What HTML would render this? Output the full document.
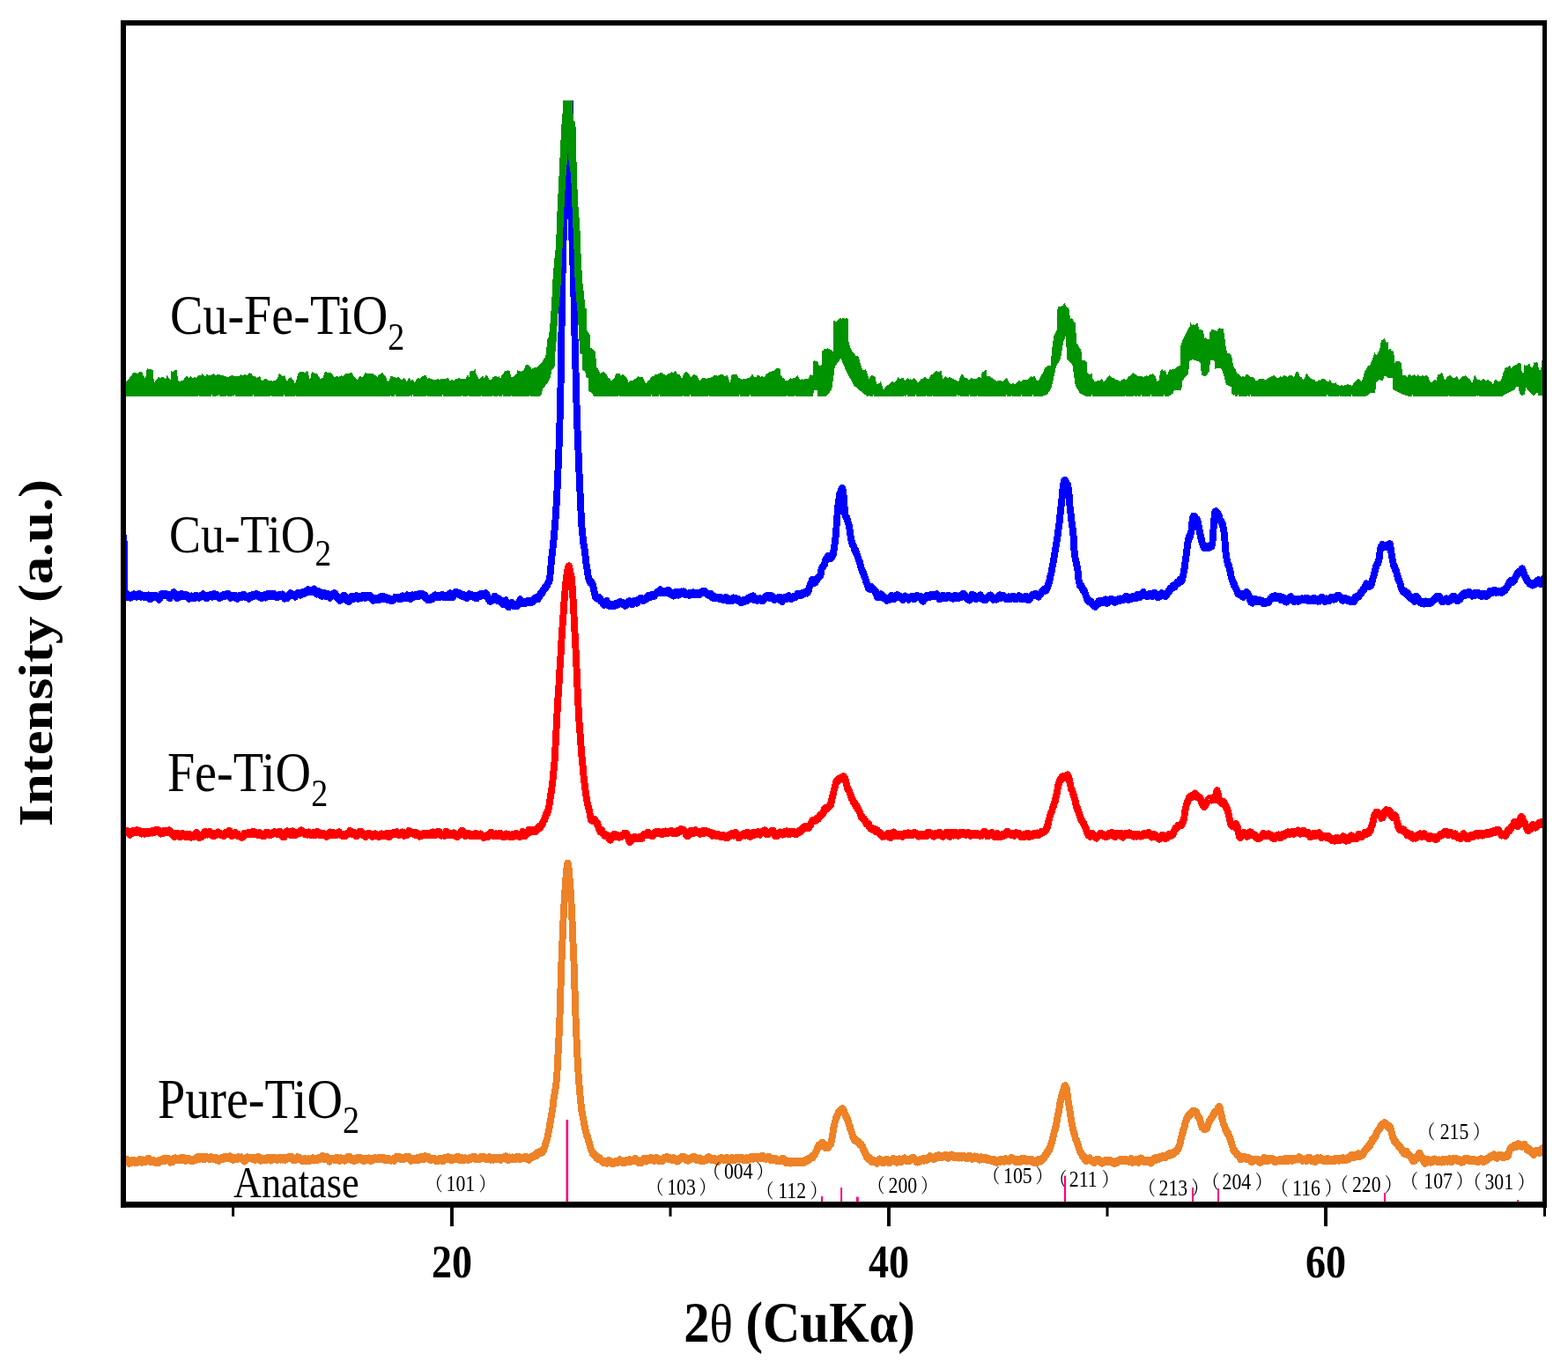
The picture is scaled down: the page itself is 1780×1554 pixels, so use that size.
<!DOCTYPE html>
<html lang="en">
<head>
<meta charset="utf-8">
<title>XRD patterns</title>
<style>html,body{margin:0;padding:0;background:#fff}svg{display:block}</style>
</head>
<body>
<svg width="1780" height="1554" viewBox="0 0 1780 1554">
<defs><clipPath id="plotclip"><rect x="140" y="114" width="1613" height="1254"/></clipPath></defs>
<rect width="1780" height="1554" fill="#fff"/>
<g clip-path="url(#plotclip)">
<g transform="scale(0.877 1)" fill="none" stroke-width="9.0" stroke-linejoin="round" stroke-linecap="butt" shape-rendering="crispEdges">
<path id="c-pure" stroke="#EE8227" d="M158.5 1317.7L159.1 1318.6L159.6 1318.9L160.2 1317.8L160.8 1317.9L161.3 1319.1L161.9 1316.8L162.5 1316.3L163.1 1317.5L163.6 1316.8L164.2 1316.6L164.8 1317.5L165.3 1318.7L165.9 1318.6L166.5 1318.8L167.0 1320.2L167.6 1320.0L168.2 1319.6L168.8 1320.0L169.3 1319.2L169.9 1319.6L170.5 1317.5L171.0 1317.7L171.6 1317.4L172.2 1317.1L172.7 1317.7L173.3 1317.3L173.9 1318.8L174.5 1319.3L175.0 1318.3L175.6 1319.2L176.2 1318.8L176.7 1318.2L177.3 1319.6L177.9 1318.5L178.4 1317.8L179.0 1318.7L179.6 1317.5L180.2 1318.6L180.7 1317.0L181.3 1316.6L181.9 1317.1L182.4 1317.6L183.0 1318.2L183.6 1319.2L184.2 1318.8L184.7 1317.8L185.3 1316.9L185.9 1317.0L186.4 1318.8L187.0 1317.9L187.6 1318.5L188.1 1317.2L188.7 1317.0L189.3 1318.3L189.9 1317.4L190.4 1316.5L191.0 1316.2L191.6 1315.5L192.1 1315.7L192.7 1315.6L193.3 1317.7L193.8 1317.6L194.4 1317.3L195.0 1318.6L195.6 1317.5L196.1 1317.1L196.7 1318.0L197.3 1318.7L197.8 1317.1L198.4 1319.0L199.0 1318.3L199.5 1318.5L200.1 1318.5L200.7 1319.0L201.3 1319.7L201.8 1319.0L202.4 1319.7L203.0 1318.4L203.5 1318.6L204.1 1318.4L204.7 1319.7L205.2 1319.4L205.8 1317.8L206.4 1317.8L207.0 1317.4L207.5 1318.3L208.1 1317.0L208.7 1317.2L209.2 1317.7L209.8 1316.9L210.4 1317.4L210.9 1316.5L211.5 1315.6L212.1 1315.7L212.7 1316.0L213.2 1316.6L213.8 1317.3L214.4 1315.9L214.9 1316.9L215.5 1315.7L216.1 1316.0L216.6 1316.4L217.2 1316.6L217.8 1316.6L218.4 1315.6L218.9 1316.8L219.5 1317.0L220.1 1319.1L220.6 1317.6L221.2 1317.8L221.8 1318.0L222.3 1317.3L222.9 1318.7L223.5 1317.9L224.1 1316.4L224.6 1316.5L225.2 1315.1L225.8 1315.9L226.3 1315.1L226.9 1314.9L227.5 1315.3L228.1 1316.4L228.6 1316.8L229.2 1316.2L229.8 1316.8L230.3 1316.2L230.9 1315.6L231.5 1315.9L232.0 1315.8L232.6 1316.7L233.2 1315.0L233.8 1314.9L234.3 1315.9L234.9 1316.6L235.5 1316.3L236.0 1315.6L236.6 1314.2L237.2 1315.8L237.7 1316.0L238.3 1315.5L238.9 1316.6L239.5 1315.9L240.0 1317.3L240.6 1316.8L241.2 1316.8L241.7 1316.6L242.3 1315.6L242.9 1316.7L243.4 1315.6L244.0 1315.3L244.6 1315.9L245.2 1316.3L245.7 1316.2L246.3 1317.1L246.9 1317.3L247.4 1316.7L248.0 1317.4L248.6 1316.6L249.1 1317.2L249.7 1316.2L250.3 1317.3L250.9 1316.5L251.4 1316.7L252.0 1316.7L252.6 1316.0L253.1 1315.1L253.7 1316.3L254.3 1314.4L254.8 1314.7L255.4 1314.8L256.0 1313.3L256.6 1313.1L257.1 1314.2L257.7 1314.4L258.3 1314.5L258.8 1315.3L259.4 1315.0L260.0 1313.8L260.5 1314.0L261.1 1313.0L261.7 1313.8L262.3 1313.4L262.8 1313.4L263.4 1315.4L264.0 1315.2L264.5 1315.4L265.1 1315.0L265.7 1315.4L266.2 1314.6L266.8 1314.7L267.4 1313.5L268.0 1314.2L268.5 1314.6L269.1 1314.4L269.7 1314.7L270.2 1314.4L270.8 1315.4L271.4 1314.0L271.9 1315.5L272.5 1314.4L273.1 1313.7L273.7 1314.5L274.2 1314.0L274.8 1314.0L275.4 1315.1L275.9 1314.0L276.5 1315.3L277.1 1315.1L277.7 1315.4L278.2 1315.3L278.8 1314.5L279.4 1315.4L279.9 1316.3L280.5 1315.1L281.1 1314.9L281.6 1315.2L282.2 1316.1L282.8 1317.2L283.4 1315.3L283.9 1317.1L284.5 1316.1L285.1 1315.1L285.6 1315.5L286.2 1314.8L286.8 1315.5L287.3 1315.0L287.9 1314.3L288.5 1314.1L289.1 1315.2L289.6 1314.8L290.2 1313.7L290.8 1313.4L291.3 1314.0L291.9 1314.6L292.5 1313.1L293.0 1313.7L293.6 1314.4L294.2 1315.0L294.8 1314.3L295.3 1314.3L295.9 1314.5L296.5 1314.4L297.0 1314.7L297.6 1314.1L298.2 1312.9L298.7 1313.1L299.3 1314.3L299.9 1315.6L300.5 1316.1L301.0 1315.2L301.6 1316.3L302.2 1316.3L302.7 1315.1L303.3 1315.6L303.9 1314.9L304.4 1314.6L305.0 1315.6L305.6 1314.7L306.2 1315.7L306.7 1315.7L307.3 1315.5L307.9 1314.3L308.4 1313.4L309.0 1314.8L309.6 1314.8L310.1 1315.0L310.7 1314.2L311.3 1314.4L311.9 1314.0L312.4 1313.9L313.0 1314.5L313.6 1315.9L314.1 1315.6L314.7 1316.8L315.3 1316.8L315.8 1317.0L316.4 1318.1L317.0 1316.3L317.6 1316.6L318.1 1315.4L318.7 1316.4L319.3 1315.0L319.8 1314.2L320.4 1313.7L321.0 1314.6L321.6 1314.6L322.1 1314.4L322.7 1314.4L323.3 1315.0L323.8 1315.0L324.4 1314.5L325.0 1315.0L325.5 1315.0L326.1 1315.2L326.7 1315.1L327.3 1314.7L327.8 1315.1L328.4 1315.1L329.0 1315.3L329.5 1314.7L330.1 1316.2L330.7 1315.0L331.2 1314.3L331.8 1314.8L332.4 1314.9L333.0 1314.0L333.5 1313.8L334.1 1314.5L334.7 1313.8L335.2 1313.9L335.8 1315.5L336.4 1315.9L336.9 1317.1L337.5 1316.4L338.1 1317.1L338.7 1315.4L339.2 1315.2L339.8 1316.2L340.4 1315.4L340.9 1315.0L341.5 1315.0L342.1 1315.4L342.6 1315.4L343.2 1316.1L343.8 1317.0L344.4 1316.1L344.9 1315.6L345.5 1316.1L346.1 1314.5L346.6 1314.9L347.2 1314.7L347.8 1315.0L348.3 1314.7L348.9 1316.1L349.5 1316.5L350.1 1316.8L350.6 1317.1L351.2 1315.5L351.8 1315.7L352.3 1314.9L352.9 1314.2L353.5 1315.5L354.0 1315.2L354.6 1315.7L355.2 1315.6L355.8 1316.0L356.3 1314.7L356.9 1314.8L357.5 1315.4L358.0 1315.7L358.6 1316.1L359.2 1315.3L359.7 1315.4L360.3 1315.9L360.9 1314.7L361.5 1316.0L362.0 1314.8L362.6 1315.1L363.2 1315.9L363.7 1315.6L364.3 1315.0L364.9 1314.8L365.5 1316.1L366.0 1315.2L366.6 1314.8L367.2 1315.3L367.7 1314.7L368.3 1316.1L368.9 1314.5L369.4 1316.1L370.0 1314.5L370.6 1314.7L371.2 1315.3L371.7 1314.6L372.3 1314.5L372.9 1313.6L373.4 1314.0L374.0 1313.1L374.6 1313.6L375.1 1315.0L375.7 1313.8L376.3 1313.7L376.9 1314.4L377.4 1314.7L378.0 1313.6L378.6 1314.3L379.1 1315.7L379.7 1316.6L380.3 1316.8L380.8 1316.1L381.4 1315.9L382.0 1316.7L382.6 1316.2L383.1 1316.3L383.7 1315.7L384.3 1314.7L384.8 1313.8L385.4 1315.1L386.0 1314.6L386.5 1314.4L387.1 1314.8L387.7 1314.5L388.3 1314.8L388.8 1315.7L389.4 1315.9L390.0 1316.6L390.5 1317.3L391.1 1317.4L391.7 1316.7L392.2 1316.8L392.8 1317.9L393.4 1316.6L394.0 1317.1L394.5 1315.5L395.1 1316.2L395.7 1316.6L396.2 1317.5L396.8 1317.9L397.4 1316.5L397.9 1317.4L398.5 1317.1L399.1 1315.9L399.7 1317.0L400.2 1316.4L400.8 1317.3L401.4 1316.0L401.9 1316.8L402.5 1316.4L403.1 1316.7L403.6 1316.2L404.2 1315.5L404.8 1314.9L405.4 1315.2L405.9 1315.1L406.5 1316.4L407.1 1315.8L407.6 1315.9L408.2 1315.5L408.8 1315.4L409.4 1316.7L409.9 1315.3L410.5 1316.3L411.1 1315.6L411.6 1316.2L412.2 1314.4L412.8 1315.8L413.3 1315.4L413.9 1315.0L414.5 1315.2L415.1 1315.1L415.6 1314.3L416.2 1314.3L416.8 1313.2L417.3 1312.6L417.9 1314.1L418.5 1314.0L419.0 1315.2L419.6 1314.2L420.2 1315.3L420.8 1315.5L421.3 1315.2L421.9 1315.2L422.5 1313.6L423.0 1313.6L423.6 1314.0L424.2 1314.9L424.7 1315.2L425.3 1316.1L425.9 1316.4L426.5 1318.3L427.0 1316.9L427.6 1316.9L428.2 1316.0L428.7 1316.1L429.3 1316.0L429.9 1315.1L430.4 1315.6L431.0 1315.2L431.6 1316.0L432.2 1316.2L432.7 1316.4L433.3 1316.3L433.9 1316.4L434.4 1315.4L435.0 1315.0L435.6 1315.8L436.1 1314.2L436.7 1314.5L437.3 1315.0L437.9 1317.0L438.4 1316.8L439.0 1317.0L439.6 1317.2L440.1 1315.3L440.7 1316.3L441.3 1314.7L441.8 1315.3L442.4 1315.8L443.0 1316.3L443.6 1315.4L444.1 1315.9L444.7 1315.1L445.3 1315.6L445.8 1317.1L446.4 1316.9L447.0 1316.2L447.5 1316.4L448.1 1316.2L448.7 1314.7L449.3 1315.6L449.8 1314.3L450.4 1313.6L451.0 1314.3L451.5 1314.4L452.1 1314.5L452.7 1314.5L453.2 1313.5L453.8 1315.1L454.4 1316.0L455.0 1315.8L455.5 1316.7L456.1 1316.0L456.7 1316.9L457.2 1315.7L457.8 1317.3L458.4 1316.4L459.0 1317.2L459.5 1315.8L460.1 1316.1L460.7 1316.4L461.2 1315.9L461.8 1315.6L462.4 1316.3L462.9 1314.4L463.5 1314.4L464.1 1315.2L464.7 1315.9L465.2 1315.3L465.8 1314.6L466.4 1314.4L466.9 1315.2L467.5 1315.3L468.1 1315.4L468.6 1316.0L469.2 1315.7L469.8 1317.2L470.4 1316.2L470.9 1315.8L471.5 1316.2L472.1 1317.3L472.6 1315.7L473.2 1315.8L473.8 1317.0L474.3 1315.8L474.9 1316.8L475.5 1315.1L476.1 1316.6L476.6 1315.1L477.2 1314.9L477.8 1316.2L478.3 1316.9L478.9 1317.1L479.5 1316.9L480.0 1317.2L480.6 1317.3L481.2 1316.4L481.8 1315.6L482.3 1316.9L482.9 1315.9L483.5 1315.7L484.0 1315.9L484.6 1314.8L485.2 1314.6L485.7 1314.7L486.3 1315.1L486.9 1315.2L487.5 1315.5L488.0 1315.4L488.6 1315.8L489.2 1315.2L489.7 1315.4L490.3 1315.1L490.9 1314.1L491.4 1314.1L492.0 1315.7L492.6 1314.7L493.2 1315.9L493.7 1315.2L494.3 1314.1L494.9 1315.0L495.4 1314.7L496.0 1314.1L496.6 1314.9L497.1 1315.5L497.7 1316.1L498.3 1317.0L498.9 1315.8L499.4 1316.2L500.0 1316.4L500.6 1317.0L501.1 1315.4L501.7 1315.4L502.3 1315.8L502.9 1316.0L503.4 1316.0L504.0 1315.8L504.6 1316.0L505.1 1316.1L505.7 1316.7L506.3 1317.2L506.8 1316.6L507.4 1316.1L508.0 1315.9L508.6 1316.2L509.1 1316.1L509.7 1316.7L510.3 1317.3L510.8 1316.6L511.4 1314.9L512.0 1314.0L512.5 1313.7L513.1 1314.2L513.7 1313.9L514.3 1314.5L514.8 1313.2L515.4 1313.4L516.0 1314.3L516.5 1314.1L517.1 1314.3L517.7 1315.3L518.2 1314.0L518.8 1314.3L519.4 1315.0L520.0 1314.9L520.5 1315.7L521.1 1315.8L521.7 1315.2L522.2 1315.6L522.8 1315.4L523.4 1314.0L523.9 1314.5L524.5 1313.7L525.1 1313.7L525.7 1313.4L526.2 1313.2L526.8 1314.9L527.4 1314.6L527.9 1314.5L528.5 1313.5L529.1 1313.8L529.6 1313.5L530.2 1314.9L530.8 1316.1L531.4 1316.7L531.9 1317.5L532.5 1316.2L533.1 1316.8L533.6 1315.3L534.2 1315.9L534.8 1315.1L535.3 1316.1L535.9 1316.3L536.5 1316.1L537.1 1316.1L537.6 1316.7L538.2 1316.0L538.8 1315.7L539.3 1314.8L539.9 1314.9L540.5 1316.0L541.0 1316.4L541.6 1315.3L542.2 1316.3L542.8 1316.1L543.3 1314.3L543.9 1313.8L544.5 1314.1L545.0 1313.1L545.6 1314.6L546.2 1314.0L546.8 1315.3L547.3 1315.7L547.9 1314.8L548.5 1315.8L549.0 1314.1L549.6 1313.1L550.2 1312.6L550.7 1313.4L551.3 1313.9L551.9 1313.4L552.5 1314.8L553.0 1313.8L553.6 1315.1L554.2 1313.6L554.7 1314.2L555.3 1314.2L555.9 1315.1L556.4 1315.3L557.0 1315.6L557.6 1316.6L558.2 1316.1L558.7 1316.1L559.3 1315.5L559.9 1316.1L560.4 1315.2L561.0 1315.5L561.6 1315.8L562.1 1315.5L562.7 1315.7L563.3 1315.9L563.9 1317.5L564.4 1317.4L565.0 1317.5L565.6 1316.3L566.1 1316.7L566.7 1317.5L567.3 1315.9L567.8 1316.7L568.4 1315.9L569.0 1315.2L569.6 1315.6L570.1 1315.3L570.7 1316.9L571.3 1317.3L571.8 1316.2L572.4 1316.8L573.0 1317.7L573.5 1316.3L574.1 1316.6L574.7 1316.7L575.3 1315.8L575.8 1314.6L576.4 1315.9L577.0 1315.5L577.5 1315.0L578.1 1314.4L578.7 1314.7L579.2 1314.2L579.8 1313.7L580.4 1313.9L581.0 1314.1L581.5 1314.8L582.1 1315.2L582.7 1316.1L583.2 1315.9L583.8 1315.8L584.4 1316.3L584.9 1314.9L585.5 1315.8L586.1 1315.4L586.7 1316.1L587.2 1315.3L587.8 1315.1L588.4 1314.9L588.9 1315.1L589.5 1315.5L590.1 1314.2L590.6 1314.8L591.2 1313.6L591.8 1313.6L592.4 1314.0L592.9 1313.3L593.5 1314.5L594.1 1315.3L594.6 1316.3L595.2 1314.9L595.8 1316.2L596.4 1315.5L596.9 1315.3L597.5 1314.3L598.1 1316.1L598.6 1315.0L599.2 1315.7L599.8 1315.7L600.3 1316.4L600.9 1315.7L601.5 1316.4L602.1 1314.7L602.6 1315.5L603.2 1315.2L603.8 1315.1L604.3 1315.5L604.9 1315.6L605.5 1315.5L606.0 1316.4L606.6 1315.3L607.2 1315.9L607.8 1315.5L608.3 1314.6L608.9 1315.1L609.5 1315.3L610.0 1314.2L610.6 1314.5L611.2 1313.9L611.7 1314.8L612.3 1313.5L612.9 1313.6L613.5 1313.9L614.0 1313.9L614.6 1313.2L615.2 1315.3L615.7 1314.2L616.3 1315.3L616.9 1314.8L617.4 1315.8L618.0 1315.4L618.6 1315.4L619.2 1315.6L619.7 1315.7L620.3 1315.5L620.9 1315.5L621.4 1314.4L622.0 1313.7L622.6 1313.7L623.1 1313.7L623.7 1314.4L624.3 1314.2L624.9 1314.1L625.4 1313.7L626.0 1314.6L626.6 1313.6L627.1 1314.5L627.7 1315.2L628.3 1315.3L628.8 1314.6L629.4 1315.0L630.0 1316.0L630.6 1314.1L631.1 1315.0L631.7 1314.3L632.3 1314.5L632.8 1314.1L633.4 1313.8L634.0 1314.9L634.5 1314.2L635.1 1316.1L635.7 1316.1L636.3 1315.3L636.8 1315.6L637.4 1315.4L638.0 1316.2L638.5 1314.1L639.1 1314.5L639.7 1314.7L640.3 1315.4L640.8 1315.3L641.4 1314.7L642.0 1314.0L642.5 1315.4L643.1 1315.1L643.7 1314.6L644.2 1315.5L644.8 1315.0L645.4 1314.5L646.0 1314.4L646.5 1315.0L647.1 1314.7L647.7 1315.2L648.2 1316.4L648.8 1315.3L649.4 1314.5L649.9 1314.6L650.5 1315.0L651.1 1314.7L651.7 1314.2L652.2 1314.5L652.8 1314.0L653.4 1313.7L653.9 1313.2L654.5 1312.8L655.1 1314.4L655.6 1314.6L656.2 1315.8L656.8 1314.9L657.4 1316.4L657.9 1315.2L658.5 1316.6L659.1 1316.3L659.6 1314.0L660.2 1314.2L660.8 1315.4L661.3 1315.4L661.9 1314.9L662.5 1314.0L663.1 1313.9L663.6 1314.4L664.2 1315.9L664.8 1315.8L665.3 1315.1L665.9 1315.8L666.5 1316.0L667.0 1314.6L667.6 1315.6L668.2 1314.2L668.8 1314.1L669.3 1313.3L669.9 1313.3L670.5 1314.1L671.0 1313.2L671.6 1314.5L672.2 1314.2L672.7 1315.6L673.3 1314.5L673.9 1314.6L674.5 1314.4L675.0 1314.6L675.6 1314.6L676.2 1314.3L676.7 1314.3L677.3 1314.4L677.9 1314.4L678.4 1314.1L679.0 1313.7L679.6 1315.0L680.2 1314.2L680.7 1314.8L681.3 1313.8L681.9 1314.6L682.4 1314.4L683.0 1315.1L683.6 1316.1L684.2 1315.5L684.7 1316.2L685.3 1314.9L685.9 1315.1L686.4 1314.7L687.0 1314.4L687.6 1313.3L688.1 1313.8L688.7 1313.8L689.3 1313.6L689.9 1312.0L690.4 1312.8L691.0 1312.3L691.6 1312.4L692.1 1311.0L692.7 1311.9L693.3 1310.9L693.8 1311.7L694.4 1309.4L695.0 1309.8L695.6 1309.4L696.1 1309.7L696.7 1309.2L697.3 1307.9L697.8 1308.0L698.4 1308.8L699.0 1308.0L699.5 1307.6L700.1 1308.8L700.7 1308.5L701.3 1307.3L701.8 1307.3L702.4 1307.5L703.0 1305.4L703.5 1305.8L704.1 1304.6L704.7 1303.0L705.2 1301.4L705.8 1299.7L706.4 1297.8L707.0 1296.2L707.5 1293.9L708.1 1293.0L708.7 1291.3L709.2 1288.7L709.8 1286.5L710.4 1283.2L710.9 1281.0L711.5 1277.9L712.1 1273.8L712.7 1272.7L713.2 1269.2L713.8 1266.1L714.4 1263.1L714.9 1260.2L715.5 1257.0L716.1 1252.7L716.6 1248.5L717.2 1245.8L717.8 1241.7L718.4 1239.9L718.9 1235.7L719.5 1233.3L720.1 1228.4L720.6 1223.8L721.2 1216.3L721.8 1208.1L722.3 1197.7L722.9 1188.9L723.5 1177.4L724.1 1167.1L724.6 1154.3L725.2 1137.3L725.8 1120.4L726.3 1105.5L726.9 1091.3L727.5 1078.9L728.1 1066.3L728.6 1055.8L729.2 1043.5L729.8 1033.5L730.3 1025.2L730.9 1016.6L731.5 1009.7L732.0 1002.1L732.6 996.1L733.2 991.1L733.8 984.6L734.3 981.3L734.9 980.1L735.5 981.8L736.0 983.8L736.6 990.3L737.2 996.3L737.7 1002.8L738.3 1009.0L738.9 1016.8L739.5 1025.3L740.0 1034.2L740.6 1044.9L741.2 1056.5L741.7 1068.9L742.3 1080.4L742.9 1092.7L743.4 1108.5L744.0 1122.8L744.6 1138.6L745.2 1155.3L745.7 1166.8L746.3 1178.1L746.9 1189.6L747.4 1199.8L748.0 1209.1L748.6 1218.4L749.1 1224.5L749.7 1230.8L750.3 1237.1L750.9 1244.2L751.4 1248.2L752.0 1252.6L752.6 1257.4L753.1 1261.3L753.7 1263.5L754.3 1267.0L754.8 1268.8L755.4 1271.9L756.0 1275.4L756.6 1277.6L757.1 1280.2L757.7 1282.2L758.3 1284.3L758.8 1287.1L759.4 1288.6L760.0 1288.7L760.5 1290.7L761.1 1292.9L761.7 1294.7L762.3 1295.7L762.8 1297.9L763.4 1298.9L764.0 1301.9L764.5 1303.8L765.1 1304.7L765.7 1305.8L766.2 1306.6L766.8 1308.7L767.4 1309.5L768.0 1308.8L768.5 1310.2L769.1 1311.6L769.7 1310.5L770.2 1311.5L770.8 1312.1L771.4 1313.4L771.9 1313.5L772.5 1314.7L773.1 1313.4L773.7 1314.0L774.2 1315.7L774.8 1314.1L775.4 1314.7L775.9 1315.2L776.5 1314.8L777.1 1315.9L777.7 1317.0L778.2 1317.5L778.8 1317.9L779.4 1318.4L779.9 1318.7L780.5 1317.9L781.1 1319.4L781.6 1319.3L782.2 1318.5L782.8 1318.7L783.4 1318.3L783.9 1319.8L784.5 1318.9L785.1 1318.9L785.6 1320.1L786.2 1319.6L786.8 1319.1L787.3 1318.2L787.9 1317.3L788.5 1317.4L789.1 1317.9L789.6 1318.5L790.2 1319.6L790.8 1318.7L791.3 1320.2L791.9 1319.0L792.5 1319.5L793.0 1321.0L793.6 1319.4L794.2 1319.6L794.8 1320.1L795.3 1319.3L795.9 1318.8L796.5 1319.1L797.0 1319.7L797.6 1319.8L798.2 1318.5L798.7 1318.5L799.3 1318.8L799.9 1318.2L800.5 1319.1L801.0 1318.7L801.6 1316.9L802.2 1316.6L802.7 1317.1L803.3 1317.9L803.9 1318.3L804.4 1318.0L805.0 1318.5L805.6 1319.3L806.2 1319.4L806.7 1318.0L807.3 1319.4L807.9 1319.6L808.4 1319.9L809.0 1318.8L809.6 1318.0L810.1 1318.3L810.7 1317.9L811.3 1317.8L811.9 1318.7L812.4 1318.4L813.0 1318.5L813.6 1318.3L814.1 1317.1L814.7 1316.6L815.3 1317.2L815.8 1318.1L816.4 1317.7L817.0 1318.1L817.6 1317.7L818.1 1317.8L818.7 1317.9L819.3 1317.0L819.8 1316.8L820.4 1316.7L821.0 1316.2L821.6 1316.5L822.1 1315.4L822.7 1315.8L823.3 1317.9L823.8 1316.9L824.4 1317.4L825.0 1317.5L825.5 1318.8L826.1 1317.8L826.7 1319.4L827.3 1318.3L827.8 1319.0L828.4 1319.3L829.0 1318.9L829.5 1318.4L830.1 1318.9L830.7 1319.2L831.2 1318.6L831.8 1317.1L832.4 1316.1L833.0 1317.3L833.5 1316.5L834.1 1315.3L834.7 1316.4L835.2 1316.8L835.8 1316.6L836.4 1318.1L836.9 1316.8L837.5 1316.3L838.1 1316.1L838.7 1315.7L839.2 1316.7L839.8 1316.2L840.4 1315.2L840.9 1315.6L841.5 1314.9L842.1 1315.9L842.6 1316.1L843.2 1314.6L843.8 1315.6L844.4 1315.3L844.9 1315.6L845.5 1316.7L846.1 1317.4L846.6 1316.0L847.2 1316.5L847.8 1315.8L848.3 1314.9L848.9 1315.5L849.5 1314.3L850.1 1315.4L850.6 1315.8L851.2 1315.1L851.8 1316.6L852.3 1316.4L852.9 1317.8L853.5 1316.8L854.0 1317.5L854.6 1317.3L855.2 1317.1L855.8 1316.5L856.3 1317.9L856.9 1317.0L857.5 1317.7L858.0 1316.7L858.6 1316.0L859.2 1315.9L859.7 1314.6L860.3 1315.0L860.9 1314.1L861.5 1314.5L862.0 1314.2L862.6 1314.5L863.2 1313.4L863.7 1313.5L864.3 1315.2L864.9 1314.6L865.5 1314.7L866.0 1315.3L866.6 1314.3L867.2 1315.7L867.7 1315.5L868.3 1315.7L868.9 1315.3L869.4 1316.5L870.0 1316.5L870.6 1316.0L871.2 1316.1L871.7 1314.5L872.3 1316.0L872.9 1316.6L873.4 1316.2L874.0 1315.6L874.6 1316.7L875.1 1316.3L875.7 1316.0L876.3 1318.0L876.9 1318.0L877.4 1317.6L878.0 1317.6L878.6 1317.2L879.1 1316.3L879.7 1315.1L880.3 1315.0L880.8 1314.9L881.4 1314.7L882.0 1313.8L882.6 1313.2L883.1 1313.6L883.7 1313.3L884.3 1314.9L884.8 1313.6L885.4 1314.0L886.0 1314.5L886.5 1314.2L887.1 1315.0L887.7 1315.5L888.3 1314.8L888.8 1316.8L889.4 1316.1L890.0 1315.4L890.5 1317.2L891.1 1315.6L891.7 1316.8L892.2 1316.4L892.8 1315.9L893.4 1316.0L894.0 1315.8L894.5 1314.9L895.1 1314.0L895.7 1313.9L896.2 1313.8L896.8 1314.4L897.4 1313.8L897.9 1313.7L898.5 1315.3L899.1 1313.7L899.7 1314.7L900.2 1314.5L900.8 1315.7L901.4 1314.6L901.9 1316.5L902.5 1315.3L903.1 1315.6L903.6 1316.6L904.2 1315.4L904.8 1316.0L905.4 1316.0L905.9 1315.0L906.5 1316.7L907.1 1316.4L907.6 1317.8L908.2 1316.0L908.8 1316.2L909.4 1317.4L909.9 1316.8L910.5 1317.1L911.1 1318.0L911.6 1316.7L912.2 1315.9L912.8 1315.9L913.3 1316.5L913.9 1316.8L914.5 1316.4L915.1 1315.5L915.6 1314.6L916.2 1314.0L916.8 1313.8L917.3 1313.7L917.9 1315.3L918.5 1314.6L919.0 1314.5L919.6 1316.0L920.2 1315.9L920.8 1315.1L921.3 1316.9L921.9 1316.6L922.5 1315.0L923.0 1316.1L923.6 1315.5L924.2 1316.1L924.7 1316.2L925.3 1316.5L925.9 1316.2L926.5 1315.9L927.0 1317.5L927.6 1317.1L928.2 1317.3L928.7 1318.1L929.3 1317.9L929.9 1318.3L930.4 1316.8L931.0 1317.0L931.6 1315.5L932.2 1315.2L932.7 1315.1L933.3 1314.8L933.9 1315.0L934.4 1314.5L935.0 1315.9L935.6 1315.1L936.1 1315.2L936.7 1316.5L937.3 1316.3L937.9 1316.2L938.4 1316.3L939.0 1315.8L939.6 1315.0L940.1 1316.3L940.7 1314.4L941.3 1316.1L941.8 1315.2L942.4 1315.0L943.0 1315.4L943.6 1315.5L944.1 1316.7L944.7 1316.7L945.3 1316.6L945.8 1315.3L946.4 1315.4L947.0 1314.5L947.5 1315.8L948.1 1314.5L948.7 1315.5L949.3 1315.1L949.8 1316.6L950.4 1316.7L951.0 1315.4L951.5 1316.4L952.1 1314.8L952.7 1315.6L953.2 1314.4L953.8 1314.6L954.4 1314.9L955.0 1314.5L955.5 1314.3L956.1 1315.2L956.7 1315.7L957.2 1316.2L957.8 1315.0L958.4 1315.1L959.0 1314.8L959.5 1315.0L960.1 1314.5L960.7 1314.8L961.2 1315.9L961.8 1315.0L962.4 1316.4L962.9 1316.0L963.5 1316.0L964.1 1316.5L964.7 1316.1L965.2 1315.8L965.8 1314.9L966.4 1315.8L966.9 1316.7L967.5 1315.3L968.1 1315.6L968.6 1316.5L969.2 1315.5L969.8 1314.8L970.4 1315.8L970.9 1314.2L971.5 1315.3L972.1 1314.7L972.6 1313.5L973.2 1314.0L973.8 1313.6L974.3 1314.5L974.9 1315.2L975.5 1313.4L976.1 1313.2L976.6 1313.1L977.2 1313.5L977.8 1313.3L978.3 1314.9L978.9 1314.6L979.5 1315.1L980.0 1314.5L980.6 1314.9L981.2 1314.6L981.8 1313.6L982.3 1314.2L982.9 1313.5L983.5 1313.9L984.0 1314.6L984.6 1313.3L985.2 1313.0L985.7 1314.2L986.3 1313.1L986.9 1312.3L987.5 1312.6L988.0 1312.6L988.6 1314.2L989.2 1313.7L989.7 1314.9L990.3 1314.2L990.9 1315.3L991.4 1315.3L992.0 1314.7L992.6 1315.1L993.2 1314.0L993.7 1313.5L994.3 1314.2L994.9 1313.1L995.4 1314.0L996.0 1314.7L996.6 1315.5L997.1 1316.2L997.7 1315.2L998.3 1316.7L998.9 1315.9L999.4 1316.2L1000.0 1315.9L1000.6 1316.8L1001.1 1315.7L1001.7 1315.1L1002.3 1316.7L1002.9 1316.3L1003.4 1316.5L1004.0 1315.5L1004.6 1315.9L1005.1 1316.9L1005.7 1317.4L1006.3 1317.4L1006.8 1317.5L1007.4 1317.9L1008.0 1317.0L1008.6 1317.7L1009.1 1317.2L1009.7 1317.7L1010.3 1316.8L1010.8 1316.8L1011.4 1316.4L1012.0 1316.5L1012.5 1316.4L1013.1 1315.1L1013.7 1317.0L1014.3 1317.1L1014.8 1317.2L1015.4 1318.3L1016.0 1319.1L1016.5 1319.0L1017.1 1317.6L1017.7 1317.9L1018.2 1319.1L1018.8 1319.8L1019.4 1318.0L1020.0 1318.0L1020.5 1319.2L1021.1 1319.2L1021.7 1319.9L1022.2 1318.9L1022.8 1319.5L1023.4 1320.1L1023.9 1319.3L1024.5 1319.3L1025.1 1318.6L1025.7 1320.0L1026.2 1319.1L1026.8 1318.6L1027.4 1318.8L1027.9 1319.0L1028.5 1319.0L1029.1 1318.2L1029.6 1319.1L1030.2 1318.9L1030.8 1319.7L1031.4 1319.4L1031.9 1319.0L1032.5 1319.4L1033.1 1319.0L1033.6 1319.4L1034.2 1318.6L1034.8 1319.7L1035.3 1318.7L1035.9 1319.3L1036.5 1318.3L1037.1 1319.3L1037.6 1319.9L1038.2 1320.0L1038.8 1319.7L1039.3 1318.9L1039.9 1319.5L1040.5 1319.5L1041.0 1319.2L1041.6 1318.6L1042.2 1317.8L1042.8 1318.1L1043.3 1316.7L1043.9 1318.1L1044.5 1316.8L1045.0 1316.6L1045.6 1316.8L1046.2 1315.8L1046.8 1316.8L1047.3 1316.4L1047.9 1315.5L1048.5 1314.6L1049.0 1315.1L1049.6 1313.6L1050.2 1313.6L1050.7 1312.8L1051.3 1313.0L1051.9 1313.8L1052.5 1312.9L1053.0 1312.3L1053.6 1311.7L1054.2 1311.3L1054.7 1310.5L1055.3 1309.3L1055.9 1308.4L1056.4 1306.5L1057.0 1305.9L1057.6 1305.0L1058.2 1302.8L1058.7 1301.8L1059.3 1302.1L1059.9 1300.1L1060.4 1299.8L1061.0 1300.7L1061.6 1298.9L1062.1 1298.7L1062.7 1299.3L1063.3 1297.7L1063.9 1298.2L1064.4 1298.2L1065.0 1297.2L1065.6 1298.2L1066.1 1300.3L1066.7 1299.6L1067.3 1300.3L1067.8 1301.8L1068.4 1300.6L1069.0 1302.7L1069.6 1302.2L1070.1 1302.2L1070.7 1301.1L1071.3 1302.3L1071.8 1302.7L1072.4 1301.8L1073.0 1300.9L1073.5 1300.6L1074.1 1299.7L1074.7 1299.3L1075.3 1299.0L1075.8 1296.3L1076.4 1295.2L1077.0 1292.4L1077.5 1289.2L1078.1 1286.1L1078.7 1283.2L1079.2 1279.7L1079.8 1278.2L1080.4 1275.0L1081.0 1272.5L1081.5 1272.0L1082.1 1270.1L1082.7 1267.7L1083.2 1268.0L1083.8 1266.1L1084.4 1264.6L1084.9 1263.5L1085.5 1262.3L1086.1 1261.9L1086.7 1261.4L1087.2 1261.0L1087.8 1261.8L1088.4 1260.6L1088.9 1259.4L1089.5 1259.4L1090.1 1259.3L1090.6 1258.5L1091.2 1259.5L1091.8 1260.2L1092.4 1262.0L1092.9 1262.3L1093.5 1264.3L1094.1 1265.7L1094.6 1266.0L1095.2 1268.0L1095.8 1268.7L1096.4 1268.9L1096.9 1269.7L1097.5 1273.0L1098.1 1272.8L1098.6 1276.0L1099.2 1276.6L1099.8 1277.6L1100.3 1280.8L1100.9 1281.7L1101.5 1282.6L1102.1 1285.0L1102.6 1286.2L1103.2 1287.2L1103.8 1289.4L1104.3 1290.9L1104.9 1291.0L1105.5 1293.0L1106.0 1294.1L1106.6 1294.0L1107.2 1294.4L1107.8 1295.0L1108.3 1295.0L1108.9 1294.8L1109.5 1295.5L1110.0 1296.4L1110.6 1296.7L1111.2 1296.2L1111.7 1296.9L1112.3 1297.9L1112.9 1299.3L1113.5 1298.4L1114.0 1298.9L1114.6 1300.4L1115.2 1299.7L1115.7 1300.8L1116.3 1301.7L1116.9 1302.4L1117.4 1305.0L1118.0 1305.4L1118.6 1306.7L1119.2 1307.5L1119.7 1307.9L1120.3 1310.4L1120.9 1310.1L1121.4 1311.6L1122.0 1313.7L1122.6 1313.9L1123.1 1314.8L1123.7 1314.8L1124.3 1315.4L1124.9 1315.1L1125.4 1315.5L1126.0 1314.9L1126.6 1315.4L1127.1 1316.9L1127.7 1318.0L1128.3 1318.6L1128.8 1318.2L1129.4 1317.5L1130.0 1317.6L1130.6 1317.7L1131.1 1317.9L1131.7 1318.7L1132.3 1317.7L1132.8 1318.2L1133.4 1319.2L1134.0 1318.5L1134.5 1318.6L1135.1 1320.2L1135.7 1318.2L1136.3 1319.4L1136.8 1318.7L1137.4 1316.5L1138.0 1317.1L1138.5 1316.0L1139.1 1316.1L1139.7 1318.0L1140.3 1318.4L1140.8 1318.6L1141.4 1318.4L1142.0 1319.7L1142.5 1318.9L1143.1 1319.7L1143.7 1319.0L1144.2 1317.5L1144.8 1318.8L1145.4 1318.8L1146.0 1318.7L1146.5 1317.9L1147.1 1316.5L1147.7 1317.9L1148.2 1316.9L1148.8 1316.6L1149.4 1317.1L1149.9 1317.7L1150.5 1319.5L1151.1 1318.1L1151.7 1319.6L1152.2 1317.3L1152.8 1318.3L1153.4 1317.0L1153.9 1317.3L1154.5 1316.5L1155.1 1317.6L1155.6 1315.8L1156.2 1316.2L1156.8 1316.3L1157.4 1316.1L1157.9 1315.9L1158.5 1316.4L1159.1 1318.2L1159.6 1317.0L1160.2 1317.3L1160.8 1319.2L1161.3 1319.0L1161.9 1318.1L1162.5 1317.1L1163.1 1317.6L1163.6 1316.4L1164.2 1315.8L1164.8 1317.2L1165.3 1317.9L1165.9 1318.3L1166.5 1318.9L1167.0 1317.0L1167.6 1318.0L1168.2 1316.8L1168.8 1316.7L1169.3 1315.7L1169.9 1315.1L1170.5 1315.0L1171.0 1314.9L1171.6 1315.6L1172.2 1316.4L1172.7 1317.4L1173.3 1316.4L1173.9 1317.0L1174.5 1317.0L1175.0 1317.3L1175.6 1317.0L1176.2 1316.8L1176.7 1316.9L1177.3 1316.5L1177.9 1317.2L1178.4 1317.2L1179.0 1316.4L1179.6 1315.2L1180.2 1315.6L1180.7 1315.0L1181.3 1314.6L1181.9 1314.6L1182.4 1315.6L1183.0 1314.7L1183.6 1315.2L1184.2 1315.6L1184.7 1315.9L1185.3 1317.3L1185.9 1317.5L1186.4 1318.8L1187.0 1318.2L1187.6 1319.0L1188.1 1318.8L1188.7 1318.1L1189.3 1317.2L1189.9 1317.6L1190.4 1317.1L1191.0 1318.1L1191.6 1316.6L1192.1 1317.4L1192.7 1316.5L1193.3 1316.6L1193.8 1316.9L1194.4 1315.7L1195.0 1315.4L1195.6 1315.7L1196.1 1317.3L1196.7 1316.7L1197.3 1316.2L1197.8 1315.7L1198.4 1315.4L1199.0 1315.8L1199.5 1316.1L1200.1 1315.6L1200.7 1316.1L1201.3 1316.1L1201.8 1314.8L1202.4 1313.9L1203.0 1314.4L1203.5 1312.8L1204.1 1314.2L1204.7 1314.6L1205.2 1314.6L1205.8 1313.5L1206.4 1314.5L1207.0 1315.0L1207.5 1314.4L1208.1 1315.5L1208.7 1314.3L1209.2 1315.0L1209.8 1314.9L1210.4 1315.1L1210.9 1314.0L1211.5 1313.4L1212.1 1314.0L1212.7 1312.3L1213.2 1312.3L1213.8 1312.1L1214.4 1312.6L1214.9 1311.8L1215.5 1312.2L1216.1 1312.7L1216.6 1313.0L1217.2 1313.9L1217.8 1313.3L1218.4 1313.8L1218.9 1312.7L1219.5 1312.9L1220.1 1312.7L1220.6 1312.3L1221.2 1312.7L1221.8 1311.9L1222.3 1312.5L1222.9 1313.0L1223.5 1311.5L1224.1 1311.9L1224.6 1312.4L1225.2 1311.7L1225.8 1312.3L1226.3 1313.6L1226.9 1313.6L1227.5 1314.6L1228.1 1313.6L1228.6 1313.4L1229.2 1311.9L1229.8 1311.4L1230.3 1312.0L1230.9 1311.4L1231.5 1312.0L1232.0 1311.0L1232.6 1311.2L1233.2 1312.9L1233.8 1312.3L1234.3 1312.6L1234.9 1313.3L1235.5 1313.8L1236.0 1312.9L1236.6 1313.4L1237.2 1312.7L1237.7 1312.3L1238.3 1312.9L1238.9 1313.1L1239.5 1312.4L1240.0 1313.3L1240.6 1312.5L1241.2 1314.1L1241.7 1313.3L1242.3 1312.7L1242.9 1312.5L1243.4 1313.1L1244.0 1313.5L1244.6 1314.0L1245.2 1314.0L1245.7 1313.8L1246.3 1312.9L1246.9 1313.1L1247.4 1312.9L1248.0 1312.6L1248.6 1312.7L1249.1 1313.3L1249.7 1314.3L1250.3 1313.5L1250.9 1314.7L1251.4 1313.6L1252.0 1313.8L1252.6 1314.4L1253.1 1314.2L1253.7 1313.8L1254.3 1313.3L1254.8 1312.3L1255.4 1313.7L1256.0 1313.0L1256.6 1313.9L1257.1 1314.4L1257.7 1313.5L1258.3 1315.4L1258.8 1313.9L1259.4 1315.1L1260.0 1314.2L1260.5 1313.5L1261.1 1314.0L1261.7 1312.9L1262.3 1314.0L1262.8 1313.4L1263.4 1313.3L1264.0 1313.1L1264.5 1314.7L1265.1 1314.7L1265.7 1315.1L1266.2 1314.4L1266.8 1315.6L1267.4 1314.1L1268.0 1316.1L1268.5 1315.9L1269.1 1314.4L1269.7 1315.9L1270.2 1313.7L1270.8 1314.9L1271.4 1314.0L1271.9 1315.3L1272.5 1316.0L1273.1 1314.8L1273.7 1315.1L1274.2 1316.0L1274.8 1314.9L1275.4 1314.2L1275.9 1314.3L1276.5 1314.6L1277.1 1314.9L1277.7 1315.7L1278.2 1316.7L1278.8 1316.2L1279.4 1315.6L1279.9 1316.2L1280.5 1316.5L1281.1 1316.5L1281.6 1316.9L1282.2 1317.0L1282.8 1317.3L1283.4 1317.0L1283.9 1316.2L1284.5 1317.8L1285.1 1317.8L1285.6 1317.6L1286.2 1317.1L1286.8 1318.2L1287.3 1316.8L1287.9 1318.4L1288.5 1318.3L1289.1 1318.7L1289.6 1317.5L1290.2 1319.4L1290.8 1317.7L1291.3 1318.0L1291.9 1318.7L1292.5 1318.8L1293.0 1317.8L1293.6 1317.8L1294.2 1318.8L1294.8 1317.3L1295.3 1317.2L1295.9 1316.2L1296.5 1316.8L1297.0 1317.0L1297.6 1317.0L1298.2 1316.1L1298.7 1316.5L1299.3 1317.2L1299.9 1318.0L1300.5 1317.6L1301.0 1316.3L1301.6 1315.9L1302.2 1316.3L1302.7 1316.7L1303.3 1316.3L1303.9 1317.5L1304.4 1316.7L1305.0 1316.7L1305.6 1317.8L1306.2 1318.1L1306.7 1316.7L1307.3 1316.4L1307.9 1315.7L1308.4 1314.8L1309.0 1315.9L1309.6 1314.6L1310.1 1315.9L1310.7 1316.1L1311.3 1316.1L1311.9 1315.4L1312.4 1315.9L1313.0 1317.4L1313.6 1317.9L1314.1 1317.4L1314.7 1317.6L1315.3 1318.9L1315.8 1317.4L1316.4 1317.6L1317.0 1316.2L1317.6 1316.4L1318.1 1318.0L1318.7 1317.1L1319.3 1318.0L1319.8 1318.4L1320.4 1318.9L1321.0 1317.9L1321.6 1318.0L1322.1 1316.5L1322.7 1316.8L1323.3 1315.2L1323.8 1315.4L1324.4 1315.3L1325.0 1315.6L1325.5 1317.1L1326.1 1316.6L1326.7 1317.1L1327.3 1317.4L1327.8 1315.9L1328.4 1317.3L1329.0 1318.1L1329.5 1317.0L1330.1 1316.7L1330.7 1317.5L1331.2 1317.6L1331.8 1318.0L1332.4 1317.7L1333.0 1317.1L1333.5 1316.6L1334.1 1316.8L1334.7 1317.0L1335.2 1316.6L1335.8 1317.2L1336.4 1318.7L1336.9 1318.2L1337.5 1317.9L1338.1 1319.3L1338.7 1318.8L1339.2 1319.3L1339.8 1319.2L1340.4 1318.7L1340.9 1319.8L1341.5 1319.1L1342.1 1319.4L1342.6 1316.9L1343.2 1317.4L1343.8 1316.7L1344.4 1316.5L1344.9 1317.0L1345.5 1316.2L1346.1 1316.9L1346.6 1316.9L1347.2 1318.1L1347.8 1317.9L1348.3 1316.9L1348.9 1316.7L1349.5 1316.2L1350.1 1315.6L1350.6 1313.9L1351.2 1314.2L1351.8 1314.1L1352.3 1312.5L1352.9 1311.3L1353.5 1310.5L1354.0 1310.8L1354.6 1309.5L1355.2 1308.0L1355.8 1307.4L1356.3 1308.2L1356.9 1307.1L1357.5 1306.2L1358.0 1304.1L1358.6 1304.7L1359.2 1302.0L1359.7 1300.9L1360.3 1299.2L1360.9 1299.0L1361.5 1296.6L1362.0 1294.6L1362.6 1292.3L1363.2 1290.8L1363.7 1288.3L1364.3 1286.3L1364.9 1283.9L1365.5 1283.5L1366.0 1280.1L1366.6 1279.8L1367.2 1277.5L1367.7 1274.2L1368.3 1270.9L1368.9 1268.3L1369.4 1265.5L1370.0 1263.9L1370.6 1260.4L1371.2 1258.5L1371.7 1254.2L1372.3 1251.2L1372.9 1249.3L1373.4 1247.4L1374.0 1244.8L1374.6 1242.4L1375.1 1240.9L1375.7 1240.1L1376.3 1238.1L1376.9 1236.5L1377.4 1234.0L1378.0 1233.4L1378.6 1232.8L1379.1 1232.7L1379.7 1234.0L1380.3 1234.6L1380.8 1237.2L1381.4 1240.8L1382.0 1244.5L1382.6 1249.2L1383.1 1252.1L1383.7 1254.7L1384.3 1257.9L1384.8 1260.2L1385.4 1265.0L1386.0 1268.5L1386.5 1270.6L1387.1 1274.2L1387.7 1276.8L1388.3 1278.8L1388.8 1282.3L1389.4 1283.1L1390.0 1285.9L1390.5 1287.2L1391.1 1288.1L1391.7 1290.8L1392.2 1293.2L1392.8 1293.7L1393.4 1294.7L1394.0 1295.4L1394.5 1297.3L1395.1 1299.7L1395.7 1299.5L1396.2 1303.0L1396.8 1304.0L1397.4 1304.8L1397.9 1307.2L1398.5 1308.1L1399.1 1309.0L1399.7 1308.7L1400.2 1309.6L1400.8 1311.2L1401.4 1312.7L1401.9 1312.4L1402.5 1313.0L1403.1 1313.8L1403.6 1313.8L1404.2 1316.3L1404.8 1316.4L1405.4 1317.0L1405.9 1317.4L1406.5 1317.5L1407.1 1316.9L1407.6 1315.7L1408.2 1315.3L1408.8 1315.2L1409.4 1315.5L1409.9 1316.1L1410.5 1314.8L1411.1 1316.4L1411.6 1317.3L1412.2 1317.2L1412.8 1317.2L1413.3 1317.6L1413.9 1317.9L1414.5 1318.4L1415.1 1317.7L1415.6 1319.5L1416.2 1319.1L1416.8 1318.3L1417.3 1319.1L1417.9 1317.5L1418.5 1317.7L1419.0 1316.6L1419.6 1317.1L1420.2 1316.5L1420.8 1316.7L1421.3 1316.9L1421.9 1316.6L1422.5 1318.0L1423.0 1317.7L1423.6 1317.9L1424.2 1318.9L1424.7 1318.7L1425.3 1319.5L1425.9 1320.0L1426.5 1320.1L1427.0 1319.4L1427.6 1319.7L1428.2 1319.4L1428.7 1319.2L1429.3 1318.0L1429.9 1318.5L1430.4 1318.5L1431.0 1318.2L1431.6 1317.5L1432.2 1318.8L1432.7 1318.6L1433.3 1318.7L1433.9 1317.5L1434.4 1318.8L1435.0 1317.5L1435.6 1319.0L1436.1 1317.8L1436.7 1318.4L1437.3 1318.8L1437.9 1317.9L1438.4 1318.2L1439.0 1318.9L1439.6 1319.3L1440.1 1319.9L1440.7 1319.4L1441.3 1320.4L1441.8 1319.2L1442.4 1319.9L1443.0 1320.2L1443.6 1318.7L1444.1 1320.0L1444.7 1319.9L1445.3 1319.2L1445.8 1319.6L1446.4 1318.8L1447.0 1317.7L1447.5 1318.1L1448.1 1317.0L1448.7 1316.9L1449.3 1317.4L1449.8 1317.0L1450.4 1317.5L1451.0 1318.0L1451.5 1316.9L1452.1 1316.6L1452.7 1316.5L1453.2 1317.1L1453.8 1318.0L1454.4 1316.9L1455.0 1318.0L1455.5 1316.9L1456.1 1316.6L1456.7 1317.0L1457.2 1317.5L1457.8 1317.6L1458.4 1316.8L1459.0 1316.8L1459.5 1318.0L1460.1 1317.6L1460.7 1317.5L1461.2 1318.3L1461.8 1316.7L1462.4 1317.6L1462.9 1317.5L1463.5 1315.5L1464.1 1316.9L1464.7 1315.8L1465.2 1316.6L1465.8 1317.5L1466.4 1319.4L1466.9 1317.6L1467.5 1318.4L1468.1 1318.1L1468.6 1317.3L1469.2 1318.5L1469.8 1316.7L1470.4 1317.7L1470.9 1316.8L1471.5 1317.4L1472.1 1318.0L1472.6 1318.6L1473.2 1319.3L1473.8 1319.4L1474.3 1317.3L1474.9 1316.4L1475.5 1316.3L1476.1 1315.0L1476.6 1315.7L1477.2 1316.5L1477.8 1315.9L1478.3 1315.6L1478.9 1316.0L1479.5 1317.2L1480.0 1318.0L1480.6 1318.4L1481.2 1318.3L1481.8 1317.5L1482.3 1318.3L1482.9 1317.7L1483.5 1318.3L1484.0 1317.4L1484.6 1318.7L1485.2 1318.1L1485.7 1318.4L1486.3 1318.4L1486.9 1318.7L1487.5 1317.6L1488.0 1319.0L1488.6 1318.6L1489.2 1318.5L1489.7 1320.1L1490.3 1319.5L1490.9 1318.6L1491.4 1317.7L1492.0 1317.9L1492.6 1317.9L1493.2 1316.8L1493.7 1315.8L1494.3 1314.9L1494.9 1314.7L1495.4 1315.8L1496.0 1314.6L1496.6 1316.4L1497.1 1316.0L1497.7 1315.3L1498.3 1314.7L1498.9 1315.1L1499.4 1316.0L1500.0 1314.2L1500.6 1314.2L1501.1 1313.4L1501.7 1314.3L1502.3 1314.4L1502.9 1313.4L1503.4 1312.8L1504.0 1314.0L1504.6 1313.2L1505.1 1314.0L1505.7 1313.0L1506.3 1312.7L1506.8 1312.6L1507.4 1313.0L1508.0 1313.1L1508.6 1313.5L1509.1 1312.6L1509.7 1311.8L1510.3 1312.6L1510.8 1311.4L1511.4 1311.0L1512.0 1311.0L1512.5 1310.5L1513.1 1309.7L1513.7 1311.3L1514.3 1309.9L1514.8 1310.0L1515.4 1310.9L1516.0 1310.7L1516.5 1309.8L1517.1 1310.4L1517.7 1308.9L1518.2 1309.3L1518.8 1310.0L1519.4 1309.5L1520.0 1308.6L1520.5 1308.5L1521.1 1307.9L1521.7 1306.6L1522.2 1307.3L1522.8 1306.2L1523.4 1305.6L1523.9 1305.7L1524.5 1304.5L1525.1 1303.4L1525.7 1302.5L1526.2 1301.4L1526.8 1300.4L1527.4 1298.5L1527.9 1295.7L1528.5 1293.8L1529.1 1290.8L1529.6 1289.9L1530.2 1288.4L1530.8 1285.5L1531.4 1284.5L1531.9 1281.6L1532.5 1281.0L1533.1 1278.9L1533.6 1277.6L1534.2 1274.7L1534.8 1273.0L1535.3 1272.4L1535.9 1269.9L1536.5 1270.1L1537.1 1267.8L1537.6 1266.8L1538.2 1266.2L1538.8 1266.7L1539.3 1265.0L1539.9 1265.4L1540.5 1264.7L1541.0 1265.6L1541.6 1263.8L1542.2 1263.5L1542.8 1263.9L1543.3 1262.7L1543.9 1261.4L1544.5 1262.8L1545.0 1261.3L1545.6 1261.3L1546.2 1261.9L1546.8 1261.5L1547.3 1262.4L1547.9 1262.2L1548.5 1262.2L1549.0 1263.7L1549.6 1265.5L1550.2 1265.7L1550.7 1267.5L1551.3 1268.2L1551.9 1269.1L1552.5 1269.1L1553.0 1269.8L1553.6 1272.3L1554.2 1274.7L1554.7 1275.9L1555.3 1277.1L1555.9 1279.8L1556.4 1279.9L1557.0 1280.5L1557.6 1279.6L1558.2 1281.2L1558.7 1280.5L1559.3 1281.7L1559.9 1280.5L1560.4 1280.1L1561.0 1280.6L1561.6 1281.1L1562.1 1280.3L1562.7 1279.7L1563.3 1277.3L1563.9 1277.0L1564.4 1274.8L1565.0 1273.8L1565.6 1272.1L1566.1 1271.9L1566.7 1271.4L1567.3 1270.0L1567.8 1269.2L1568.4 1269.2L1569.0 1267.5L1569.6 1267.2L1570.1 1267.0L1570.7 1264.8L1571.3 1264.9L1571.8 1262.7L1572.4 1262.7L1573.0 1262.0L1573.5 1262.5L1574.1 1262.1L1574.7 1261.8L1575.3 1262.1L1575.8 1260.8L1576.4 1260.1L1577.0 1257.3L1577.5 1257.5L1578.1 1256.0L1578.7 1257.4L1579.2 1257.9L1579.8 1261.6L1580.4 1263.2L1581.0 1265.9L1581.5 1267.7L1582.1 1271.4L1582.7 1272.0L1583.2 1273.9L1583.8 1275.8L1584.4 1277.4L1584.9 1278.0L1585.5 1278.9L1586.1 1282.2L1586.7 1282.2L1587.2 1282.9L1587.8 1285.0L1588.4 1286.3L1588.9 1285.4L1589.5 1286.1L1590.1 1288.2L1590.6 1289.1L1591.2 1289.7L1591.8 1291.2L1592.4 1293.7L1592.9 1293.6L1593.5 1295.5L1594.1 1297.4L1594.6 1299.8L1595.2 1300.6L1595.8 1301.8L1596.4 1304.6L1596.9 1305.7L1597.5 1305.2L1598.1 1306.9L1598.6 1307.2L1599.2 1307.4L1599.8 1308.5L1600.3 1309.0L1600.9 1310.2L1601.5 1311.0L1602.1 1310.3L1602.6 1310.4L1603.2 1311.6L1603.8 1312.7L1604.3 1312.7L1604.9 1313.1L1605.5 1313.9L1606.0 1315.8L1606.6 1315.9L1607.2 1314.8L1607.8 1314.9L1608.3 1314.4L1608.9 1313.7L1609.5 1314.9L1610.0 1313.7L1610.6 1314.3L1611.2 1314.0L1611.7 1313.7L1612.3 1314.0L1612.9 1315.7L1613.5 1315.9L1614.0 1315.8L1614.6 1315.2L1615.2 1315.4L1615.7 1315.5L1616.3 1314.7L1616.9 1315.3L1617.4 1316.0L1618.0 1315.2L1618.6 1317.4L1619.2 1317.2L1619.7 1318.6L1620.3 1318.9L1620.9 1317.0L1621.4 1318.0L1622.0 1316.8L1622.6 1317.2L1623.1 1317.6L1623.7 1316.6L1624.3 1317.0L1624.9 1317.0L1625.4 1316.2L1626.0 1316.8L1626.6 1316.5L1627.1 1316.9L1627.7 1317.4L1628.3 1316.2L1628.8 1317.2L1629.4 1317.6L1630.0 1317.8L1630.6 1319.1L1631.1 1318.3L1631.7 1319.1L1632.3 1317.5L1632.8 1317.9L1633.4 1316.9L1634.0 1317.9L1634.5 1316.9L1635.1 1315.4L1635.7 1315.2L1636.3 1314.5L1636.8 1316.2L1637.4 1316.7L1638.0 1317.3L1638.5 1317.3L1639.1 1317.0L1639.7 1317.5L1640.3 1317.7L1640.8 1317.0L1641.4 1315.9L1642.0 1316.6L1642.5 1315.5L1643.1 1315.7L1643.7 1316.8L1644.2 1316.3L1644.8 1316.5L1645.4 1316.2L1646.0 1316.2L1646.5 1315.5L1647.1 1316.7L1647.7 1316.0L1648.2 1316.4L1648.8 1317.5L1649.4 1317.6L1649.9 1318.8L1650.5 1317.8L1651.1 1317.1L1651.7 1318.3L1652.2 1318.2L1652.8 1317.4L1653.4 1317.6L1653.9 1317.1L1654.5 1317.4L1655.1 1317.0L1655.6 1317.5L1656.2 1317.7L1656.8 1316.6L1657.4 1317.0L1657.9 1317.6L1658.5 1316.9L1659.1 1317.9L1659.6 1316.1L1660.2 1316.2L1660.8 1316.6L1661.3 1316.7L1661.9 1317.8L1662.5 1316.0L1663.1 1317.2L1663.6 1317.1L1664.2 1315.2L1664.8 1317.2L1665.3 1317.1L1665.9 1316.4L1666.5 1317.8L1667.0 1316.2L1667.6 1316.3L1668.2 1315.7L1668.8 1315.8L1669.3 1315.3L1669.9 1315.9L1670.5 1316.5L1671.0 1316.5L1671.6 1316.6L1672.2 1317.3L1672.7 1317.0L1673.3 1315.4L1673.9 1316.4L1674.5 1316.3L1675.0 1316.3L1675.6 1315.1L1676.2 1316.1L1676.7 1315.5L1677.3 1315.6L1677.9 1315.8L1678.4 1315.6L1679.0 1316.0L1679.6 1315.3L1680.2 1315.6L1680.7 1314.5L1681.3 1313.6L1681.9 1313.9L1682.4 1314.7L1683.0 1315.2L1683.6 1316.2L1684.2 1316.1L1684.7 1315.6L1685.3 1316.2L1685.9 1316.8L1686.4 1317.3L1687.0 1316.9L1687.6 1316.7L1688.1 1316.0L1688.7 1316.7L1689.3 1316.3L1689.9 1316.1L1690.4 1317.4L1691.0 1317.1L1691.6 1317.4L1692.1 1316.6L1692.7 1315.3L1693.3 1314.5L1693.8 1315.1L1694.4 1314.8L1695.0 1315.2L1695.6 1315.1L1696.1 1314.8L1696.7 1315.3L1697.3 1316.5L1697.8 1317.5L1698.4 1316.8L1699.0 1316.7L1699.5 1316.5L1700.1 1317.4L1700.7 1317.5L1701.3 1317.2L1701.8 1316.7L1702.4 1318.5L1703.0 1318.1L1703.5 1316.4L1704.1 1315.2L1704.7 1315.7L1705.2 1314.8L1705.8 1315.2L1706.4 1315.3L1707.0 1315.2L1707.5 1316.5L1708.1 1315.5L1708.7 1314.8L1709.2 1315.6L1709.8 1316.2L1710.4 1315.1L1710.9 1316.0L1711.5 1316.1L1712.1 1317.0L1712.7 1316.5L1713.2 1316.5L1713.8 1317.9L1714.4 1317.7L1714.9 1317.5L1715.5 1317.3L1716.1 1317.8L1716.6 1315.9L1717.2 1316.4L1717.8 1316.6L1718.4 1315.6L1718.9 1317.3L1719.5 1316.8L1720.1 1317.0L1720.6 1317.5L1721.2 1316.8L1721.8 1317.7L1722.3 1316.8L1722.9 1318.0L1723.5 1317.1L1724.1 1317.5L1724.6 1316.3L1725.2 1316.5L1725.8 1316.6L1726.3 1316.5L1726.9 1317.3L1727.5 1316.5L1728.1 1317.3L1728.6 1315.8L1729.2 1315.9L1729.8 1315.8L1730.3 1315.7L1730.9 1316.4L1731.5 1315.4L1732.0 1316.6L1732.6 1317.1L1733.2 1317.3L1733.8 1315.6L1734.3 1316.0L1734.9 1316.3L1735.5 1315.2L1736.0 1316.2L1736.6 1315.6L1737.2 1315.4L1737.7 1314.9L1738.3 1314.8L1738.9 1316.5L1739.5 1316.0L1740.0 1315.7L1740.6 1317.0L1741.2 1315.8L1741.7 1316.5L1742.3 1315.7L1742.9 1316.6L1743.4 1316.1L1744.0 1314.5L1744.6 1315.4L1745.2 1315.7L1745.7 1314.3L1746.3 1315.6L1746.9 1313.8L1747.4 1313.8L1748.0 1312.8L1748.6 1312.0L1749.1 1312.3L1749.7 1311.1L1750.3 1312.4L1750.9 1312.7L1751.4 1313.4L1752.0 1313.8L1752.6 1313.9L1753.1 1313.4L1753.7 1313.1L1754.3 1311.9L1754.8 1311.3L1755.4 1312.5L1756.0 1311.2L1756.6 1312.6L1757.1 1311.2L1757.7 1310.4L1758.3 1309.9L1758.8 1311.7L1759.4 1312.1L1760.0 1311.0L1760.5 1312.4L1761.1 1310.9L1761.7 1311.9L1762.3 1311.2L1762.8 1311.1L1763.4 1309.6L1764.0 1310.5L1764.5 1309.9L1765.1 1309.3L1765.7 1307.7L1766.2 1306.5L1766.8 1306.1L1767.4 1305.5L1768.0 1304.9L1768.5 1303.7L1769.1 1303.6L1769.7 1303.3L1770.2 1302.8L1770.8 1302.6L1771.4 1301.2L1771.9 1300.5L1772.5 1300.0L1773.1 1300.2L1773.7 1299.8L1774.2 1297.5L1774.8 1297.1L1775.4 1296.0L1775.9 1295.7L1776.5 1293.3L1777.1 1293.8L1777.7 1293.7L1778.2 1293.3L1778.8 1291.6L1779.4 1291.0L1779.9 1290.8L1780.5 1290.0L1781.1 1287.5L1781.6 1287.9L1782.2 1285.5L1782.8 1284.7L1783.4 1284.0L1783.9 1283.2L1784.5 1282.3L1785.1 1281.5L1785.6 1280.7L1786.2 1281.2L1786.8 1280.1L1787.3 1278.0L1787.9 1277.4L1788.5 1277.7L1789.1 1276.9L1789.6 1276.1L1790.2 1275.8L1790.8 1276.3L1791.3 1275.8L1791.9 1276.2L1792.5 1274.8L1793.0 1275.0L1793.6 1275.4L1794.2 1276.7L1794.8 1277.3L1795.3 1278.5L1795.9 1279.0L1796.5 1279.2L1797.0 1278.5L1797.6 1278.2L1798.2 1280.0L1798.7 1280.2L1799.3 1279.0L1799.9 1280.0L1800.5 1282.0L1801.0 1284.3L1801.6 1287.1L1802.2 1288.6L1802.7 1290.8L1803.3 1292.5L1803.9 1292.3L1804.4 1293.5L1805.0 1295.6L1805.6 1295.4L1806.2 1295.8L1806.7 1296.4L1807.3 1297.0L1807.9 1297.9L1808.4 1298.9L1809.0 1299.2L1809.6 1300.1L1810.1 1300.9L1810.7 1300.9L1811.3 1302.5L1811.9 1301.7L1812.4 1302.1L1813.0 1302.6L1813.6 1303.6L1814.1 1305.0L1814.7 1305.0L1815.3 1306.3L1815.8 1306.8L1816.4 1307.4L1817.0 1309.0L1817.6 1308.8L1818.1 1307.7L1818.7 1309.3L1819.3 1308.3L1819.8 1309.0L1820.4 1307.2L1821.0 1309.0L1821.6 1308.8L1822.1 1309.2L1822.7 1309.6L1823.3 1311.1L1823.8 1311.5L1824.4 1311.3L1825.0 1311.5L1825.5 1312.2L1826.1 1313.1L1826.7 1313.3L1827.3 1314.1L1827.8 1315.7L1828.4 1316.6L1829.0 1317.5L1829.5 1316.5L1830.1 1317.0L1830.7 1316.7L1831.2 1317.3L1831.8 1316.2L1832.4 1315.7L1833.0 1314.6L1833.5 1315.3L1834.1 1314.7L1834.7 1312.1L1835.2 1311.6L1835.8 1311.1L1836.4 1310.6L1836.9 1309.4L1837.5 1309.1L1838.1 1311.1L1838.7 1311.5L1839.2 1311.5L1839.8 1313.3L1840.4 1313.5L1840.9 1314.1L1841.5 1315.2L1842.1 1315.3L1842.6 1318.3L1843.2 1319.5L1843.8 1318.8L1844.4 1320.6L1844.9 1320.3L1845.5 1319.5L1846.1 1319.1L1846.6 1317.3L1847.2 1317.2L1847.8 1316.8L1848.3 1317.5L1848.9 1317.5L1849.5 1316.9L1850.1 1317.8L1850.6 1318.4L1851.2 1318.5L1851.8 1319.2L1852.3 1319.0L1852.9 1318.9L1853.5 1318.8L1854.0 1317.9L1854.6 1318.0L1855.2 1317.9L1855.8 1317.4L1856.3 1316.0L1856.9 1315.9L1857.5 1317.2L1858.0 1317.3L1858.6 1316.7L1859.2 1316.8L1859.7 1317.9L1860.3 1318.6L1860.9 1317.1L1861.5 1318.2L1862.0 1317.1L1862.6 1317.0L1863.2 1317.4L1863.7 1317.2L1864.3 1318.9L1864.9 1318.0L1865.5 1318.9L1866.0 1319.1L1866.6 1319.0L1867.2 1317.9L1867.7 1316.6L1868.3 1317.7L1868.9 1317.9L1869.4 1316.3L1870.0 1318.2L1870.6 1317.9L1871.2 1317.9L1871.7 1317.5L1872.3 1317.0L1872.9 1317.7L1873.4 1318.1L1874.0 1316.1L1874.6 1316.7L1875.1 1316.6L1875.7 1317.2L1876.3 1315.7L1876.9 1316.9L1877.4 1316.9L1878.0 1317.6L1878.6 1318.9L1879.1 1317.2L1879.7 1317.2L1880.3 1317.7L1880.8 1317.1L1881.4 1317.0L1882.0 1315.2L1882.6 1315.0L1883.1 1315.4L1883.7 1316.2L1884.3 1316.7L1884.8 1315.6L1885.4 1316.6L1886.0 1315.8L1886.5 1317.5L1887.1 1316.8L1887.7 1316.1L1888.3 1317.5L1888.8 1316.9L1889.4 1317.7L1890.0 1317.6L1890.5 1318.6L1891.1 1317.7L1891.7 1319.2L1892.2 1317.4L1892.8 1318.1L1893.4 1317.5L1894.0 1319.0L1894.5 1316.7L1895.1 1316.8L1895.7 1316.6L1896.2 1315.6L1896.8 1317.1L1897.4 1316.8L1897.9 1316.5L1898.5 1316.2L1899.1 1315.7L1899.7 1315.5L1900.2 1315.8L1900.8 1316.3L1901.4 1317.0L1901.9 1316.2L1902.5 1317.8L1903.1 1317.6L1903.6 1316.5L1904.2 1316.2L1904.8 1316.2L1905.4 1318.0L1905.9 1316.6L1906.5 1316.1L1907.1 1317.3L1907.6 1316.5L1908.2 1317.8L1908.8 1317.2L1909.4 1317.6L1909.9 1317.2L1910.5 1317.6L1911.1 1317.4L1911.6 1317.7L1912.2 1318.6L1912.8 1317.5L1913.3 1317.2L1913.9 1318.7L1914.5 1317.4L1915.1 1317.3L1915.6 1316.4L1916.2 1316.7L1916.8 1316.7L1917.3 1315.7L1917.9 1317.5L1918.5 1317.3L1919.0 1318.3L1919.6 1318.3L1920.2 1318.7L1920.8 1317.4L1921.3 1317.6L1921.9 1317.4L1922.5 1316.4L1923.0 1316.9L1923.6 1317.1L1924.2 1315.8L1924.7 1316.0L1925.3 1316.5L1925.9 1315.6L1926.5 1315.3L1927.0 1314.4L1927.6 1313.7L1928.2 1314.3L1928.7 1313.2L1929.3 1313.4L1929.9 1312.5L1930.4 1312.6L1931.0 1312.5L1931.6 1311.7L1932.2 1311.4L1932.7 1312.6L1933.3 1312.6L1933.9 1310.8L1934.4 1311.4L1935.0 1312.4L1935.6 1311.9L1936.1 1312.2L1936.7 1314.1L1937.3 1313.0L1937.9 1314.2L1938.4 1313.1L1939.0 1312.8L1939.6 1312.4L1940.1 1312.0L1940.7 1311.5L1941.3 1312.3L1941.8 1312.0L1942.4 1312.9L1943.0 1311.8L1943.6 1311.7L1944.1 1313.2L1944.7 1312.9L1945.3 1312.7L1945.8 1313.9L1946.4 1312.9L1947.0 1313.6L1947.5 1313.3L1948.1 1312.4L1948.7 1312.9L1949.3 1312.4L1949.8 1311.2L1950.4 1312.9L1951.0 1311.3L1951.5 1311.4L1952.1 1311.8L1952.7 1310.4L1953.2 1307.9L1953.8 1307.2L1954.4 1304.5L1955.0 1304.7L1955.5 1303.5L1956.1 1303.1L1956.7 1302.6L1957.2 1302.0L1957.8 1302.4L1958.4 1301.9L1959.0 1302.3L1959.5 1300.7L1960.1 1300.8L1960.7 1300.3L1961.2 1300.7L1961.8 1300.7L1962.4 1299.8L1962.9 1301.2L1963.5 1299.9L1964.1 1299.0L1964.7 1300.3L1965.2 1299.0L1965.8 1298.9L1966.4 1299.7L1966.9 1300.2L1967.5 1300.0L1968.1 1300.2L1968.6 1299.9L1969.2 1300.4L1969.8 1301.3L1970.4 1300.3L1970.9 1300.9L1971.5 1300.1L1972.1 1299.7L1972.6 1299.8L1973.2 1299.1L1973.8 1300.3L1974.3 1301.4L1974.9 1301.8L1975.5 1302.3L1976.1 1303.3L1976.6 1304.8L1977.2 1303.8L1977.8 1304.0L1978.3 1304.7L1978.9 1304.2L1979.5 1306.2L1980.0 1305.5L1980.6 1305.8L1981.2 1306.9L1981.8 1307.3L1982.3 1307.7L1982.9 1307.6L1983.5 1309.1L1984.0 1309.9L1984.6 1309.6L1985.2 1310.6L1985.7 1310.5L1986.3 1309.0L1986.9 1308.3L1987.5 1307.5L1988.0 1306.6L1988.6 1307.5L1989.2 1306.5L1989.7 1306.1L1990.3 1307.1L1990.9 1306.8L1991.4 1306.4L1992.0 1307.3L1992.6 1308.1L1993.2 1307.7L1993.7 1307.8L1994.3 1306.0L1994.9 1306.1L1995.4 1304.2L1996.0 1303.9L1996.6 1304.2L1997.1 1303.7L1997.7 1303.4L1998.3 1304.8L1998.9 1305.4L1999.4 1304.4L2000.0 1304.5L2000.6 1304.3L2001.1 1304.8L2001.7 1304.1L2002.3 1303.3"/>
<path id="c-fe" stroke="#FF0000" d="M158.5 944.7L159.1 946.0L159.6 944.7L160.2 944.6L160.8 944.7L161.3 944.1L161.9 944.5L162.5 943.2L163.1 944.5L163.6 944.5L164.2 943.1L164.8 944.2L165.3 943.8L165.9 944.6L166.5 945.5L167.0 946.1L167.6 946.4L168.2 947.3L168.8 945.8L169.3 945.3L169.9 945.7L170.5 945.7L171.0 945.4L171.6 945.2L172.2 943.6L172.7 945.1L173.3 944.6L173.9 945.0L174.5 944.1L175.0 943.5L175.6 944.2L176.2 943.7L176.7 943.8L177.3 942.8L177.9 943.0L178.4 944.3L179.0 943.0L179.6 944.8L180.2 943.5L180.7 944.7L181.3 944.9L181.9 945.1L182.4 945.1L183.0 946.0L183.6 945.9L184.2 945.1L184.7 944.6L185.3 944.9L185.9 944.9L186.4 945.4L187.0 946.3L187.6 945.1L188.1 944.8L188.7 945.8L189.3 945.7L189.9 944.9L190.4 945.5L191.0 945.4L191.6 945.7L192.1 944.2L192.7 945.7L193.3 945.1L193.8 944.9L194.4 945.1L195.0 944.7L195.6 944.1L196.1 943.7L196.7 945.0L197.3 945.0L197.8 943.8L198.4 944.3L199.0 944.8L199.5 944.7L200.1 944.4L200.7 942.7L201.3 943.7L201.8 943.5L202.4 942.8L203.0 943.4L203.5 943.4L204.1 942.8L204.7 943.6L205.2 942.9L205.8 944.0L206.4 943.6L207.0 945.7L207.5 945.8L208.1 946.1L208.7 945.6L209.2 945.2L209.8 944.6L210.4 945.9L210.9 944.3L211.5 944.7L212.1 943.5L212.7 943.1L213.2 943.9L213.8 944.3L214.4 943.6L214.9 944.2L215.5 944.4L216.1 943.9L216.6 944.3L217.2 943.4L217.8 943.1L218.4 943.1L218.9 942.8L219.5 943.0L220.1 944.6L220.6 945.4L221.2 944.5L221.8 946.1L222.3 946.4L222.9 946.2L223.5 946.1L224.1 946.7L224.6 948.0L225.2 948.1L225.8 949.5L226.3 948.3L226.9 947.5L227.5 948.5L228.1 946.4L228.6 946.3L229.2 946.0L229.8 946.3L230.3 947.0L230.9 949.0L231.5 949.1L232.0 948.9L232.6 948.3L233.2 949.7L233.8 948.7L234.3 949.0L234.9 947.9L235.5 946.8L236.0 946.6L236.6 948.0L237.2 947.4L237.7 947.6L238.3 948.4L238.9 948.3L239.5 948.5L240.0 949.5L240.6 948.9L241.2 949.7L241.7 947.7L242.3 947.7L242.9 948.4L243.4 947.3L244.0 947.7L244.6 947.2L245.2 947.6L245.7 949.2L246.3 948.9L246.9 949.8L247.4 950.0L248.0 948.9L248.6 948.9L249.1 949.1L249.7 948.6L250.3 949.8L250.9 949.4L251.4 948.5L252.0 948.0L252.6 946.6L253.1 946.5L253.7 946.8L254.3 945.2L254.8 946.6L255.4 947.4L256.0 947.6L256.6 948.7L257.1 949.3L257.7 950.4L258.3 950.1L258.8 949.4L259.4 949.2L260.0 948.7L260.5 949.7L261.1 948.9L261.7 948.7L262.3 948.6L262.8 948.4L263.4 948.3L264.0 946.3L264.5 944.9L265.1 944.7L265.7 944.3L266.2 944.9L266.8 946.0L267.4 945.7L268.0 946.9L268.5 947.1L269.1 945.4L269.7 946.2L270.2 945.5L270.8 945.9L271.4 944.6L271.9 945.9L272.5 945.5L273.1 945.7L273.7 946.2L274.2 947.9L274.8 947.5L275.4 947.8L275.9 948.7L276.5 948.6L277.1 948.4L277.7 946.6L278.2 948.1L278.8 947.4L279.4 947.4L279.9 946.8L280.5 946.5L281.1 946.1L281.6 945.7L282.2 945.0L282.8 946.5L283.4 945.9L283.9 946.8L284.5 946.7L285.1 946.6L285.6 947.3L286.2 947.5L286.8 947.6L287.3 947.2L287.9 947.8L288.5 947.0L289.1 947.9L289.6 948.8L290.2 947.9L290.8 947.3L291.3 947.1L291.9 945.6L292.5 946.5L293.0 946.2L293.6 945.1L294.2 945.7L294.8 946.3L295.3 944.6L295.9 943.5L296.5 943.4L297.0 944.1L297.6 943.8L298.2 944.6L298.7 945.8L299.3 947.8L299.9 948.5L300.5 947.3L301.0 948.0L301.6 948.0L302.2 946.4L302.7 947.1L303.3 946.1L303.9 945.5L304.4 945.1L305.0 946.1L305.6 946.8L306.2 946.5L306.7 946.8L307.3 948.2L307.9 947.3L308.4 947.2L309.0 948.3L309.6 948.4L310.1 948.8L310.7 949.3L311.3 949.6L311.9 949.5L312.4 950.3L313.0 950.1L313.6 950.2L314.1 949.9L314.7 948.0L315.3 949.1L315.8 948.0L316.4 946.1L317.0 946.8L317.6 946.5L318.1 946.2L318.7 946.1L319.3 946.6L319.8 945.8L320.4 945.8L321.0 945.8L321.6 945.6L322.1 945.3L322.7 946.1L323.3 946.4L323.8 946.9L324.4 946.8L325.0 946.5L325.5 946.1L326.1 946.7L326.7 945.9L327.3 944.5L327.8 944.4L328.4 945.9L329.0 945.7L329.5 946.3L330.1 945.6L330.7 946.0L331.2 946.6L331.8 946.6L332.4 946.0L333.0 946.8L333.5 947.1L334.1 946.3L334.7 947.2L335.2 947.2L335.8 945.5L336.4 946.3L336.9 946.6L337.5 946.4L338.1 947.7L338.7 946.9L339.2 948.5L339.8 947.9L340.4 949.0L340.9 947.6L341.5 948.8L342.1 948.5L342.6 947.7L343.2 946.8L343.8 946.5L344.4 945.6L344.9 945.4L345.5 945.5L346.1 945.3L346.6 945.4L347.2 946.5L347.8 945.9L348.3 947.4L348.9 947.9L349.5 947.1L350.1 946.4L350.6 947.4L351.2 946.9L351.8 946.2L352.3 946.8L352.9 945.4L353.5 946.0L354.0 945.7L354.6 945.2L355.2 945.9L355.8 944.7L356.3 944.9L356.9 945.2L357.5 946.2L358.0 946.1L358.6 945.2L359.2 946.4L359.7 945.4L360.3 945.5L360.9 946.2L361.5 944.6L362.0 944.1L362.6 945.7L363.2 944.9L363.7 946.2L364.3 946.5L364.9 948.6L365.5 949.1L366.0 949.8L366.6 948.9L367.2 949.3L367.7 949.7L368.3 947.9L368.9 946.5L369.4 946.9L370.0 945.0L370.6 945.1L371.2 944.1L371.7 943.8L372.3 944.3L372.9 944.6L373.4 945.1L374.0 946.1L374.6 946.2L375.1 947.2L375.7 946.9L376.3 947.7L376.9 946.2L377.4 944.8L378.0 944.4L378.6 943.9L379.1 944.9L379.7 944.5L380.3 945.8L380.8 946.3L381.4 947.8L382.0 947.2L382.6 947.0L383.1 946.7L383.7 946.2L384.3 946.7L384.8 946.2L385.4 946.3L386.0 944.9L386.5 945.8L387.1 945.1L387.7 945.7L388.3 945.4L388.8 943.2L389.4 943.7L390.0 942.8L390.5 943.6L391.1 943.0L391.7 944.4L392.2 945.3L392.8 945.3L393.4 945.0L394.0 946.0L394.5 946.6L395.1 945.7L395.7 945.7L396.2 946.5L396.8 946.7L397.4 946.6L397.9 947.3L398.5 945.6L399.1 945.0L399.7 944.9L400.2 945.9L400.8 945.8L401.4 946.6L401.9 947.1L402.5 946.6L403.1 946.3L403.6 947.7L404.2 946.2L404.8 946.3L405.4 945.7L405.9 946.8L406.5 946.2L407.1 947.3L407.6 946.8L408.2 947.5L408.8 946.4L409.4 946.7L409.9 944.8L410.5 944.9L411.1 944.6L411.6 945.0L412.2 945.1L412.8 945.8L413.3 947.5L413.9 946.2L414.5 947.0L415.1 947.6L415.6 946.8L416.2 946.9L416.8 947.3L417.3 946.8L417.9 947.1L418.5 947.9L419.0 947.6L419.6 946.7L420.2 947.1L420.8 948.2L421.3 947.2L421.9 948.8L422.5 949.5L423.0 949.2L423.6 948.5L424.2 948.8L424.7 948.7L425.3 947.5L425.9 947.0L426.5 945.9L427.0 945.0L427.6 945.5L428.2 947.4L428.7 947.2L429.3 947.6L429.9 946.9L430.4 946.0L431.0 945.8L431.6 946.4L432.2 945.9L432.7 946.8L433.3 947.6L433.9 947.4L434.4 946.7L435.0 946.9L435.6 946.5L436.1 947.5L436.7 946.0L437.3 946.5L437.9 945.3L438.4 945.1L439.0 944.9L439.6 945.5L440.1 946.6L440.7 947.1L441.3 946.8L441.8 947.8L442.4 947.6L443.0 948.3L443.6 947.1L444.1 947.4L444.7 947.6L445.3 948.6L445.8 948.8L446.4 948.5L447.0 948.8L447.5 947.0L448.1 947.2L448.7 947.1L449.3 947.3L449.8 947.1L450.4 946.8L451.0 945.8L451.5 945.9L452.1 945.4L452.7 945.1L453.2 943.4L453.8 944.9L454.4 943.9L455.0 944.7L455.5 946.2L456.1 945.4L456.7 946.2L457.2 946.2L457.8 945.7L458.4 945.5L459.0 945.8L459.5 946.7L460.1 946.5L460.7 947.3L461.2 949.0L461.8 948.1L462.4 947.2L462.9 947.8L463.5 946.6L464.1 945.4L464.7 946.0L465.2 944.4L465.8 944.8L466.4 945.8L466.9 945.0L467.5 944.4L468.1 944.7L468.6 946.7L469.2 946.1L469.8 947.4L470.4 946.7L470.9 947.7L471.5 947.5L472.1 949.0L472.6 949.2L473.2 949.5L473.8 948.4L474.3 948.5L474.9 947.0L475.5 947.7L476.1 948.0L476.6 948.0L477.2 947.2L477.8 946.6L478.3 947.5L478.9 947.8L479.5 947.6L480.0 947.2L480.6 948.0L481.2 948.1L481.8 949.5L482.3 949.1L482.9 948.8L483.5 948.7L484.0 948.9L484.6 948.7L485.2 946.9L485.7 946.9L486.3 948.7L486.9 947.6L487.5 948.4L488.0 948.0L488.6 949.1L489.2 949.3L489.7 948.6L490.3 949.4L490.9 948.1L491.4 948.0L492.0 948.5L492.6 948.8L493.2 948.6L493.7 946.9L494.3 947.6L494.9 947.5L495.4 949.0L496.0 948.2L496.6 948.0L497.1 948.3L497.7 948.1L498.3 948.2L498.9 947.2L499.4 946.9L500.0 947.0L500.6 946.6L501.1 948.3L501.7 947.2L502.3 949.1L502.9 948.5L503.4 950.0L504.0 948.4L504.6 948.6L505.1 948.2L505.7 946.3L506.3 946.8L506.8 946.5L507.4 947.0L508.0 946.2L508.6 946.4L509.1 945.5L509.7 946.5L510.3 946.8L510.8 946.2L511.4 946.1L512.0 945.9L512.5 944.9L513.1 946.2L513.7 944.7L514.3 945.7L514.8 946.9L515.4 947.2L516.0 946.8L516.5 947.0L517.1 947.3L517.7 946.6L518.2 945.8L518.8 945.8L519.4 946.5L520.0 945.7L520.5 945.6L521.1 945.0L521.7 945.3L522.2 947.6L522.8 948.2L523.4 947.7L523.9 947.8L524.5 947.3L525.1 946.7L525.7 946.1L526.2 946.3L526.8 947.7L527.4 947.4L527.9 945.2L528.5 945.6L529.1 943.5L529.6 944.7L530.2 944.0L530.8 944.0L531.4 945.1L531.9 944.9L532.5 944.9L533.1 945.8L533.6 945.2L534.2 945.1L534.8 946.2L535.3 946.5L535.9 946.4L536.5 945.9L537.1 947.2L537.6 946.9L538.2 945.8L538.8 946.7L539.3 946.7L539.9 946.0L540.5 947.4L541.0 946.6L541.6 948.0L542.2 948.3L542.8 949.1L543.3 948.2L543.9 948.7L544.5 948.8L545.0 947.3L545.6 947.2L546.2 947.7L546.8 947.8L547.3 946.8L547.9 947.5L548.5 947.3L549.0 946.2L549.6 946.2L550.2 947.0L550.7 947.1L551.3 947.6L551.9 946.1L552.5 947.4L553.0 946.7L553.6 946.6L554.2 947.0L554.7 946.8L555.3 947.1L555.9 948.0L556.4 947.2L557.0 947.8L557.6 946.9L558.2 945.7L558.7 945.0L559.3 945.0L559.9 945.0L560.4 944.9L561.0 945.0L561.6 946.7L562.1 946.7L562.7 947.8L563.3 947.9L563.9 946.6L564.4 946.1L565.0 946.6L565.6 945.8L566.1 945.5L566.7 944.2L567.3 945.2L567.8 944.5L568.4 944.5L569.0 944.6L569.6 946.2L570.1 947.2L570.7 947.3L571.3 948.3L571.8 948.1L572.4 947.2L573.0 947.9L573.5 947.0L574.1 947.9L574.7 948.0L575.3 948.3L575.8 947.7L576.4 946.4L577.0 944.5L577.5 944.2L578.1 945.1L578.7 946.1L579.2 945.3L579.8 947.2L580.4 946.9L581.0 947.3L581.5 946.0L582.1 946.6L582.7 947.6L583.2 946.4L583.8 946.8L584.4 947.4L584.9 947.8L585.5 947.1L586.1 946.9L586.7 947.3L587.2 945.7L587.8 945.9L588.4 946.1L588.9 946.6L589.5 948.5L590.1 947.8L590.6 949.1L591.2 948.6L591.8 950.0L592.4 949.4L592.9 948.1L593.5 948.3L594.1 948.0L594.6 946.7L595.2 947.8L595.8 946.0L596.4 945.9L596.9 943.8L597.5 943.8L598.1 943.5L598.6 944.4L599.2 944.3L599.8 944.9L600.3 946.1L600.9 946.4L601.5 948.5L602.1 947.4L602.6 948.3L603.2 947.4L603.8 948.0L604.3 946.9L604.9 946.1L605.5 946.0L606.0 946.3L606.6 946.0L607.2 947.5L607.8 947.0L608.3 948.2L608.9 948.5L609.5 949.0L610.0 947.7L610.6 948.2L611.2 947.4L611.7 947.6L612.3 948.2L612.9 947.7L613.5 948.5L614.0 948.4L614.6 947.5L615.2 948.0L615.7 946.7L616.3 946.7L616.9 947.9L617.4 947.2L618.0 948.9L618.6 947.9L619.2 948.6L619.7 948.0L620.3 948.7L620.9 948.3L621.4 947.3L622.0 947.0L622.6 948.5L623.1 948.3L623.7 948.7L624.3 949.6L624.9 948.9L625.4 949.3L626.0 950.5L626.6 949.2L627.1 949.4L627.7 949.5L628.3 949.6L628.8 949.9L629.4 949.7L630.0 948.4L630.6 949.0L631.1 948.8L631.7 948.3L632.3 949.2L632.8 948.5L633.4 947.8L634.0 948.0L634.5 946.4L635.1 947.1L635.7 945.2L636.3 945.7L636.8 946.4L637.4 946.8L638.0 948.0L638.5 948.6L639.1 948.0L639.7 948.0L640.3 948.6L640.8 947.9L641.4 948.6L642.0 946.9L642.5 948.5L643.1 947.2L643.7 947.3L644.2 948.2L644.8 948.7L645.4 947.6L646.0 946.4L646.5 946.7L647.1 946.5L647.7 946.1L648.2 947.5L648.8 948.6L649.4 949.0L649.9 948.4L650.5 948.6L651.1 949.0L651.7 949.5L652.2 948.9L652.8 949.1L653.4 948.8L653.9 949.2L654.5 948.5L655.1 948.5L655.6 947.0L656.2 947.1L656.8 948.3L657.4 947.2L657.9 948.0L658.5 947.6L659.1 949.1L659.6 948.3L660.2 949.9L660.8 949.0L661.3 949.4L661.9 949.2L662.5 948.1L663.1 948.0L663.6 947.6L664.2 948.5L664.8 948.8L665.3 949.2L665.9 948.2L666.5 948.0L667.0 947.4L667.6 947.3L668.2 946.2L668.8 947.0L669.3 947.0L669.9 948.0L670.5 948.4L671.0 947.8L671.6 949.1L672.2 948.7L672.7 949.6L673.3 949.1L673.9 949.2L674.5 947.9L675.0 946.1L675.6 945.9L676.2 944.6L676.7 945.9L677.3 946.4L677.9 945.7L678.4 947.7L679.0 947.8L679.6 948.4L680.2 948.2L680.7 947.0L681.3 947.2L681.9 944.9L682.4 945.8L683.0 944.0L683.6 944.2L684.2 942.5L684.7 943.6L685.3 942.6L685.9 943.8L686.4 943.8L687.0 944.1L687.6 943.6L688.1 942.5L688.7 942.4L689.3 943.3L689.9 943.3L690.4 943.2L691.0 942.8L691.6 943.4L692.1 942.4L692.7 942.7L693.3 942.1L693.8 943.2L694.4 941.6L695.0 941.8L695.6 941.1L696.1 940.7L696.7 939.8L697.3 938.7L697.8 939.8L698.4 939.8L699.0 938.1L699.5 939.3L700.1 937.9L700.7 937.3L701.3 936.4L701.8 935.4L702.4 934.1L703.0 933.9L703.5 932.1L704.1 931.6L704.7 930.4L705.2 928.0L705.8 927.7L706.4 926.1L707.0 924.3L707.5 923.1L708.1 922.1L708.7 922.9L709.2 920.2L709.8 918.3L710.4 916.4L710.9 914.5L711.5 909.8L712.1 906.6L712.7 903.7L713.2 900.6L713.8 897.7L714.4 893.2L714.9 889.6L715.5 886.1L716.1 880.5L716.6 875.5L717.2 871.0L717.8 864.2L718.4 856.8L718.9 847.9L719.5 838.5L720.1 827.9L720.6 818.4L721.2 809.3L721.8 801.3L722.3 792.3L722.9 783.7L723.5 777.2L724.1 768.1L724.6 759.3L725.2 752.4L725.8 743.9L726.3 734.8L726.9 726.2L727.5 719.4L728.1 710.7L728.6 704.8L729.2 697.2L729.8 690.7L730.3 682.6L730.9 676.8L731.5 670.1L732.0 663.9L732.6 659.7L733.2 655.3L733.8 652.1L734.3 648.9L734.9 646.8L735.5 644.4L736.0 643.2L736.6 642.8L737.2 645.8L737.7 646.9L738.3 650.9L738.9 652.2L739.5 654.5L740.0 659.7L740.6 664.5L741.2 671.5L741.7 679.0L742.3 687.3L742.9 698.4L743.4 708.7L744.0 717.9L744.6 727.0L745.2 737.2L745.7 748.6L746.3 757.6L746.9 769.3L747.4 780.1L748.0 792.1L748.6 802.4L749.1 810.9L749.7 819.1L750.3 826.8L750.9 832.5L751.4 839.7L752.0 846.9L752.6 851.7L753.1 858.9L753.7 863.7L754.3 869.1L754.8 874.3L755.4 880.1L756.0 885.2L756.6 889.1L757.1 893.6L757.7 896.5L758.3 900.8L758.8 903.7L759.4 906.0L760.0 909.7L760.5 912.4L761.1 914.2L761.7 916.5L762.3 918.7L762.8 921.0L763.4 923.0L764.0 925.6L764.5 928.4L765.1 930.4L765.7 931.2L766.2 930.8L766.8 930.7L767.4 931.0L768.0 930.3L768.5 931.4L769.1 930.7L769.7 930.7L770.2 932.2L770.8 931.6L771.4 932.9L771.9 933.3L772.5 935.3L773.1 935.6L773.7 935.4L774.2 937.7L774.8 938.1L775.4 940.4L775.9 942.2L776.5 943.3L777.1 943.9L777.7 943.4L778.2 943.5L778.8 942.3L779.4 943.9L779.9 944.9L780.5 946.6L781.1 946.8L781.6 947.0L782.2 948.3L782.8 948.1L783.4 948.4L783.9 947.6L784.5 947.8L785.1 948.8L785.6 949.3L786.2 949.4L786.8 949.2L787.3 950.3L787.9 951.3L788.5 951.9L789.1 952.5L789.6 952.3L790.2 953.1L790.8 951.6L791.3 952.1L791.9 949.7L792.5 948.9L793.0 948.5L793.6 948.8L794.2 949.0L794.8 947.4L795.3 948.0L795.9 947.2L796.5 948.1L797.0 949.1L797.6 949.5L798.2 949.6L798.7 949.3L799.3 948.4L799.9 949.6L800.5 949.7L801.0 948.9L801.6 950.0L802.2 949.7L802.7 949.7L803.3 949.0L803.9 948.9L804.4 949.3L805.0 948.7L805.6 948.2L806.2 947.8L806.7 947.8L807.3 947.4L807.9 946.4L808.4 946.5L809.0 946.4L809.6 946.2L810.1 947.5L810.7 946.5L811.3 947.2L811.9 948.7L812.4 949.2L813.0 950.6L813.6 952.4L814.1 954.1L814.7 955.1L815.3 954.8L815.8 955.3L816.4 954.0L817.0 953.1L817.6 953.4L818.1 953.5L818.7 951.9L819.3 952.4L819.8 950.9L820.4 951.1L821.0 951.1L821.6 950.6L822.1 950.5L822.7 950.5L823.3 951.2L823.8 951.2L824.4 951.0L825.0 951.0L825.5 951.0L826.1 952.0L826.7 950.7L827.3 951.2L827.8 950.7L828.4 950.8L829.0 950.7L829.5 950.6L830.1 950.4L830.7 951.6L831.2 949.7L831.8 949.3L832.4 948.3L833.0 947.9L833.5 948.2L834.1 947.4L834.7 947.0L835.2 948.0L835.8 947.3L836.4 947.5L836.9 947.0L837.5 946.3L838.1 946.7L838.7 945.1L839.2 945.9L839.8 945.7L840.4 947.4L840.9 947.3L841.5 947.5L842.1 947.8L842.6 948.0L843.2 948.2L843.8 948.2L844.4 948.7L844.9 948.5L845.5 948.0L846.1 946.6L846.6 946.2L847.2 945.3L847.8 945.3L848.3 945.3L848.9 944.6L849.5 945.1L850.1 945.7L850.6 944.9L851.2 946.0L851.8 944.7L852.3 944.4L852.9 944.8L853.5 945.2L854.0 945.0L854.6 946.0L855.2 946.1L855.8 946.2L856.3 946.9L856.9 946.4L857.5 946.4L858.0 944.6L858.6 944.2L859.2 944.1L859.7 944.8L860.3 944.8L860.9 945.5L861.5 944.0L862.0 944.6L862.6 944.5L863.2 944.6L863.7 944.1L864.3 945.3L864.9 945.3L865.5 945.2L866.0 944.7L866.6 945.0L867.2 944.6L867.7 944.9L868.3 944.7L868.9 943.2L869.4 944.4L870.0 943.7L870.6 944.3L871.2 945.9L871.7 945.0L872.3 944.4L872.9 944.4L873.4 945.7L874.0 944.3L874.6 944.9L875.1 945.8L875.7 943.8L876.3 945.2L876.9 943.9L877.4 944.9L878.0 943.7L878.6 943.5L879.1 943.6L879.7 942.9L880.3 942.7L880.8 942.5L881.4 941.5L882.0 942.4L882.6 943.0L883.1 942.7L883.7 942.7L884.3 942.8L884.8 942.3L885.4 942.9L886.0 943.7L886.5 943.8L887.1 944.9L887.7 945.9L888.3 947.8L888.8 948.3L889.4 947.9L890.0 949.0L890.5 948.2L891.1 947.3L891.7 947.4L892.2 947.3L892.8 946.0L893.4 944.9L894.0 943.6L894.5 944.0L895.1 944.8L895.7 943.8L896.2 945.8L896.8 945.1L897.4 945.7L897.9 945.2L898.5 944.4L899.1 943.4L899.7 942.9L900.2 942.6L900.8 943.5L901.4 943.9L901.9 944.4L902.5 944.1L903.1 944.0L903.6 944.4L904.2 944.7L904.8 945.5L905.4 945.9L905.9 946.2L906.5 945.2L907.1 945.9L907.6 944.4L908.2 945.3L908.8 944.7L909.4 943.5L909.9 943.5L910.5 943.7L911.1 943.8L911.6 945.2L912.2 943.8L912.8 944.1L913.3 943.6L913.9 944.4L914.5 944.8L915.1 944.8L915.6 944.8L916.2 944.4L916.8 945.1L917.3 944.7L917.9 945.5L918.5 945.7L919.0 945.7L919.6 945.5L920.2 946.2L920.8 945.9L921.3 946.8L921.9 948.5L922.5 947.3L923.0 947.0L923.6 948.0L924.2 947.8L924.7 946.9L925.3 947.4L925.9 948.3L926.5 948.2L927.0 947.3L927.6 948.2L928.2 948.0L928.7 947.6L929.3 948.2L929.9 947.4L930.4 947.7L931.0 948.2L931.6 949.3L932.2 948.6L932.7 948.4L933.3 949.5L933.9 948.3L934.4 948.4L935.0 949.7L935.6 949.1L936.1 948.2L936.7 949.3L937.3 948.9L937.9 948.9L938.4 949.0L939.0 950.0L939.6 949.2L940.1 951.0L940.7 950.8L941.3 949.7L941.8 950.7L942.4 949.9L943.0 948.5L943.6 948.0L944.1 948.9L944.7 948.1L945.3 947.7L945.8 948.3L946.4 947.4L947.0 946.8L947.5 947.1L948.1 946.2L948.7 946.3L949.3 947.4L949.8 948.1L950.4 947.0L951.0 946.3L951.5 946.0L952.1 945.4L952.7 945.8L953.2 947.4L953.8 948.3L954.4 948.4L955.0 948.7L955.5 949.7L956.1 950.8L956.7 950.6L957.2 949.9L957.8 948.7L958.4 949.0L959.0 948.1L959.5 947.9L960.1 947.8L960.7 948.3L961.2 947.2L961.8 947.5L962.4 947.6L962.9 946.5L963.5 947.1L964.1 946.9L964.7 948.3L965.2 947.2L965.8 947.8L966.4 947.7L966.9 945.5L967.5 945.2L968.1 946.4L968.6 946.6L969.2 947.1L969.8 947.9L970.4 949.1L970.9 948.7L971.5 949.3L972.1 948.2L972.6 947.7L973.2 946.6L973.8 946.6L974.3 945.8L974.9 946.5L975.5 946.2L976.1 947.6L976.6 946.5L977.2 945.9L977.8 947.0L978.3 945.5L978.9 945.6L979.5 945.1L980.0 946.3L980.6 945.9L981.2 944.7L981.8 944.9L982.3 946.1L982.9 946.9L983.5 946.7L984.0 947.0L984.6 946.1L985.2 945.8L985.7 945.0L986.3 945.1L986.9 944.5L987.5 943.7L988.0 944.2L988.6 944.2L989.2 942.9L989.7 942.9L990.3 943.0L990.9 944.7L991.4 945.5L992.0 944.8L992.6 946.7L993.2 946.7L993.7 945.8L994.3 946.4L994.9 945.8L995.4 945.0L996.0 945.6L996.6 945.3L997.1 944.9L997.7 944.7L998.3 943.9L998.9 943.3L999.4 943.3L1000.0 943.5L1000.6 943.2L1001.1 945.6L1001.7 946.0L1002.3 946.1L1002.9 946.9L1003.4 948.7L1004.0 948.9L1004.6 948.4L1005.1 948.8L1005.7 947.1L1006.3 948.1L1006.8 946.6L1007.4 946.7L1008.0 945.9L1008.6 946.0L1009.1 945.1L1009.7 944.9L1010.3 944.9L1010.8 945.7L1011.4 945.9L1012.0 945.9L1012.5 946.7L1013.1 947.2L1013.7 945.8L1014.3 945.4L1014.8 946.1L1015.4 946.3L1016.0 945.6L1016.5 944.2L1017.1 944.1L1017.7 944.6L1018.2 943.8L1018.8 944.6L1019.4 945.2L1020.0 946.5L1020.5 946.5L1021.1 946.8L1021.7 945.8L1022.2 945.2L1022.8 944.1L1023.4 945.2L1023.9 944.2L1024.5 944.2L1025.1 945.4L1025.7 944.8L1026.2 945.5L1026.8 944.4L1027.4 945.7L1027.9 944.7L1028.5 946.2L1029.1 945.1L1029.6 945.7L1030.2 945.9L1030.8 945.5L1031.4 946.2L1031.9 946.0L1032.5 945.5L1033.1 945.4L1033.6 943.7L1034.2 943.7L1034.8 943.3L1035.3 942.8L1035.9 942.6L1036.5 943.5L1037.1 943.1L1037.6 942.8L1038.2 941.4L1038.8 941.1L1039.3 939.8L1039.9 940.2L1040.5 939.4L1041.0 939.1L1041.6 940.0L1042.2 938.3L1042.8 938.2L1043.3 938.9L1043.9 939.1L1044.5 938.5L1045.0 939.3L1045.6 939.2L1046.2 939.0L1046.8 939.5L1047.3 937.8L1047.9 937.9L1048.5 937.4L1049.0 935.7L1049.6 935.7L1050.2 933.7L1050.7 933.0L1051.3 931.9L1051.9 931.7L1052.5 932.2L1053.0 931.2L1053.6 931.1L1054.2 931.4L1054.7 931.0L1055.3 931.3L1055.9 931.2L1056.4 930.0L1057.0 930.3L1057.6 929.6L1058.2 928.8L1058.7 929.5L1059.3 929.3L1059.9 928.4L1060.4 927.1L1061.0 926.0L1061.6 926.6L1062.1 925.3L1062.7 925.5L1063.3 924.4L1063.9 924.8L1064.4 924.6L1065.0 923.6L1065.6 921.7L1066.1 921.6L1066.7 920.2L1067.3 918.3L1067.8 917.6L1068.4 918.3L1069.0 917.4L1069.6 917.7L1070.1 918.2L1070.7 917.4L1071.3 916.7L1071.8 916.2L1072.4 915.5L1073.0 915.1L1073.5 915.6L1074.1 914.1L1074.7 914.3L1075.3 914.1L1075.8 912.2L1076.4 909.1L1077.0 906.6L1077.5 905.4L1078.1 902.8L1078.7 900.6L1079.2 898.2L1079.8 896.1L1080.4 894.2L1081.0 892.0L1081.5 890.8L1082.1 888.2L1082.7 887.3L1083.2 886.8L1083.8 885.9L1084.4 885.1L1084.9 884.7L1085.5 885.3L1086.1 885.5L1086.7 884.3L1087.2 884.1L1087.8 883.1L1088.4 883.0L1088.9 883.2L1089.5 883.1L1090.1 882.5L1090.6 882.6L1091.2 882.0L1091.8 881.5L1092.4 882.0L1092.9 883.3L1093.5 883.5L1094.1 884.7L1094.6 887.1L1095.2 888.6L1095.8 890.1L1096.4 893.2L1096.9 894.1L1097.5 896.1L1098.1 897.1L1098.6 897.1L1099.2 897.7L1099.8 898.9L1100.3 901.3L1100.9 902.4L1101.5 903.5L1102.1 905.5L1102.6 906.8L1103.2 907.4L1103.8 907.6L1104.3 909.8L1104.9 909.9L1105.5 911.1L1106.0 911.1L1106.6 912.6L1107.2 913.2L1107.8 913.6L1108.3 915.6L1108.9 914.5L1109.5 916.4L1110.0 916.6L1110.6 918.8L1111.2 919.5L1111.7 919.6L1112.3 920.8L1112.9 922.0L1113.5 924.0L1114.0 924.4L1114.6 926.7L1115.2 926.5L1115.7 928.4L1116.3 927.8L1116.9 929.4L1117.4 929.4L1118.0 930.6L1118.6 929.7L1119.2 930.5L1119.7 932.1L1120.3 931.7L1120.9 932.9L1121.4 934.8L1122.0 935.0L1122.6 934.7L1123.1 935.2L1123.7 935.0L1124.3 935.6L1124.9 936.2L1125.4 938.9L1126.0 938.7L1126.6 940.0L1127.1 940.6L1127.7 940.9L1128.3 940.2L1128.8 941.3L1129.4 940.7L1130.0 941.0L1130.6 941.3L1131.1 941.9L1131.7 941.2L1132.3 941.7L1132.8 943.1L1133.4 942.2L1134.0 943.1L1134.5 944.0L1135.1 943.3L1135.7 942.9L1136.3 943.7L1136.8 944.0L1137.4 945.3L1138.0 945.8L1138.5 945.1L1139.1 946.6L1139.7 946.3L1140.3 946.5L1140.8 948.2L1141.4 947.9L1142.0 949.4L1142.5 949.3L1143.1 949.0L1143.7 948.9L1144.2 948.2L1144.8 949.0L1145.4 949.0L1146.0 948.8L1146.5 948.7L1147.1 948.4L1147.7 948.7L1148.2 948.3L1148.8 946.7L1149.4 946.4L1149.9 946.2L1150.5 946.9L1151.1 948.4L1151.7 950.2L1152.2 950.2L1152.8 950.2L1153.4 950.4L1153.9 949.2L1154.5 948.5L1155.1 947.8L1155.6 946.5L1156.2 945.7L1156.8 944.9L1157.4 945.5L1157.9 947.6L1158.5 947.1L1159.1 948.4L1159.6 947.8L1160.2 949.0L1160.8 948.6L1161.3 947.8L1161.9 948.8L1162.5 948.4L1163.1 948.0L1163.6 948.3L1164.2 948.9L1164.8 947.5L1165.3 948.8L1165.9 947.6L1166.5 948.0L1167.0 948.2L1167.6 948.9L1168.2 949.6L1168.8 947.8L1169.3 947.4L1169.9 947.4L1170.5 946.5L1171.0 947.1L1171.6 946.9L1172.2 946.6L1172.7 947.1L1173.3 946.6L1173.9 947.6L1174.5 946.3L1175.0 946.2L1175.6 945.7L1176.2 946.7L1176.7 946.1L1177.3 947.3L1177.9 947.8L1178.4 947.6L1179.0 947.7L1179.6 947.2L1180.2 946.5L1180.7 947.5L1181.3 946.8L1181.9 947.4L1182.4 946.9L1183.0 945.6L1183.6 946.3L1184.2 945.9L1184.7 945.7L1185.3 946.1L1185.9 946.4L1186.4 946.6L1187.0 947.3L1187.6 947.3L1188.1 948.7L1188.7 949.1L1189.3 948.8L1189.9 948.8L1190.4 948.8L1191.0 947.9L1191.6 948.5L1192.1 947.8L1192.7 948.0L1193.3 948.2L1193.8 949.0L1194.4 948.6L1195.0 949.0L1195.6 947.7L1196.1 948.6L1196.7 947.5L1197.3 948.4L1197.8 948.6L1198.4 948.3L1199.0 948.7L1199.5 948.0L1200.1 947.8L1200.7 947.5L1201.3 945.2L1201.8 946.2L1202.4 946.2L1203.0 946.6L1203.5 945.9L1204.1 945.9L1204.7 946.4L1205.2 946.7L1205.8 946.6L1206.4 946.9L1207.0 947.4L1207.5 948.4L1208.1 948.1L1208.7 949.2L1209.2 948.6L1209.8 948.0L1210.4 946.8L1210.9 946.4L1211.5 947.2L1212.1 948.0L1212.7 947.2L1213.2 947.6L1213.8 946.3L1214.4 945.8L1214.9 946.0L1215.5 945.9L1216.1 945.9L1216.6 945.3L1217.2 945.4L1217.8 947.3L1218.4 947.8L1218.9 948.0L1219.5 948.9L1220.1 948.6L1220.6 949.5L1221.2 948.6L1221.8 948.4L1222.3 948.4L1222.9 947.9L1223.5 947.3L1224.1 946.8L1224.6 946.6L1225.2 945.2L1225.8 945.0L1226.3 945.5L1226.9 945.4L1227.5 946.8L1228.1 948.6L1228.6 949.2L1229.2 949.3L1229.8 947.6L1230.3 947.4L1230.9 945.7L1231.5 945.3L1232.0 946.3L1232.6 946.5L1233.2 946.7L1233.8 947.4L1234.3 948.1L1234.9 946.6L1235.5 946.8L1236.0 946.0L1236.6 945.2L1237.2 946.0L1237.7 946.6L1238.3 946.6L1238.9 947.7L1239.5 948.3L1240.0 948.5L1240.6 948.3L1241.2 947.2L1241.7 946.7L1242.3 946.1L1242.9 945.2L1243.4 946.5L1244.0 946.8L1244.6 946.9L1245.2 946.9L1245.7 946.9L1246.3 945.8L1246.9 945.2L1247.4 945.4L1248.0 945.4L1248.6 946.2L1249.1 946.6L1249.7 946.7L1250.3 947.4L1250.9 947.2L1251.4 946.7L1252.0 946.5L1252.6 945.8L1253.1 945.0L1253.7 945.4L1254.3 945.9L1254.8 946.9L1255.4 946.8L1256.0 948.5L1256.6 947.3L1257.1 947.8L1257.7 947.2L1258.3 946.4L1258.8 946.4L1259.4 946.1L1260.0 946.6L1260.5 947.3L1261.1 946.6L1261.7 947.2L1262.3 946.8L1262.8 946.2L1263.4 946.8L1264.0 947.4L1264.5 947.0L1265.1 947.1L1265.7 947.6L1266.2 946.9L1266.8 947.6L1267.4 947.4L1268.0 947.3L1268.5 948.4L1269.1 948.0L1269.7 947.3L1270.2 947.4L1270.8 947.6L1271.4 947.9L1271.9 947.0L1272.5 945.5L1273.1 946.1L1273.7 945.3L1274.2 944.1L1274.8 945.8L1275.4 945.7L1275.9 945.7L1276.5 947.1L1277.1 947.3L1277.7 948.8L1278.2 948.9L1278.8 948.3L1279.4 947.6L1279.9 948.6L1280.5 947.3L1281.1 946.7L1281.6 947.6L1282.2 947.3L1282.8 945.8L1283.4 945.9L1283.9 945.3L1284.5 945.4L1285.1 947.1L1285.6 947.4L1286.2 948.1L1286.8 948.0L1287.3 948.3L1287.9 949.8L1288.5 948.7L1289.1 949.5L1289.6 948.4L1290.2 947.6L1290.8 946.5L1291.3 947.3L1291.9 947.5L1292.5 948.9L1293.0 949.4L1293.6 949.5L1294.2 949.6L1294.8 949.7L1295.3 949.7L1295.9 949.2L1296.5 947.9L1297.0 947.6L1297.6 948.5L1298.2 947.6L1298.7 947.7L1299.3 947.8L1299.9 948.2L1300.5 948.0L1301.0 947.2L1301.6 947.5L1302.2 945.9L1302.7 945.2L1303.3 945.5L1303.9 944.2L1304.4 944.4L1305.0 945.9L1305.6 945.8L1306.2 945.7L1306.7 946.7L1307.3 946.1L1307.9 947.1L1308.4 947.5L1309.0 946.4L1309.6 946.7L1310.1 946.2L1310.7 946.2L1311.3 947.5L1311.9 947.4L1312.4 948.0L1313.0 948.2L1313.6 947.1L1314.1 946.5L1314.7 946.0L1315.3 946.1L1315.8 945.7L1316.4 945.9L1317.0 946.7L1317.6 946.5L1318.1 946.2L1318.7 946.7L1319.3 946.3L1319.8 947.7L1320.4 948.1L1321.0 947.8L1321.6 948.9L1322.1 949.9L1322.7 948.9L1323.3 948.9L1323.8 948.7L1324.4 948.5L1325.0 947.7L1325.5 947.5L1326.1 949.2L1326.7 948.8L1327.3 948.1L1327.8 949.1L1328.4 947.4L1329.0 947.8L1329.5 948.0L1330.1 946.4L1330.7 946.6L1331.2 947.2L1331.8 948.4L1332.4 949.5L1333.0 949.2L1333.5 949.1L1334.1 948.8L1334.7 947.9L1335.2 947.6L1335.8 948.6L1336.4 948.5L1336.9 947.8L1337.5 947.3L1338.1 947.1L1338.7 947.6L1339.2 946.3L1339.8 947.1L1340.4 946.8L1340.9 947.4L1341.5 946.4L1342.1 946.5L1342.6 945.9L1343.2 947.3L1343.8 946.8L1344.4 946.8L1344.9 947.4L1345.5 946.9L1346.1 946.2L1346.6 945.2L1347.2 945.7L1347.8 944.6L1348.3 944.8L1348.9 944.7L1349.5 945.0L1350.1 944.7L1350.6 944.1L1351.2 944.2L1351.8 943.4L1352.3 943.4L1352.9 943.2L1353.5 942.5L1354.0 942.2L1354.6 940.5L1355.2 939.8L1355.8 938.5L1356.3 935.3L1356.9 934.7L1357.5 931.3L1358.0 930.1L1358.6 928.1L1359.2 926.0L1359.7 925.0L1360.3 923.0L1360.9 922.4L1361.5 921.4L1362.0 919.2L1362.6 917.1L1363.2 916.3L1363.7 914.5L1364.3 912.7L1364.9 911.1L1365.5 910.2L1366.0 908.3L1366.6 905.2L1367.2 903.4L1367.7 902.0L1368.3 898.1L1368.9 896.2L1369.4 892.5L1370.0 891.5L1370.6 889.3L1371.2 887.8L1371.7 886.0L1372.3 886.0L1372.9 884.8L1373.4 884.0L1374.0 884.4L1374.6 882.1L1375.1 883.0L1375.7 881.7L1376.3 882.1L1376.9 882.3L1377.4 881.7L1378.0 882.8L1378.6 882.2L1379.1 881.9L1379.7 882.2L1380.3 882.0L1380.8 880.4L1381.4 880.7L1382.0 879.8L1382.6 880.6L1383.1 881.6L1383.7 883.3L1384.3 886.5L1384.8 888.6L1385.4 890.2L1386.0 893.3L1386.5 895.5L1387.1 896.3L1387.7 896.8L1388.3 899.3L1388.8 900.3L1389.4 902.2L1390.0 903.7L1390.5 905.9L1391.1 906.9L1391.7 908.9L1392.2 910.3L1392.8 913.6L1393.4 915.8L1394.0 917.4L1394.5 918.6L1395.1 918.3L1395.7 921.1L1396.2 921.2L1396.8 923.5L1397.4 924.5L1397.9 927.1L1398.5 928.8L1399.1 929.3L1399.7 931.3L1400.2 931.9L1400.8 932.4L1401.4 932.6L1401.9 933.6L1402.5 934.6L1403.1 935.1L1403.6 937.0L1404.2 937.4L1404.8 939.3L1405.4 940.6L1405.9 941.6L1406.5 942.4L1407.1 944.7L1407.6 946.1L1408.2 947.2L1408.8 947.6L1409.4 948.3L1409.9 948.2L1410.5 949.0L1411.1 949.2L1411.6 948.9L1412.2 947.7L1412.8 947.3L1413.3 946.9L1413.9 946.4L1414.5 947.8L1415.1 948.5L1415.6 948.1L1416.2 948.2L1416.8 949.6L1417.3 949.8L1417.9 950.6L1418.5 950.8L1419.0 950.7L1419.6 951.1L1420.2 949.9L1420.8 950.0L1421.3 948.9L1421.9 948.0L1422.5 947.9L1423.0 947.3L1423.6 946.9L1424.2 946.0L1424.7 947.1L1425.3 946.1L1425.9 946.7L1426.5 947.1L1427.0 947.5L1427.6 947.6L1428.2 948.3L1428.7 947.9L1429.3 948.3L1429.9 948.6L1430.4 949.0L1431.0 949.7L1431.6 949.5L1432.2 949.8L1432.7 949.0L1433.3 949.0L1433.9 948.7L1434.4 948.5L1435.0 947.7L1435.6 946.2L1436.1 946.8L1436.7 946.7L1437.3 946.0L1437.9 946.9L1438.4 947.2L1439.0 946.1L1439.6 945.7L1440.1 945.7L1440.7 947.1L1441.3 948.5L1441.8 947.9L1442.4 949.1L1443.0 949.2L1443.6 949.5L1444.1 948.5L1444.7 946.9L1445.3 946.6L1445.8 947.4L1446.4 946.9L1447.0 947.3L1447.5 946.3L1448.1 947.8L1448.7 947.3L1449.3 948.1L1449.8 947.1L1450.4 946.8L1451.0 946.5L1451.5 947.4L1452.1 948.2L1452.7 948.9L1453.2 949.6L1453.8 950.1L1454.4 949.4L1455.0 948.1L1455.5 948.5L1456.1 946.7L1456.7 947.9L1457.2 947.0L1457.8 947.0L1458.4 947.3L1459.0 947.9L1459.5 946.4L1460.1 946.9L1460.7 947.2L1461.2 946.8L1461.8 945.9L1462.4 946.7L1462.9 946.8L1463.5 947.4L1464.1 947.0L1464.7 947.7L1465.2 948.2L1465.8 947.4L1466.4 948.6L1466.9 949.1L1467.5 949.2L1468.1 947.5L1468.6 948.3L1469.2 948.0L1469.8 947.5L1470.4 948.9L1470.9 947.6L1471.5 949.0L1472.1 948.2L1472.6 947.5L1473.2 947.2L1473.8 947.5L1474.3 948.3L1474.9 948.1L1475.5 948.3L1476.1 948.9L1476.6 948.6L1477.2 948.8L1477.8 948.0L1478.3 948.5L1478.9 948.5L1479.5 947.5L1480.0 946.9L1480.6 946.9L1481.2 947.3L1481.8 947.3L1482.3 947.2L1482.9 946.3L1483.5 946.2L1484.0 946.8L1484.6 947.8L1485.2 947.5L1485.7 946.1L1486.3 945.6L1486.9 946.4L1487.5 945.6L1488.0 946.4L1488.6 947.2L1489.2 948.5L1489.7 949.0L1490.3 948.4L1490.9 950.1L1491.4 949.1L1492.0 949.8L1492.6 948.7L1493.2 947.2L1493.7 947.0L1494.3 947.6L1494.9 947.9L1495.4 948.0L1496.0 949.1L1496.6 950.1L1497.1 950.1L1497.7 949.9L1498.3 950.7L1498.9 951.6L1499.4 951.1L1500.0 951.1L1500.6 952.1L1501.1 950.3L1501.7 951.2L1502.3 950.7L1502.9 949.3L1503.4 949.7L1504.0 948.4L1504.6 949.0L1505.1 949.3L1505.7 948.8L1506.3 949.0L1506.8 950.5L1507.4 949.4L1508.0 951.3L1508.6 951.3L1509.1 951.2L1509.7 951.1L1510.3 950.2L1510.8 950.6L1511.4 950.1L1512.0 950.1L1512.5 949.1L1513.1 949.3L1513.7 947.1L1514.3 947.6L1514.8 947.4L1515.4 947.5L1516.0 947.1L1516.5 948.0L1517.1 948.0L1517.7 948.0L1518.2 947.4L1518.8 946.4L1519.4 944.1L1520.0 942.4L1520.5 942.3L1521.1 940.5L1521.7 940.9L1522.2 940.1L1522.8 940.0L1523.4 939.2L1523.9 939.0L1524.5 938.4L1525.1 937.1L1525.7 938.0L1526.2 937.4L1526.8 937.3L1527.4 936.7L1527.9 936.5L1528.5 936.8L1529.1 936.4L1529.6 936.5L1530.2 935.0L1530.8 933.6L1531.4 931.8L1531.9 932.0L1532.5 929.8L1533.1 926.5L1533.6 922.3L1534.2 919.4L1534.8 917.1L1535.3 915.6L1535.9 912.6L1536.5 912.4L1537.1 910.2L1537.6 908.8L1538.2 908.3L1538.8 907.3L1539.3 904.9L1539.9 904.6L1540.5 904.0L1541.0 903.9L1541.6 903.9L1542.2 904.7L1542.8 904.2L1543.3 903.7L1543.9 903.6L1544.5 903.1L1545.0 902.5L1545.6 902.2L1546.2 902.2L1546.8 901.0L1547.3 901.7L1547.9 902.3L1548.5 903.5L1549.0 903.2L1549.6 904.0L1550.2 905.1L1550.7 904.3L1551.3 905.3L1551.9 904.8L1552.5 905.5L1553.0 905.7L1553.6 905.5L1554.2 907.8L1554.7 908.8L1555.3 910.7L1555.9 911.7L1556.4 912.7L1557.0 914.1L1557.6 915.0L1558.2 915.5L1558.7 915.3L1559.3 915.3L1559.9 914.6L1560.4 914.5L1561.0 912.1L1561.6 910.9L1562.1 911.0L1562.7 910.4L1563.3 909.8L1563.9 909.2L1564.4 907.4L1565.0 907.5L1565.6 906.6L1566.1 906.8L1566.7 906.7L1567.3 907.6L1567.8 907.7L1568.4 908.1L1569.0 907.8L1569.6 906.6L1570.1 905.9L1570.7 905.6L1571.3 906.5L1571.8 906.4L1572.4 906.1L1573.0 907.2L1573.5 905.0L1574.1 902.2L1574.7 898.9L1575.3 897.4L1575.8 898.7L1576.4 900.5L1577.0 903.0L1577.5 906.4L1578.1 908.5L1578.7 909.2L1579.2 908.5L1579.8 909.4L1580.4 910.5L1581.0 911.5L1581.5 910.2L1582.1 910.1L1582.7 910.7L1583.2 910.2L1583.8 910.2L1584.4 911.5L1584.9 912.2L1585.5 914.3L1586.1 915.2L1586.7 914.9L1587.2 915.6L1587.8 918.1L1588.4 918.1L1588.9 921.0L1589.5 921.1L1590.1 924.2L1590.6 925.0L1591.2 928.2L1591.8 930.8L1592.4 932.2L1592.9 934.5L1593.5 935.8L1594.1 936.2L1594.6 937.0L1595.2 937.9L1595.8 937.7L1596.4 937.8L1596.9 937.6L1597.5 938.2L1598.1 937.8L1598.6 935.9L1599.2 936.7L1599.8 935.7L1600.3 935.5L1600.9 937.3L1601.5 937.8L1602.1 940.1L1602.6 943.9L1603.2 946.3L1603.8 947.1L1604.3 949.9L1604.9 950.5L1605.5 950.7L1606.0 949.8L1606.6 949.4L1607.2 949.2L1607.8 948.4L1608.3 947.4L1608.9 945.8L1609.5 945.7L1610.0 945.1L1610.6 945.8L1611.2 946.8L1611.7 946.9L1612.3 947.4L1612.9 947.8L1613.5 949.0L1614.0 949.2L1614.6 948.2L1615.2 948.7L1615.7 947.5L1616.3 945.9L1616.9 945.9L1617.4 944.9L1618.0 944.9L1618.6 945.1L1619.2 945.6L1619.7 945.3L1620.3 946.5L1620.9 947.8L1621.4 947.3L1622.0 947.2L1622.6 947.2L1623.1 947.7L1623.7 948.2L1624.3 948.1L1624.9 949.0L1625.4 949.8L1626.0 949.5L1626.6 950.2L1627.1 951.2L1627.7 950.6L1628.3 950.6L1628.8 951.9L1629.4 951.5L1630.0 950.8L1630.6 950.4L1631.1 950.8L1631.7 950.8L1632.3 950.3L1632.8 949.6L1633.4 948.7L1634.0 948.6L1634.5 947.4L1635.1 946.6L1635.7 947.8L1636.3 948.0L1636.8 948.2L1637.4 948.0L1638.0 948.5L1638.5 947.6L1639.1 947.5L1639.7 947.8L1640.3 948.0L1640.8 948.5L1641.4 947.4L1642.0 947.0L1642.5 947.5L1643.1 947.9L1643.7 947.7L1644.2 948.8L1644.8 948.9L1645.4 948.3L1646.0 949.7L1646.5 949.7L1647.1 950.9L1647.7 950.3L1648.2 951.0L1648.8 951.7L1649.4 952.0L1649.9 950.6L1650.5 951.4L1651.1 951.1L1651.7 949.7L1652.2 948.6L1652.8 948.6L1653.4 948.7L1653.9 948.3L1654.5 948.4L1655.1 947.8L1655.6 949.8L1656.2 949.5L1656.8 950.9L1657.4 949.7L1657.9 950.5L1658.5 950.2L1659.1 947.9L1659.6 947.5L1660.2 947.4L1660.8 948.3L1661.3 947.9L1661.9 947.1L1662.5 946.8L1663.1 948.2L1663.6 946.7L1664.2 946.7L1664.8 946.2L1665.3 946.1L1665.9 946.0L1666.5 945.0L1667.0 944.8L1667.6 946.8L1668.2 946.1L1668.8 946.9L1669.3 946.8L1669.9 946.5L1670.5 946.0L1671.0 945.9L1671.6 945.2L1672.2 944.5L1672.7 944.7L1673.3 944.9L1673.9 945.6L1674.5 946.4L1675.0 946.1L1675.6 945.2L1676.2 944.4L1676.7 945.1L1677.3 944.0L1677.9 944.9L1678.4 945.0L1679.0 944.6L1679.6 944.3L1680.2 943.0L1680.7 943.9L1681.3 943.8L1681.9 945.6L1682.4 945.9L1683.0 946.1L1683.6 945.6L1684.2 945.8L1684.7 944.7L1685.3 944.8L1685.9 943.8L1686.4 944.9L1687.0 943.5L1687.6 943.1L1688.1 943.4L1688.7 944.6L1689.3 946.0L1689.9 945.5L1690.4 945.3L1691.0 946.2L1691.6 946.1L1692.1 946.6L1692.7 946.2L1693.3 945.5L1693.8 945.8L1694.4 946.1L1695.0 947.9L1695.6 949.3L1696.1 949.7L1696.7 949.2L1697.3 949.3L1697.8 949.0L1698.4 948.5L1699.0 947.7L1699.5 946.8L1700.1 946.3L1700.7 946.5L1701.3 948.5L1701.8 948.8L1702.4 947.9L1703.0 948.2L1703.5 947.9L1704.1 946.9L1704.7 947.0L1705.2 946.3L1705.8 946.6L1706.4 946.1L1707.0 946.7L1707.5 945.7L1708.1 946.4L1708.7 948.4L1709.2 949.4L1709.8 948.9L1710.4 950.4L1710.9 950.3L1711.5 949.1L1712.1 949.5L1712.7 950.1L1713.2 949.2L1713.8 949.9L1714.4 949.7L1714.9 949.7L1715.5 950.0L1716.1 950.0L1716.6 949.4L1717.2 949.3L1717.8 950.1L1718.4 950.4L1718.9 950.4L1719.5 950.1L1720.1 949.8L1720.6 951.3L1721.2 952.0L1721.8 951.9L1722.3 952.0L1722.9 953.0L1723.5 953.4L1724.1 953.5L1724.6 952.5L1725.2 953.5L1725.8 952.8L1726.3 953.4L1726.9 954.1L1727.5 952.6L1728.1 954.1L1728.6 952.2L1729.2 953.1L1729.8 951.7L1730.3 951.4L1730.9 951.1L1731.5 952.8L1732.0 953.3L1732.6 953.2L1733.2 953.1L1733.8 952.6L1734.3 952.9L1734.9 953.5L1735.5 953.4L1736.0 952.4L1736.6 951.6L1737.2 950.5L1737.7 950.5L1738.3 949.4L1738.9 950.1L1739.5 950.3L1740.0 950.8L1740.6 952.2L1741.2 951.8L1741.7 952.9L1742.3 954.1L1742.9 953.6L1743.4 953.6L1744.0 953.5L1744.6 953.5L1745.2 953.0L1745.7 953.9L1746.3 951.6L1746.9 950.9L1747.4 950.4L1748.0 949.2L1748.6 949.5L1749.1 948.9L1749.7 949.8L1750.3 949.3L1750.9 949.9L1751.4 949.8L1752.0 951.2L1752.6 950.9L1753.1 950.2L1753.7 951.9L1754.3 951.0L1754.8 950.3L1755.4 951.7L1756.0 951.7L1756.6 950.6L1757.1 950.7L1757.7 949.3L1758.3 947.6L1758.8 947.6L1759.4 948.4L1760.0 947.7L1760.5 947.9L1761.1 949.2L1761.7 948.6L1762.3 948.8L1762.8 949.8L1763.4 949.2L1764.0 948.1L1764.5 947.6L1765.1 947.2L1765.7 947.1L1766.2 945.6L1766.8 945.8L1767.4 946.0L1768.0 946.1L1768.5 946.5L1769.1 946.1L1769.7 945.9L1770.2 945.1L1770.8 944.6L1771.4 944.9L1771.9 945.3L1772.5 944.5L1773.1 942.5L1773.7 942.9L1774.2 941.9L1774.8 939.2L1775.4 938.2L1775.9 937.5L1776.5 936.4L1777.1 933.2L1777.7 932.2L1778.2 928.4L1778.8 926.5L1779.4 925.4L1779.9 924.5L1780.5 923.9L1781.1 922.6L1781.6 922.4L1782.2 922.2L1782.8 922.3L1783.4 923.2L1783.9 923.4L1784.5 923.3L1785.1 924.4L1785.6 925.4L1786.2 925.8L1786.8 925.4L1787.3 926.4L1787.9 928.3L1788.5 928.2L1789.1 927.1L1789.6 928.0L1790.2 926.7L1790.8 925.0L1791.3 924.4L1791.9 922.1L1792.5 922.1L1793.0 921.0L1793.6 920.3L1794.2 919.7L1794.8 920.9L1795.3 921.9L1795.9 922.1L1796.5 921.8L1797.0 922.3L1797.6 920.8L1798.2 921.1L1798.7 920.7L1799.3 921.4L1799.9 923.5L1800.5 925.1L1801.0 926.1L1801.6 926.9L1802.2 927.5L1802.7 926.2L1803.3 925.4L1803.9 925.0L1804.4 925.3L1805.0 925.5L1805.6 926.1L1806.2 926.6L1806.7 929.2L1807.3 929.0L1807.9 932.0L1808.4 933.8L1809.0 935.5L1809.6 936.5L1810.1 939.5L1810.7 940.0L1811.3 941.3L1811.9 941.8L1812.4 941.4L1813.0 941.3L1813.6 942.2L1814.1 941.5L1814.7 942.2L1815.3 941.0L1815.8 941.6L1816.4 942.2L1817.0 942.3L1817.6 942.9L1818.1 943.7L1818.7 944.8L1819.3 944.4L1819.8 944.8L1820.4 946.0L1821.0 946.2L1821.6 947.9L1822.1 947.0L1822.7 947.4L1823.3 947.0L1823.8 948.4L1824.4 946.9L1825.0 947.3L1825.5 947.6L1826.1 947.7L1826.7 947.3L1827.3 949.0L1827.8 949.8L1828.4 950.6L1829.0 951.2L1829.5 950.4L1830.1 951.1L1830.7 950.5L1831.2 949.7L1831.8 949.7L1832.4 951.1L1833.0 949.4L1833.5 950.2L1834.1 950.5L1834.7 948.7L1835.2 948.8L1835.8 948.9L1836.4 949.0L1836.9 948.2L1837.5 947.7L1838.1 946.8L1838.7 947.9L1839.2 948.4L1839.8 947.9L1840.4 949.5L1840.9 947.8L1841.5 948.8L1842.1 948.2L1842.6 946.9L1843.2 947.6L1843.8 946.9L1844.4 948.1L1844.9 949.1L1845.5 948.7L1846.1 949.2L1846.6 949.0L1847.2 950.0L1847.8 949.2L1848.3 950.5L1848.9 951.3L1849.5 950.0L1850.1 951.7L1850.6 951.6L1851.2 950.0L1851.8 950.9L1852.3 949.6L1852.9 950.5L1853.5 950.2L1854.0 950.5L1854.6 951.2L1855.2 951.3L1855.8 950.7L1856.3 950.4L1856.9 951.4L1857.5 952.0L1858.0 952.5L1858.6 951.7L1859.2 952.6L1859.7 951.3L1860.3 950.4L1860.9 951.2L1861.5 949.6L1862.0 949.9L1862.6 949.4L1863.2 948.4L1863.7 948.7L1864.3 947.5L1864.9 947.5L1865.5 947.1L1866.0 948.1L1866.6 947.5L1867.2 947.5L1867.7 947.1L1868.3 947.1L1868.9 945.8L1869.4 945.2L1870.0 944.2L1870.6 944.6L1871.2 944.6L1871.7 944.4L1872.3 945.5L1872.9 946.8L1873.4 947.2L1874.0 947.6L1874.6 947.5L1875.1 947.4L1875.7 946.9L1876.3 945.2L1876.9 946.4L1877.4 945.6L1878.0 945.5L1878.6 946.3L1879.1 947.0L1879.7 947.4L1880.3 948.1L1880.8 947.8L1881.4 947.5L1882.0 947.4L1882.6 948.4L1883.1 946.9L1883.7 946.8L1884.3 948.0L1884.8 948.2L1885.4 948.5L1886.0 949.1L1886.5 949.6L1887.1 949.4L1887.7 950.8L1888.3 949.5L1888.8 950.5L1889.4 950.4L1890.0 951.3L1890.5 950.4L1891.1 951.5L1891.7 950.5L1892.2 948.8L1892.8 948.9L1893.4 947.8L1894.0 946.9L1894.5 946.4L1895.1 947.9L1895.7 948.3L1896.2 948.2L1896.8 949.3L1897.4 951.1L1897.9 950.2L1898.5 950.6L1899.1 950.7L1899.7 950.9L1900.2 951.9L1900.8 951.6L1901.4 950.3L1901.9 950.6L1902.5 950.0L1903.1 948.9L1903.6 949.6L1904.2 949.7L1904.8 948.8L1905.4 949.6L1905.9 949.0L1906.5 948.5L1907.1 949.6L1907.6 949.2L1908.2 948.3L1908.8 948.3L1909.4 947.2L1909.9 946.8L1910.5 947.2L1911.1 947.3L1911.6 946.6L1912.2 947.8L1912.8 947.2L1913.3 948.3L1913.9 947.7L1914.5 947.5L1915.1 947.3L1915.6 947.5L1916.2 946.5L1916.8 946.7L1917.3 946.7L1917.9 946.7L1918.5 948.1L1919.0 946.9L1919.6 947.2L1920.2 946.7L1920.8 946.4L1921.3 947.2L1921.9 946.8L1922.5 946.9L1923.0 946.5L1923.6 945.9L1924.2 946.5L1924.7 945.5L1925.3 946.3L1925.9 945.8L1926.5 946.9L1927.0 946.6L1927.6 946.3L1928.2 945.2L1928.7 945.0L1929.3 945.3L1929.9 946.0L1930.4 944.9L1931.0 945.1L1931.6 944.9L1932.2 944.9L1932.7 944.3L1933.3 943.7L1933.9 943.3L1934.4 944.1L1935.0 943.5L1935.6 944.2L1936.1 944.2L1936.7 944.0L1937.3 942.5L1937.9 942.8L1938.4 942.6L1939.0 943.0L1939.6 943.3L1940.1 942.5L1940.7 943.9L1941.3 944.7L1941.8 945.6L1942.4 945.8L1943.0 947.1L1943.6 948.1L1944.1 947.9L1944.7 947.3L1945.3 947.5L1945.8 947.6L1946.4 947.2L1947.0 947.3L1947.5 948.1L1948.1 947.4L1948.7 948.0L1949.3 948.2L1949.8 946.3L1950.4 945.8L1951.0 943.9L1951.5 942.7L1952.1 943.2L1952.7 943.3L1953.2 941.9L1953.8 941.6L1954.4 942.4L1955.0 940.9L1955.5 940.7L1956.1 939.0L1956.7 938.1L1957.2 937.9L1957.8 937.0L1958.4 936.7L1959.0 935.8L1959.5 934.5L1960.1 933.4L1960.7 933.4L1961.2 933.1L1961.8 933.6L1962.4 935.9L1962.9 936.4L1963.5 937.3L1964.1 937.1L1964.7 937.4L1965.2 936.7L1965.8 936.9L1966.4 934.7L1966.9 934.3L1967.5 932.5L1968.1 930.2L1968.6 927.8L1969.2 927.6L1969.8 928.1L1970.4 928.5L1970.9 929.2L1971.5 930.9L1972.1 932.7L1972.6 933.7L1973.2 935.2L1973.8 934.5L1974.3 936.0L1974.9 936.6L1975.5 938.9L1976.1 938.8L1976.6 940.8L1977.2 942.0L1977.8 942.7L1978.3 941.5L1978.9 942.2L1979.5 941.8L1980.0 940.5L1980.6 940.1L1981.2 940.9L1981.8 940.2L1982.3 938.0L1982.9 937.6L1983.5 937.3L1984.0 936.2L1984.6 936.8L1985.2 937.7L1985.7 937.9L1986.3 937.7L1986.9 938.9L1987.5 939.3L1988.0 938.5L1988.6 938.6L1989.2 938.5L1989.7 936.9L1990.3 936.1L1990.9 936.4L1991.4 934.8L1992.0 934.9L1992.6 936.0L1993.2 935.5L1993.7 934.1L1994.3 933.8L1994.9 935.2L1995.4 933.6L1996.0 934.1L1996.6 934.0L1997.1 935.3L1997.7 935.5L1998.3 934.6L1998.9 934.3L1999.4 933.9L2000.0 934.2L2000.6 935.1L2001.1 934.8L2001.7 933.9L2002.3 933.8"/>
<path id="c-cu" stroke="#0000FF" d="M158.5 612.5L159.1 612.1L159.6 611.6L160.2 609.9L160.8 640.9L161.3 674.0L161.9 673.6L162.5 673.3L163.1 675.9L163.6 676.9L164.2 676.2L164.8 677.2L165.3 675.6L165.9 676.1L166.5 676.9L167.0 676.8L167.6 677.6L168.2 677.2L168.8 678.3L169.3 677.3L169.9 676.2L170.5 676.7L171.0 676.8L171.6 676.0L172.2 676.3L172.7 676.7L173.3 674.9L173.9 676.0L174.5 676.8L175.0 675.6L175.6 676.1L176.2 676.9L176.7 677.3L177.3 676.9L177.9 676.7L178.4 675.3L179.0 675.9L179.6 674.6L180.2 674.0L180.7 675.8L181.3 676.0L181.9 676.3L182.4 677.3L183.0 676.8L183.6 675.8L184.2 676.2L184.7 676.2L185.3 676.1L185.9 676.0L186.4 677.1L187.0 677.6L187.6 677.9L188.1 677.3L188.7 677.3L189.3 677.8L189.9 677.8L190.4 676.5L191.0 676.7L191.6 676.4L192.1 675.9L192.7 677.3L193.3 678.0L193.8 679.6L194.4 678.1L195.0 679.6L195.6 679.4L196.1 678.5L196.7 677.3L197.3 678.0L197.8 676.5L198.4 676.6L199.0 677.1L199.5 676.7L200.1 677.0L200.7 676.8L201.3 676.4L201.8 676.9L202.4 677.8L203.0 678.0L203.5 677.0L204.1 678.4L204.7 678.5L205.2 678.9L205.8 680.2L206.4 679.9L207.0 678.8L207.5 677.7L208.1 677.0L208.7 674.8L209.2 674.7L209.8 674.3L210.4 674.4L210.9 674.2L211.5 674.9L212.1 675.2L212.7 674.2L213.2 675.0L213.8 674.5L214.4 674.7L214.9 674.8L215.5 675.0L216.1 676.0L216.6 675.5L217.2 675.3L217.8 676.7L218.4 676.6L218.9 677.5L219.5 678.7L220.1 678.0L220.6 677.3L221.2 676.2L221.8 676.4L222.3 676.4L222.9 675.4L223.5 674.9L224.1 673.5L224.6 672.9L225.2 672.7L225.8 673.2L226.3 674.7L226.9 675.3L227.5 676.1L228.1 677.9L228.6 677.9L229.2 678.5L229.8 677.7L230.3 678.4L230.9 677.0L231.5 676.9L232.0 676.5L232.6 675.8L233.2 676.6L233.8 674.7L234.3 675.8L234.9 674.8L235.5 674.4L236.0 674.8L236.6 676.2L237.2 676.8L237.7 676.8L238.3 675.9L238.9 676.3L239.5 675.6L240.0 676.2L240.6 675.9L241.2 675.4L241.7 675.9L242.3 677.3L242.9 677.0L243.4 677.2L244.0 677.5L244.6 679.2L245.2 677.6L245.7 677.3L246.3 677.1L246.9 678.1L247.4 678.4L248.0 676.9L248.6 678.1L249.1 678.3L249.7 678.1L250.3 677.2L250.9 678.4L251.4 677.8L252.0 678.5L252.6 678.3L253.1 677.4L253.7 676.1L254.3 676.2L254.8 676.7L255.4 677.4L256.0 677.0L256.6 677.3L257.1 677.9L257.7 678.3L258.3 676.9L258.8 677.4L259.4 677.3L260.0 676.7L260.5 676.2L261.1 677.0L261.7 676.5L262.3 675.1L262.8 674.6L263.4 675.0L264.0 675.6L264.5 675.8L265.1 676.8L265.7 678.0L266.2 678.4L266.8 678.7L267.4 678.7L268.0 677.7L268.5 677.7L269.1 677.4L269.7 676.6L270.2 676.0L270.8 676.2L271.4 676.3L271.9 676.4L272.5 675.7L273.1 676.0L273.7 676.5L274.2 677.2L274.8 675.7L275.4 675.9L275.9 675.2L276.5 675.9L277.1 674.4L277.7 676.1L278.2 675.1L278.8 676.4L279.4 676.2L279.9 675.5L280.5 675.3L281.1 675.6L281.6 676.2L282.2 676.4L282.8 677.7L283.4 677.6L283.9 678.6L284.5 678.6L285.1 678.0L285.6 677.9L286.2 677.7L286.8 677.4L287.3 676.4L287.9 676.1L288.5 675.9L289.1 677.0L289.6 676.1L290.2 676.6L290.8 675.8L291.3 676.3L291.9 675.9L292.5 675.2L293.0 674.9L293.6 674.7L294.2 675.4L294.8 675.1L295.3 675.3L295.9 674.6L296.5 675.7L297.0 677.1L297.6 677.7L298.2 678.6L298.7 676.9L299.3 677.7L299.9 676.4L300.5 676.9L301.0 676.7L301.6 677.0L302.2 677.6L302.7 676.5L303.3 676.5L303.9 678.1L304.4 677.2L305.0 677.2L305.6 677.0L306.2 678.0L306.7 678.7L307.3 679.3L307.9 678.2L308.4 677.3L309.0 677.8L309.6 676.4L310.1 676.7L310.7 676.9L311.3 677.6L311.9 676.6L312.4 677.0L313.0 676.9L313.6 677.2L314.1 675.9L314.7 675.5L315.3 676.3L315.8 675.4L316.4 676.1L317.0 676.7L317.6 677.7L318.1 677.1L318.7 677.0L319.3 677.0L319.8 677.2L320.4 677.4L321.0 677.5L321.6 679.1L322.1 679.3L322.7 678.5L323.3 677.6L323.8 678.3L324.4 676.2L325.0 677.1L325.5 676.4L326.1 675.7L326.7 676.4L327.3 676.4L327.8 675.4L328.4 676.2L329.0 676.6L329.5 676.1L330.1 674.9L330.7 674.7L331.2 675.4L331.8 674.4L332.4 676.0L333.0 676.2L333.5 676.2L334.1 676.4L334.7 676.4L335.2 675.7L335.8 677.3L336.4 676.7L336.9 677.6L337.5 676.9L338.1 678.4L338.7 678.1L339.2 677.2L339.8 678.1L340.4 677.7L340.9 676.6L341.5 676.0L342.1 677.0L342.6 675.7L343.2 677.8L343.8 678.1L344.4 676.5L344.9 677.7L345.5 675.9L346.1 676.3L346.6 675.9L347.2 674.4L347.8 674.5L348.3 675.8L348.9 675.9L349.5 676.4L350.1 676.0L350.6 677.0L351.2 675.5L351.8 675.4L352.3 675.0L352.9 674.3L353.5 675.0L354.0 674.3L354.6 676.1L355.2 675.5L355.8 676.5L356.3 676.6L356.9 676.4L357.5 677.3L358.0 676.6L358.6 676.9L359.2 677.2L359.7 676.0L360.3 677.2L360.9 676.7L361.5 675.6L362.0 676.3L362.6 677.0L363.2 675.7L363.7 675.1L364.3 675.0L364.9 675.0L365.5 674.9L366.0 675.0L366.6 676.1L367.2 677.0L367.7 678.1L368.3 679.2L368.9 678.7L369.4 677.5L370.0 677.5L370.6 677.6L371.2 678.7L371.7 677.0L372.3 677.7L372.9 676.7L373.4 675.5L374.0 675.4L374.6 674.9L375.1 674.6L375.7 673.7L376.3 674.1L376.9 674.7L377.4 675.2L378.0 675.3L378.6 675.7L379.1 675.1L379.7 675.5L380.3 676.2L380.8 676.2L381.4 675.3L382.0 677.1L382.6 676.1L383.1 675.5L383.7 675.4L384.3 674.6L384.8 674.4L385.4 674.1L386.0 673.1L386.5 674.6L387.1 673.8L387.7 674.2L388.3 674.0L388.8 675.1L389.4 675.0L390.0 674.3L390.5 673.4L391.1 674.3L391.7 673.4L392.2 672.8L392.8 673.2L393.4 673.5L394.0 673.1L394.5 671.7L395.1 672.8L395.7 671.7L396.2 672.2L396.8 671.0L397.4 671.5L397.9 671.2L398.5 669.7L399.1 671.5L399.7 671.5L400.2 671.5L400.8 670.5L401.4 671.5L401.9 671.6L402.5 672.0L403.1 671.1L403.6 670.2L404.2 671.0L404.8 669.8L405.4 669.4L405.9 669.9L406.5 668.9L407.1 669.4L407.6 671.8L408.2 672.6L408.8 673.5L409.4 673.8L409.9 674.1L410.5 673.5L411.1 672.7L411.6 673.3L412.2 671.8L412.8 672.6L413.3 671.9L413.9 673.2L414.5 674.7L415.1 675.5L415.6 675.6L416.2 676.4L416.8 674.4L417.3 674.6L417.9 673.9L418.5 673.6L419.0 673.1L419.6 674.4L420.2 675.1L420.8 675.6L421.3 676.3L421.9 676.5L422.5 676.1L423.0 675.8L423.6 675.1L424.2 674.4L424.7 675.6L425.3 675.3L425.9 675.8L426.5 677.5L427.0 678.4L427.6 677.2L428.2 676.8L428.7 676.8L429.3 676.2L429.9 675.6L430.4 675.5L431.0 675.3L431.6 674.3L432.2 674.3L432.7 673.7L433.3 673.8L433.9 673.9L434.4 675.9L435.0 676.5L435.6 677.1L436.1 677.2L436.7 678.7L437.3 678.6L437.9 679.4L438.4 679.8L439.0 680.8L439.6 681.5L440.1 680.9L440.7 680.5L441.3 680.7L441.8 679.0L442.4 677.6L443.0 677.6L443.6 677.9L444.1 676.8L444.7 677.0L445.3 677.7L445.8 676.5L446.4 676.9L447.0 677.1L447.5 678.5L448.1 679.1L448.7 680.9L449.3 681.2L449.8 681.1L450.4 682.4L451.0 682.5L451.5 682.6L452.1 681.3L452.7 681.0L453.2 680.2L453.8 679.4L454.4 678.6L455.0 677.1L455.5 677.2L456.1 678.1L456.7 678.6L457.2 679.7L457.8 679.2L458.4 677.9L459.0 678.4L459.5 678.1L460.1 677.5L460.7 677.8L461.2 676.7L461.8 678.2L462.4 677.5L462.9 679.3L463.5 678.8L464.1 679.3L464.7 677.9L465.2 677.8L465.8 678.9L466.4 677.4L466.9 677.7L467.5 678.3L468.1 678.3L468.6 676.8L469.2 676.5L469.8 677.4L470.4 676.7L470.9 677.0L471.5 676.8L472.1 677.5L472.6 678.3L473.2 677.7L473.8 676.6L474.3 676.5L474.9 677.8L475.5 677.2L476.1 676.4L476.6 677.3L477.2 677.8L477.8 678.0L478.3 677.6L478.9 676.4L479.5 677.4L480.0 677.2L480.6 678.0L481.2 678.4L481.8 680.2L482.3 681.0L482.9 680.7L483.5 680.5L484.0 681.1L484.6 680.0L485.2 680.0L485.7 679.8L486.3 680.2L486.9 680.1L487.5 680.7L488.0 680.4L488.6 679.5L489.2 680.2L489.7 680.3L490.3 679.7L490.9 678.9L491.4 680.1L492.0 679.6L492.6 677.9L493.2 677.9L493.7 678.6L494.3 678.5L494.9 677.9L495.4 678.3L496.0 677.8L496.6 679.3L497.1 679.0L497.7 678.0L498.3 678.4L498.9 679.1L499.4 679.0L500.0 678.7L500.6 680.3L501.1 680.4L501.7 679.1L502.3 680.3L502.9 679.4L503.4 679.7L504.0 680.2L504.6 681.1L505.1 680.9L505.7 680.7L506.3 681.1L506.8 681.9L507.4 681.3L508.0 680.9L508.6 680.7L509.1 680.3L509.7 680.8L510.3 680.6L510.8 679.3L511.4 678.4L512.0 678.5L512.5 678.4L513.1 678.4L513.7 678.6L514.3 678.4L514.8 678.2L515.4 679.4L516.0 678.3L516.5 679.2L517.1 679.9L517.7 679.4L518.2 678.9L518.8 679.0L519.4 677.8L520.0 679.1L520.5 678.6L521.1 678.7L521.7 676.9L522.2 677.0L522.8 678.1L523.4 677.2L523.9 678.4L524.5 679.0L525.1 678.2L525.7 677.6L526.2 677.0L526.8 676.0L527.4 676.2L527.9 676.8L528.5 677.0L529.1 677.7L529.6 678.8L530.2 678.9L530.8 678.7L531.4 679.5L531.9 677.4L532.5 677.0L533.1 676.4L533.6 675.9L534.2 676.4L534.8 677.3L535.3 677.1L535.9 677.3L536.5 677.1L537.1 676.9L537.6 676.9L538.2 676.2L538.8 675.1L539.3 675.8L539.9 676.8L540.5 676.8L541.0 676.2L541.6 676.4L542.2 675.0L542.8 675.3L543.3 674.3L543.9 674.4L544.5 675.2L545.0 674.8L545.6 675.4L546.2 674.2L546.8 675.0L547.3 675.6L547.9 675.0L548.5 675.8L549.0 675.7L549.6 676.5L550.2 676.4L550.7 678.3L551.3 678.2L551.9 678.9L552.5 678.9L553.0 679.2L553.6 679.2L554.2 680.9L554.7 680.8L555.3 680.9L555.9 679.7L556.4 679.7L557.0 680.5L557.6 680.1L558.2 678.7L558.7 679.6L559.3 679.9L559.9 679.5L560.4 679.0L561.0 678.0L561.6 677.7L562.1 676.2L562.7 676.6L563.3 675.7L563.9 677.0L564.4 678.0L565.0 676.8L565.6 676.7L566.1 678.0L566.7 677.1L567.3 677.9L567.8 676.9L568.4 677.8L569.0 677.5L569.6 676.4L570.1 676.3L570.7 676.2L571.3 676.1L571.8 675.7L572.4 676.4L573.0 676.7L573.5 675.7L574.1 677.3L574.7 676.4L575.3 676.8L575.8 677.4L576.4 677.2L577.0 676.9L577.5 677.8L578.1 677.4L578.7 676.9L579.2 677.9L579.8 676.9L580.4 677.0L581.0 674.7L581.5 675.2L582.1 674.3L582.7 673.7L583.2 675.1L583.8 676.7L584.4 677.7L584.9 677.7L585.5 677.7L586.1 677.7L586.7 677.3L587.2 676.1L587.8 674.6L588.4 675.0L588.9 673.0L589.5 672.5L590.1 673.1L590.6 673.4L591.2 672.6L591.8 673.6L592.4 673.8L592.9 674.3L593.5 673.7L594.1 675.0L594.6 673.8L595.2 674.5L595.8 674.0L596.4 674.4L596.9 674.5L597.5 676.2L598.1 676.3L598.6 675.8L599.2 675.1L599.8 675.6L600.3 675.8L600.9 676.2L601.5 676.5L602.1 676.6L602.6 677.0L603.2 678.2L603.8 678.0L604.3 678.4L604.9 678.1L605.5 677.1L606.0 676.8L606.6 675.2L607.2 674.6L607.8 675.4L608.3 675.8L608.9 675.0L609.5 675.9L610.0 675.5L610.6 676.2L611.2 677.0L611.7 677.1L612.3 676.6L612.9 677.3L613.5 677.4L614.0 676.5L614.6 678.2L615.2 677.3L615.7 678.9L616.3 678.5L616.9 679.1L617.4 677.6L618.0 677.9L618.6 676.1L619.2 676.0L619.7 675.5L620.3 675.5L620.9 675.2L621.4 675.1L622.0 674.7L622.6 676.2L623.1 675.8L623.7 674.6L624.3 675.3L624.9 674.5L625.4 675.0L626.0 674.6L626.6 675.3L627.1 675.0L627.7 675.2L628.3 675.2L628.8 673.8L629.4 675.3L630.0 676.6L630.6 675.7L631.1 678.0L631.7 678.3L632.3 680.0L632.8 680.0L633.4 681.5L634.0 682.2L634.5 682.1L635.1 682.0L635.7 682.1L636.3 681.2L636.8 680.2L637.4 680.5L638.0 680.6L638.5 679.2L639.1 678.7L639.7 678.8L640.3 677.2L640.8 677.5L641.4 678.8L642.0 680.6L642.5 680.0L643.1 681.1L643.7 681.3L644.2 679.9L644.8 681.1L645.4 681.0L646.0 679.9L646.5 681.0L647.1 681.3L647.7 682.4L648.2 681.8L648.8 683.2L649.4 683.4L649.9 684.9L650.5 684.6L651.1 686.0L651.7 685.0L652.2 683.8L652.8 683.5L653.4 683.0L653.9 681.8L654.5 681.7L655.1 683.5L655.6 684.2L656.2 684.6L656.8 687.1L657.4 686.9L657.9 688.7L658.5 688.7L659.1 687.3L659.6 686.2L660.2 686.5L660.8 685.9L661.3 685.0L661.9 684.9L662.5 684.4L663.1 686.5L663.6 685.6L664.2 686.9L664.8 687.0L665.3 687.7L665.9 686.8L666.5 686.1L667.0 686.7L667.6 686.2L668.2 687.0L668.8 686.4L669.3 687.4L669.9 686.7L670.5 686.1L671.0 685.2L671.6 684.3L672.2 683.0L672.7 681.9L673.3 680.8L673.9 682.1L674.5 682.2L675.0 682.9L675.6 684.3L676.2 684.6L676.7 684.0L677.3 684.4L677.9 683.6L678.4 683.5L679.0 683.9L679.6 684.7L680.2 683.2L680.7 683.5L681.3 682.9L681.9 682.8L682.4 682.4L683.0 682.9L683.6 684.0L684.2 683.4L684.7 682.8L685.3 683.5L685.9 682.8L686.4 682.9L687.0 683.0L687.6 683.5L688.1 683.5L688.7 683.2L689.3 682.3L689.9 681.9L690.4 681.9L691.0 679.9L691.6 680.4L692.1 679.6L692.7 679.2L693.3 679.8L693.8 678.6L694.4 679.6L695.0 679.5L695.6 680.1L696.1 679.6L696.7 679.1L697.3 678.1L697.8 677.9L698.4 676.3L699.0 674.8L699.5 673.8L700.1 674.8L700.7 674.2L701.3 673.1L701.8 672.7L702.4 672.3L703.0 671.0L703.5 669.4L704.1 669.3L704.7 668.2L705.2 666.6L705.8 666.6L706.4 666.8L707.0 666.3L707.5 664.7L708.1 665.1L708.7 663.1L709.2 662.5L709.8 661.4L710.4 660.7L710.9 660.6L711.5 657.5L712.1 652.8L712.7 646.6L713.2 641.5L713.8 635.5L714.4 631.0L714.9 626.8L715.5 623.0L716.1 617.6L716.6 613.4L717.2 608.5L717.8 601.8L718.4 597.6L718.9 590.2L719.5 583.3L720.1 574.4L720.6 567.1L721.2 555.9L721.8 546.9L722.3 534.6L722.9 522.4L723.5 508.8L724.1 493.4L724.6 479.6L725.2 462.0L725.8 437.6L726.3 409.0L726.9 374.7L727.5 342.8L728.1 311.8L728.6 289.2L729.2 274.5L729.8 264.0L730.3 252.9L730.9 231.5L731.5 192.3L732.0 159.4L732.6 143.0L733.2 129.1L733.8 109.4L734.3 73.8L734.9 43.3L735.5 43.9L736.0 62.9L736.6 84.5L737.2 98.7L737.7 108.1L738.3 128.1L738.9 210.7L739.5 253.2L740.0 264.4L740.6 273.6L741.2 285.3L741.7 301.3L742.3 318.9L742.9 339.0L743.4 360.6L744.0 381.9L744.6 401.8L745.2 422.1L745.7 440.4L746.3 457.9L746.9 472.6L747.4 487.0L748.0 500.0L748.6 513.0L749.1 523.9L749.7 536.2L750.3 549.0L750.9 559.6L751.4 571.0L752.0 580.9L752.6 589.7L753.1 598.2L753.7 603.7L754.3 608.6L754.8 612.9L755.4 617.4L756.0 619.6L756.6 623.0L757.1 626.8L757.7 630.7L758.3 635.8L758.8 639.5L759.4 642.3L760.0 646.3L760.5 649.1L761.1 653.0L761.7 656.0L762.3 656.7L762.8 659.2L763.4 660.0L764.0 661.1L764.5 660.8L765.1 661.4L765.7 660.9L766.2 662.8L766.8 663.2L767.4 664.1L768.0 666.4L768.5 667.9L769.1 671.7L769.7 673.9L770.2 675.1L770.8 677.5L771.4 678.0L771.9 678.9L772.5 678.1L773.1 679.3L773.7 678.5L774.2 679.4L774.8 679.8L775.4 678.3L775.9 679.7L776.5 679.0L777.1 680.2L777.7 682.1L778.2 682.2L778.8 683.0L779.4 683.2L779.9 683.7L780.5 684.1L781.1 685.7L781.6 686.6L782.2 685.7L782.8 685.4L783.4 685.4L783.9 683.4L784.5 683.7L785.1 683.7L785.6 682.3L786.2 684.5L786.8 685.4L787.3 686.8L787.9 686.2L788.5 687.2L789.1 687.6L789.6 687.3L790.2 686.1L790.8 687.4L791.3 686.0L791.9 687.3L792.5 687.7L793.0 687.6L793.6 687.7L794.2 686.9L794.8 687.5L795.3 687.2L795.9 686.3L796.5 686.2L797.0 685.1L797.6 685.5L798.2 686.8L798.7 686.0L799.3 686.3L799.9 685.8L800.5 685.2L801.0 684.3L801.6 684.3L802.2 683.5L802.7 683.4L803.3 684.1L803.9 684.4L804.4 685.1L805.0 685.1L805.6 684.5L806.2 684.3L806.7 685.4L807.3 685.1L807.9 685.9L808.4 686.7L809.0 687.4L809.6 686.7L810.1 686.5L810.7 686.7L811.3 686.1L811.9 685.1L812.4 684.7L813.0 683.5L813.6 684.0L814.1 683.3L814.7 682.7L815.3 683.0L815.8 684.3L816.4 683.7L817.0 685.1L817.6 685.8L818.1 685.3L818.7 685.8L819.3 684.8L819.8 683.4L820.4 682.4L821.0 682.1L821.6 682.1L822.1 682.7L822.7 682.3L823.3 682.9L823.8 683.7L824.4 684.1L825.0 683.5L825.5 683.4L826.1 681.8L826.7 680.9L827.3 680.8L827.8 680.8L828.4 679.8L829.0 679.4L829.5 679.6L830.1 679.0L830.7 679.6L831.2 681.0L831.8 680.6L832.4 681.5L833.0 680.9L833.5 681.1L834.1 680.6L834.7 679.8L835.2 680.3L835.8 679.3L836.4 680.0L836.9 679.2L837.5 679.1L838.1 677.8L838.7 676.7L839.2 677.4L839.8 677.2L840.4 677.4L840.9 676.9L841.5 677.5L842.1 676.1L842.6 676.5L843.2 675.6L843.8 676.4L844.4 675.3L844.9 675.5L845.5 675.7L846.1 675.9L846.6 676.1L847.2 676.3L847.8 675.3L848.3 674.9L848.9 674.0L849.5 673.6L850.1 673.2L850.6 673.3L851.2 672.4L851.8 672.0L852.3 672.7L852.9 671.5L853.5 671.2L854.0 671.0L854.6 669.7L855.2 670.3L855.8 671.1L856.3 672.4L856.9 672.3L857.5 672.7L858.0 672.2L858.6 671.7L859.2 671.8L859.7 671.1L860.3 672.0L860.9 672.2L861.5 672.0L862.0 672.8L862.6 671.8L863.2 672.4L863.7 670.8L864.3 671.1L864.9 670.8L865.5 670.4L866.0 671.5L866.6 671.2L867.2 671.8L867.7 672.9L868.3 674.6L868.9 673.6L869.4 674.2L870.0 674.6L870.6 675.5L871.2 675.5L871.7 676.1L872.3 675.4L872.9 675.0L873.4 675.5L874.0 673.9L874.6 672.9L875.1 672.3L875.7 672.4L876.3 673.5L876.9 674.1L877.4 674.2L878.0 675.1L878.6 674.0L879.1 674.2L879.7 673.0L880.3 672.3L880.8 672.5L881.4 672.5L882.0 672.1L882.6 672.6L883.1 674.0L883.7 673.1L884.3 673.6L884.8 671.8L885.4 673.2L886.0 672.1L886.5 674.1L887.1 673.8L887.7 674.9L888.3 673.8L888.8 674.0L889.4 675.0L890.0 674.4L890.5 674.3L891.1 674.9L891.7 675.3L892.2 674.6L892.8 673.6L893.4 675.0L894.0 673.1L894.5 674.1L895.1 673.9L895.7 674.1L896.2 674.4L896.8 673.6L897.4 672.9L897.9 674.1L898.5 673.4L899.1 673.9L899.7 673.3L900.2 673.2L900.8 673.6L901.4 673.3L901.9 673.3L902.5 674.8L903.1 674.7L903.6 674.5L904.2 674.7L904.8 674.5L905.4 674.2L905.9 674.3L906.5 673.6L907.1 672.8L907.6 672.2L908.2 672.9L908.8 672.4L909.4 671.8L909.9 672.0L910.5 672.7L911.1 671.9L911.6 672.7L912.2 672.9L912.8 671.5L913.3 672.5L913.9 673.7L914.5 673.4L915.1 673.4L915.6 674.6L916.2 675.2L916.8 674.3L917.3 675.2L917.9 675.4L918.5 674.5L919.0 674.8L919.6 674.2L920.2 674.5L920.8 675.5L921.3 676.1L921.9 677.8L922.5 678.2L923.0 678.3L923.6 678.3L924.2 677.3L924.7 677.6L925.3 678.2L925.9 678.7L926.5 678.9L927.0 678.2L927.6 679.0L928.2 678.4L928.7 678.9L929.3 678.7L929.9 678.6L930.4 678.7L931.0 678.7L931.6 679.8L932.2 679.3L932.7 679.1L933.3 678.8L933.9 679.9L934.4 679.5L935.0 680.2L935.6 679.8L936.1 679.7L936.7 680.8L937.3 680.5L937.9 679.9L938.4 679.4L939.0 678.4L939.6 678.2L940.1 680.0L940.7 680.0L941.3 681.2L941.8 680.0L942.4 679.8L943.0 679.9L943.6 681.2L944.1 680.6L944.7 680.5L945.3 680.8L945.8 681.2L946.4 680.6L947.0 680.3L947.5 681.5L948.1 681.4L948.7 680.5L949.3 679.0L949.8 679.5L950.4 679.2L951.0 679.8L951.5 680.1L952.1 681.0L952.7 680.1L953.2 680.4L953.8 679.9L954.4 681.0L955.0 680.7L955.5 681.7L956.1 680.5L956.7 681.5L957.2 682.3L957.8 681.9L958.4 682.6L959.0 683.6L959.5 683.7L960.1 682.2L960.7 683.0L961.2 682.1L961.8 681.9L962.4 681.4L962.9 682.7L963.5 682.1L964.1 681.6L964.7 682.0L965.2 680.9L965.8 681.9L966.4 681.7L966.9 681.1L967.5 680.0L968.1 680.7L968.6 679.1L969.2 678.9L969.8 679.2L970.4 678.7L970.9 679.5L971.5 679.5L972.1 678.7L972.6 677.5L973.2 678.1L973.8 677.2L974.3 677.5L974.9 676.7L975.5 677.7L976.1 678.7L976.6 680.5L977.2 681.1L977.8 680.1L978.3 681.0L978.9 680.5L979.5 679.8L980.0 681.2L980.6 680.9L981.2 680.6L981.8 680.1L982.3 679.9L982.9 679.7L983.5 680.4L984.0 679.8L984.6 679.8L985.2 680.6L985.7 680.2L986.3 681.5L986.9 681.1L987.5 681.5L988.0 681.0L988.6 680.9L989.2 679.3L989.7 679.6L990.3 677.7L990.9 678.9L991.4 677.4L992.0 676.7L992.6 677.2L993.2 678.0L993.7 677.0L994.3 676.9L994.9 678.1L995.4 678.1L996.0 677.6L996.6 678.3L997.1 677.9L997.7 676.4L998.3 676.7L998.9 677.4L999.4 677.3L1000.0 677.7L1000.6 678.5L1001.1 678.6L1001.7 680.2L1002.3 680.0L1002.9 679.6L1003.4 680.3L1004.0 679.3L1004.6 679.9L1005.1 679.6L1005.7 679.3L1006.3 679.8L1006.8 680.0L1007.4 679.0L1008.0 679.3L1008.6 678.1L1009.1 679.0L1009.7 678.1L1010.3 679.7L1010.8 680.3L1011.4 682.0L1012.0 681.5L1012.5 682.5L1013.1 680.9L1013.7 680.7L1014.3 679.6L1014.8 679.0L1015.4 679.2L1016.0 679.6L1016.5 678.1L1017.1 678.7L1017.7 679.7L1018.2 678.8L1018.8 677.8L1019.4 678.2L1020.0 677.3L1020.5 678.0L1021.1 676.4L1021.7 677.6L1022.2 677.9L1022.8 679.2L1023.4 679.5L1023.9 679.1L1024.5 678.5L1025.1 679.2L1025.7 677.9L1026.2 678.5L1026.8 678.4L1027.4 677.8L1027.9 678.0L1028.5 677.0L1029.1 677.6L1029.6 676.7L1030.2 677.6L1030.8 676.4L1031.4 675.4L1031.9 675.1L1032.5 674.2L1033.1 674.9L1033.6 674.2L1034.2 674.4L1034.8 674.7L1035.3 675.3L1035.9 674.1L1036.5 675.5L1037.1 674.7L1037.6 674.1L1038.2 674.9L1038.8 673.4L1039.3 673.2L1039.9 674.3L1040.5 673.1L1041.0 673.4L1041.6 673.0L1042.2 672.3L1042.8 672.6L1043.3 672.5L1043.9 672.6L1044.5 672.9L1045.0 672.0L1045.6 672.2L1046.2 671.2L1046.8 669.2L1047.3 667.1L1047.9 665.7L1048.5 664.7L1049.0 663.0L1049.6 662.5L1050.2 661.9L1050.7 660.3L1051.3 658.4L1051.9 659.0L1052.5 658.5L1053.0 660.0L1053.6 659.7L1054.2 661.6L1054.7 661.3L1055.3 661.0L1055.9 660.4L1056.4 658.8L1057.0 657.4L1057.6 657.8L1058.2 657.0L1058.7 655.6L1059.3 655.8L1059.9 654.7L1060.4 654.4L1061.0 654.3L1061.6 653.7L1062.1 652.3L1062.7 650.6L1063.3 646.2L1063.9 644.7L1064.4 644.1L1065.0 643.5L1065.6 642.2L1066.1 642.2L1066.7 641.0L1067.3 640.7L1067.8 639.1L1068.4 636.3L1069.0 635.4L1069.6 635.0L1070.1 633.7L1070.7 633.5L1071.3 632.7L1071.8 631.4L1072.4 631.3L1073.0 633.0L1073.5 632.0L1074.1 632.9L1074.7 633.8L1075.3 633.5L1075.8 632.6L1076.4 632.8L1077.0 632.3L1077.5 631.3L1078.1 630.6L1078.7 628.1L1079.2 624.6L1079.8 622.4L1080.4 618.2L1081.0 613.7L1081.5 610.7L1082.1 604.8L1082.7 598.1L1083.2 590.3L1083.8 584.4L1084.4 578.1L1084.9 573.2L1085.5 568.5L1086.1 565.9L1086.7 561.6L1087.2 559.8L1087.8 558.8L1088.4 557.6L1088.9 555.6L1089.5 555.3L1090.1 554.5L1090.6 555.2L1091.2 557.6L1091.8 561.6L1092.4 567.8L1092.9 573.8L1093.5 580.2L1094.1 585.0L1094.6 586.0L1095.2 587.2L1095.8 587.4L1096.4 588.5L1096.9 590.1L1097.5 592.2L1098.1 593.9L1098.6 595.0L1099.2 597.9L1099.8 600.7L1100.3 603.8L1100.9 607.5L1101.5 611.4L1102.1 613.7L1102.6 616.2L1103.2 616.4L1103.8 619.0L1104.3 618.5L1104.9 620.2L1105.5 621.4L1106.0 623.6L1106.6 624.8L1107.2 625.1L1107.8 625.4L1108.3 627.8L1108.9 628.6L1109.5 630.2L1110.0 630.6L1110.6 633.1L1111.2 634.3L1111.7 636.2L1112.3 636.7L1112.9 638.4L1113.5 640.5L1114.0 642.5L1114.6 644.7L1115.2 645.8L1115.7 646.6L1116.3 647.9L1116.9 650.3L1117.4 650.2L1118.0 652.9L1118.6 654.3L1119.2 654.1L1119.7 655.8L1120.3 657.8L1120.9 660.0L1121.4 661.1L1122.0 662.1L1122.6 663.5L1123.1 665.0L1123.7 666.2L1124.3 668.0L1124.9 667.3L1125.4 667.8L1126.0 668.2L1126.6 667.0L1127.1 666.7L1127.7 666.6L1128.3 668.0L1128.8 668.7L1129.4 668.7L1130.0 669.0L1130.6 668.6L1131.1 669.6L1131.7 670.5L1132.3 670.2L1132.8 671.8L1133.4 671.1L1134.0 673.1L1134.5 674.9L1135.1 675.3L1135.7 677.8L1136.3 677.8L1136.8 677.8L1137.4 677.8L1138.0 677.8L1138.5 676.7L1139.1 675.8L1139.7 675.9L1140.3 674.7L1140.8 675.3L1141.4 675.5L1142.0 676.4L1142.5 677.7L1143.1 677.1L1143.7 679.0L1144.2 679.1L1144.8 678.3L1145.4 678.8L1146.0 679.3L1146.5 679.3L1147.1 680.1L1147.7 681.2L1148.2 680.8L1148.8 680.7L1149.4 680.8L1149.9 680.9L1150.5 680.1L1151.1 678.7L1151.7 678.9L1152.2 677.7L1152.8 677.2L1153.4 677.0L1153.9 676.4L1154.5 676.8L1155.1 677.3L1155.6 677.9L1156.2 679.8L1156.8 679.8L1157.4 678.8L1157.9 679.5L1158.5 677.7L1159.1 677.1L1159.6 677.9L1160.2 676.6L1160.8 675.8L1161.3 675.7L1161.9 676.0L1162.5 676.3L1163.1 676.5L1163.6 677.1L1164.2 677.4L1164.8 678.0L1165.3 677.5L1165.9 678.4L1166.5 677.9L1167.0 678.8L1167.6 679.5L1168.2 680.6L1168.8 680.7L1169.3 679.8L1169.9 679.0L1170.5 678.6L1171.0 677.9L1171.6 676.9L1172.2 677.9L1172.7 677.4L1173.3 678.3L1173.9 678.1L1174.5 679.2L1175.0 679.3L1175.6 680.0L1176.2 680.4L1176.7 678.8L1177.3 678.6L1177.9 678.4L1178.4 679.0L1179.0 677.9L1179.6 678.6L1180.2 677.2L1180.7 677.2L1181.3 678.0L1181.9 678.7L1182.4 679.6L1183.0 679.9L1183.6 678.4L1184.2 677.8L1184.7 678.4L1185.3 677.9L1185.9 678.0L1186.4 676.4L1187.0 677.6L1187.6 677.2L1188.1 676.9L1188.7 677.5L1189.3 677.3L1189.9 677.9L1190.4 677.6L1191.0 677.2L1191.6 678.2L1192.1 678.0L1192.7 679.6L1193.3 680.6L1193.8 681.3L1194.4 681.0L1195.0 682.3L1195.6 680.8L1196.1 680.6L1196.7 679.8L1197.3 679.6L1197.8 678.5L1198.4 677.7L1199.0 676.5L1199.5 676.3L1200.1 677.8L1200.7 677.9L1201.3 677.7L1201.8 677.8L1202.4 677.1L1203.0 677.2L1203.5 677.6L1204.1 675.9L1204.7 676.3L1205.2 677.0L1205.8 676.5L1206.4 676.4L1207.0 675.2L1207.5 675.8L1208.1 675.7L1208.7 675.8L1209.2 676.6L1209.8 676.0L1210.4 677.0L1210.9 675.9L1211.5 675.8L1212.1 674.8L1212.7 674.6L1213.2 676.4L1213.8 676.1L1214.4 677.5L1214.9 677.7L1215.5 678.9L1216.1 679.7L1216.6 679.3L1217.2 679.1L1217.8 678.8L1218.4 677.9L1218.9 678.5L1219.5 677.2L1220.1 676.3L1220.6 677.5L1221.2 677.6L1221.8 676.5L1222.3 677.9L1222.9 678.5L1223.5 677.8L1224.1 678.7L1224.6 677.6L1225.2 677.9L1225.8 678.4L1226.3 677.7L1226.9 676.6L1227.5 676.8L1228.1 677.1L1228.6 676.5L1229.2 676.7L1229.8 676.8L1230.3 678.2L1230.9 677.4L1231.5 677.9L1232.0 677.7L1232.6 678.1L1233.2 679.3L1233.8 679.3L1234.3 678.9L1234.9 678.2L1235.5 677.6L1236.0 678.1L1236.6 676.1L1237.2 677.3L1237.7 677.9L1238.3 677.5L1238.9 677.3L1239.5 677.3L1240.0 678.7L1240.6 677.9L1241.2 677.7L1241.7 678.2L1242.3 677.7L1242.9 676.4L1243.4 676.6L1244.0 677.9L1244.6 677.1L1245.2 676.2L1245.7 675.8L1246.3 675.5L1246.9 674.2L1247.4 674.9L1248.0 676.5L1248.6 675.8L1249.1 676.9L1249.7 676.5L1250.3 677.3L1250.9 678.0L1251.4 679.5L1252.0 679.6L1252.6 679.3L1253.1 680.1L1253.7 680.1L1254.3 680.5L1254.8 680.9L1255.4 680.2L1256.0 679.8L1256.6 677.3L1257.1 677.1L1257.7 676.3L1258.3 675.2L1258.8 675.4L1259.4 675.4L1260.0 676.4L1260.5 676.0L1261.1 677.6L1261.7 678.8L1262.3 678.8L1262.8 678.7L1263.4 679.4L1264.0 678.7L1264.5 678.9L1265.1 679.1L1265.7 677.8L1266.2 678.3L1266.8 677.3L1267.4 678.1L1268.0 676.6L1268.5 677.4L1269.1 675.9L1269.7 676.6L1270.2 678.3L1270.8 679.0L1271.4 679.1L1271.9 679.7L1272.5 679.4L1273.1 678.9L1273.7 679.1L1274.2 680.8L1274.8 680.4L1275.4 680.9L1275.9 679.6L1276.5 679.6L1277.1 679.2L1277.7 678.5L1278.2 678.5L1278.8 677.7L1279.4 678.1L1279.9 677.5L1280.5 676.6L1281.1 676.1L1281.6 677.5L1282.2 675.9L1282.8 676.6L1283.4 677.3L1283.9 678.2L1284.5 679.3L1285.1 679.3L1285.6 680.2L1286.2 679.3L1286.8 679.2L1287.3 680.0L1287.9 680.0L1288.5 679.4L1289.1 679.8L1289.6 680.3L1290.2 679.3L1290.8 679.6L1291.3 678.3L1291.9 678.5L1292.5 678.1L1293.0 676.6L1293.6 675.8L1294.2 676.9L1294.8 678.1L1295.3 678.5L1295.9 678.0L1296.5 678.2L1297.0 677.4L1297.6 676.4L1298.2 677.0L1298.7 676.4L1299.3 677.4L1299.9 677.6L1300.5 678.2L1301.0 678.7L1301.6 679.3L1302.2 679.2L1302.7 679.2L1303.3 679.8L1303.9 679.2L1304.4 678.0L1305.0 677.9L1305.6 678.4L1306.2 677.9L1306.7 678.9L1307.3 679.2L1307.9 678.2L1308.4 679.4L1309.0 679.1L1309.6 678.6L1310.1 677.4L1310.7 677.7L1311.3 677.2L1311.9 677.1L1312.4 678.1L1313.0 678.0L1313.6 679.9L1314.1 678.3L1314.7 679.2L1315.3 679.9L1315.8 678.4L1316.4 678.5L1317.0 678.5L1317.6 677.3L1318.1 677.7L1318.7 676.5L1319.3 676.8L1319.8 678.4L1320.4 679.3L1321.0 678.6L1321.6 679.8L1322.1 678.8L1322.7 678.4L1323.3 678.2L1323.8 679.8L1324.4 679.1L1325.0 679.1L1325.5 679.3L1326.1 678.4L1326.7 678.1L1327.3 678.1L1327.8 677.3L1328.4 678.5L1329.0 679.4L1329.5 678.8L1330.1 680.2L1330.7 679.5L1331.2 680.4L1331.8 680.5L1332.4 679.3L1333.0 679.0L1333.5 678.7L1334.1 678.1L1334.7 677.2L1335.2 676.8L1335.8 676.2L1336.4 675.1L1336.9 676.0L1337.5 675.5L1338.1 675.2L1338.7 675.3L1339.2 675.9L1339.8 674.1L1340.4 675.0L1340.9 674.0L1341.5 675.5L1342.1 675.0L1342.6 675.9L1343.2 675.8L1343.8 675.4L1344.4 677.2L1344.9 675.9L1345.5 675.8L1346.1 675.6L1346.6 674.1L1347.2 673.8L1347.8 673.2L1348.3 672.3L1348.9 671.7L1349.5 670.8L1350.1 670.6L1350.6 670.9L1351.2 669.6L1351.8 669.8L1352.3 670.5L1352.9 670.3L1353.5 670.0L1354.0 670.1L1354.6 669.4L1355.2 667.0L1355.8 667.2L1356.3 664.6L1356.9 663.2L1357.5 663.1L1358.0 660.2L1358.6 658.9L1359.2 656.2L1359.7 653.6L1360.3 652.1L1360.9 650.2L1361.5 647.4L1362.0 644.1L1362.6 641.8L1363.2 638.9L1363.7 635.4L1364.3 632.9L1364.9 629.4L1365.5 626.8L1366.0 624.6L1366.6 620.8L1367.2 619.0L1367.7 615.7L1368.3 612.1L1368.9 609.3L1369.4 604.6L1370.0 601.5L1370.6 596.9L1371.2 593.6L1371.7 588.4L1372.3 584.1L1372.9 580.5L1373.4 575.6L1374.0 570.7L1374.6 566.1L1375.1 559.6L1375.7 555.1L1376.3 552.5L1376.9 547.6L1377.4 545.8L1378.0 545.6L1378.6 545.5L1379.1 546.0L1379.7 547.1L1380.3 548.6L1380.8 549.6L1381.4 550.4L1382.0 550.4L1382.6 553.1L1383.1 555.0L1383.7 561.1L1384.3 566.6L1384.8 574.1L1385.4 579.9L1386.0 583.1L1386.5 588.3L1387.1 591.2L1387.7 595.9L1388.3 599.3L1388.8 602.9L1389.4 607.9L1390.0 615.4L1390.5 624.7L1391.1 629.9L1391.7 633.4L1392.2 635.5L1392.8 637.4L1393.4 639.9L1394.0 643.1L1394.5 644.4L1395.1 647.7L1395.7 653.8L1396.2 658.0L1396.8 661.3L1397.4 662.5L1397.9 664.5L1398.5 663.7L1399.1 664.0L1399.7 665.0L1400.2 666.0L1400.8 666.7L1401.4 668.6L1401.9 669.9L1402.5 669.3L1403.1 671.4L1403.6 671.2L1404.2 673.1L1404.8 673.8L1405.4 675.0L1405.9 677.2L1406.5 678.6L1407.1 680.3L1407.6 679.6L1408.2 681.6L1408.8 682.2L1409.4 682.6L1409.9 682.9L1410.5 682.1L1411.1 682.6L1411.6 683.4L1412.2 683.2L1412.8 684.1L1413.3 684.6L1413.9 685.5L1414.5 686.0L1415.1 685.9L1415.6 686.3L1416.2 687.2L1416.8 687.8L1417.3 688.3L1417.9 688.5L1418.5 687.7L1419.0 687.6L1419.6 686.5L1420.2 685.4L1420.8 684.4L1421.3 683.6L1421.9 682.8L1422.5 683.9L1423.0 684.8L1423.6 684.3L1424.2 683.1L1424.7 683.0L1425.3 682.8L1425.9 682.2L1426.5 682.2L1427.0 682.2L1427.6 682.7L1428.2 682.6L1428.7 683.5L1429.3 683.8L1429.9 683.0L1430.4 681.0L1431.0 680.9L1431.6 681.8L1432.2 682.8L1432.7 684.3L1433.3 684.2L1433.9 682.7L1434.4 681.6L1435.0 681.6L1435.6 681.3L1436.1 680.9L1436.7 682.1L1437.3 681.3L1437.9 681.3L1438.4 681.5L1439.0 680.1L1439.6 681.0L1440.1 681.9L1440.7 681.9L1441.3 682.9L1441.8 682.2L1442.4 682.9L1443.0 683.2L1443.6 682.8L1444.1 681.7L1444.7 682.1L1445.3 681.7L1445.8 681.5L1446.4 682.1L1447.0 682.0L1447.5 681.6L1448.1 680.6L1448.7 680.8L1449.3 681.3L1449.8 679.9L1450.4 680.3L1451.0 681.1L1451.5 680.2L1452.1 680.2L1452.7 680.5L1453.2 680.8L1453.8 680.1L1454.4 679.9L1455.0 679.6L1455.5 679.8L1456.1 678.4L1456.7 677.8L1457.2 678.6L1457.8 677.1L1458.4 677.5L1459.0 678.5L1459.5 678.5L1460.1 678.8L1460.7 680.6L1461.2 679.0L1461.8 679.8L1462.4 679.5L1462.9 678.9L1463.5 679.6L1464.1 678.2L1464.7 679.5L1465.2 678.6L1465.8 677.5L1466.4 677.3L1466.9 679.0L1467.5 677.9L1468.1 677.9L1468.6 678.8L1469.2 678.7L1469.8 677.4L1470.4 678.7L1470.9 677.7L1471.5 676.3L1472.1 675.6L1472.6 676.0L1473.2 676.2L1473.8 676.8L1474.3 677.6L1474.9 677.8L1475.5 677.1L1476.1 677.1L1476.6 676.3L1477.2 675.0L1477.8 674.1L1478.3 674.3L1478.9 673.2L1479.5 673.2L1480.0 672.6L1480.6 673.5L1481.2 674.8L1481.8 675.8L1482.3 674.7L1482.9 675.5L1483.5 675.3L1484.0 676.4L1484.6 675.2L1485.2 675.8L1485.7 676.4L1486.3 676.1L1486.9 675.7L1487.5 674.7L1488.0 675.6L1488.6 674.7L1489.2 675.5L1489.7 675.2L1490.3 674.9L1490.9 675.3L1491.4 676.5L1492.0 676.1L1492.6 675.6L1493.2 674.4L1493.7 673.7L1494.3 674.0L1494.9 674.7L1495.4 673.7L1496.0 674.5L1496.6 675.2L1497.1 675.4L1497.7 676.1L1498.3 677.5L1498.9 677.3L1499.4 677.5L1500.0 676.8L1500.6 677.1L1501.1 675.6L1501.7 674.9L1502.3 675.0L1502.9 674.2L1503.4 673.6L1504.0 674.7L1504.6 675.1L1505.1 674.3L1505.7 674.8L1506.3 674.4L1506.8 675.0L1507.4 676.3L1508.0 676.3L1508.6 675.9L1509.1 676.6L1509.7 675.6L1510.3 674.4L1510.8 674.4L1511.4 673.3L1512.0 672.8L1512.5 671.3L1513.1 670.6L1513.7 671.3L1514.3 668.8L1514.8 668.3L1515.4 667.7L1516.0 667.5L1516.5 667.6L1517.1 666.7L1517.7 665.6L1518.2 665.0L1518.8 665.5L1519.4 664.8L1520.0 666.2L1520.5 665.7L1521.1 665.5L1521.7 664.1L1522.2 663.5L1522.8 662.8L1523.4 661.6L1523.9 662.2L1524.5 661.8L1525.1 661.9L1525.7 660.9L1526.2 659.7L1526.8 659.6L1527.4 658.2L1527.9 659.0L1528.5 659.7L1529.1 659.5L1529.6 659.5L1530.2 658.1L1530.8 656.1L1531.4 653.6L1531.9 651.7L1532.5 647.2L1533.1 645.8L1533.6 641.9L1534.2 637.8L1534.8 634.6L1535.3 631.9L1535.9 627.4L1536.5 623.1L1537.1 618.5L1537.6 615.6L1538.2 612.8L1538.8 610.6L1539.3 608.9L1539.9 609.0L1540.5 609.1L1541.0 607.0L1541.6 604.9L1542.2 602.7L1542.8 596.8L1543.3 592.0L1543.9 588.8L1544.5 586.9L1545.0 586.0L1545.6 586.9L1546.2 586.5L1546.8 587.3L1547.3 587.8L1547.9 588.6L1548.5 589.0L1549.0 590.7L1549.6 589.8L1550.2 591.7L1550.7 594.1L1551.3 595.8L1551.9 599.2L1552.5 601.8L1553.0 604.5L1553.6 607.2L1554.2 608.6L1554.7 611.9L1555.3 612.5L1555.9 616.0L1556.4 617.1L1557.0 618.3L1557.6 619.2L1558.2 621.3L1558.7 620.5L1559.3 621.8L1559.9 620.9L1560.4 621.3L1561.0 620.9L1561.6 621.2L1562.1 620.3L1562.7 620.2L1563.3 620.0L1563.9 620.3L1564.4 621.5L1565.0 621.3L1565.6 620.0L1566.1 620.7L1566.7 620.7L1567.3 620.3L1567.8 620.1L1568.4 619.9L1569.0 618.0L1569.6 614.6L1570.1 608.0L1570.7 600.4L1571.3 595.7L1571.8 588.2L1572.4 582.4L1573.0 581.2L1573.5 580.9L1574.1 580.7L1574.7 581.4L1575.3 582.3L1575.8 582.4L1576.4 584.6L1577.0 583.9L1577.5 585.4L1578.1 586.3L1578.7 589.3L1579.2 590.5L1579.8 590.7L1580.4 591.2L1581.0 592.1L1581.5 593.2L1582.1 595.0L1582.7 595.6L1583.2 598.4L1583.8 600.0L1584.4 603.7L1584.9 609.0L1585.5 613.9L1586.1 620.5L1586.7 627.2L1587.2 631.5L1587.8 633.9L1588.4 636.3L1588.9 638.0L1589.5 640.6L1590.1 640.6L1590.6 641.9L1591.2 645.2L1591.8 645.7L1592.4 649.5L1592.9 650.5L1593.5 654.1L1594.1 656.1L1594.6 657.5L1595.2 659.2L1595.8 659.7L1596.4 662.4L1596.9 663.6L1597.5 664.5L1598.1 664.4L1598.6 666.2L1599.2 667.4L1599.8 668.4L1600.3 669.0L1600.9 669.8L1601.5 671.1L1602.1 673.6L1602.6 672.4L1603.2 673.8L1603.8 674.3L1604.3 674.8L1604.9 674.0L1605.5 674.6L1606.0 675.2L1606.6 675.0L1607.2 674.5L1607.8 676.1L1608.3 676.8L1608.9 677.3L1609.5 676.7L1610.0 676.7L1610.6 675.5L1611.2 675.1L1611.7 674.5L1612.3 673.0L1612.9 673.4L1613.5 672.4L1614.0 673.8L1614.6 673.2L1615.2 674.0L1615.7 675.7L1616.3 677.0L1616.9 677.0L1617.4 679.7L1618.0 680.8L1618.6 681.7L1619.2 683.2L1619.7 683.6L1620.3 683.3L1620.9 684.2L1621.4 682.6L1622.0 683.1L1622.6 681.2L1623.1 681.7L1623.7 680.6L1624.3 682.1L1624.9 682.3L1625.4 681.9L1626.0 680.9L1626.6 681.1L1627.1 681.4L1627.7 683.0L1628.3 681.8L1628.8 682.0L1629.4 682.1L1630.0 682.4L1630.6 681.3L1631.1 681.8L1631.7 682.9L1632.3 682.7L1632.8 682.5L1633.4 683.2L1634.0 683.9L1634.5 684.5L1635.1 684.3L1635.7 683.0L1636.3 684.3L1636.8 683.9L1637.4 684.4L1638.0 684.1L1638.5 683.2L1639.1 683.9L1639.7 683.2L1640.3 683.3L1640.8 683.0L1641.4 683.8L1642.0 683.5L1642.5 683.1L1643.1 681.3L1643.7 681.6L1644.2 679.8L1644.8 680.0L1645.4 679.5L1646.0 678.9L1646.5 677.9L1647.1 679.0L1647.7 678.9L1648.2 678.9L1648.8 677.7L1649.4 677.1L1649.9 676.8L1650.5 677.0L1651.1 676.7L1651.7 677.2L1652.2 678.0L1652.8 678.1L1653.4 678.4L1653.9 678.4L1654.5 678.3L1655.1 678.0L1655.6 677.3L1656.2 677.3L1656.8 679.1L1657.4 679.9L1657.9 680.2L1658.5 680.7L1659.1 680.1L1659.6 679.9L1660.2 680.1L1660.8 679.6L1661.3 678.8L1661.9 679.6L1662.5 681.0L1663.1 682.3L1663.6 681.8L1664.2 682.6L1664.8 682.6L1665.3 683.0L1665.9 682.6L1666.5 680.9L1667.0 681.6L1667.6 681.0L1668.2 678.9L1668.8 679.6L1669.3 678.3L1669.9 678.4L1670.5 677.6L1671.0 678.8L1671.6 679.3L1672.2 679.1L1672.7 679.8L1673.3 679.9L1673.9 681.7L1674.5 681.9L1675.0 683.0L1675.6 681.6L1676.2 682.3L1676.7 681.1L1677.3 681.2L1677.9 680.9L1678.4 680.4L1679.0 680.4L1679.6 682.1L1680.2 681.4L1680.7 682.1L1681.3 682.1L1681.9 680.3L1682.4 680.9L1683.0 680.8L1683.6 680.2L1684.2 680.8L1684.7 680.4L1685.3 679.9L1685.9 680.7L1686.4 680.2L1687.0 680.1L1687.6 680.3L1688.1 680.4L1688.7 680.0L1689.3 680.9L1689.9 679.1L1690.4 680.0L1691.0 679.1L1691.6 680.0L1692.1 679.4L1692.7 681.0L1693.3 681.7L1693.8 681.3L1694.4 681.1L1695.0 680.2L1695.6 680.5L1696.1 681.2L1696.7 680.4L1697.3 680.8L1697.8 680.9L1698.4 680.5L1699.0 680.0L1699.5 680.4L1700.1 681.6L1700.7 680.9L1701.3 680.2L1701.8 679.6L1702.4 679.9L1703.0 679.8L1703.5 681.0L1704.1 680.7L1704.7 681.6L1705.2 682.2L1705.8 682.1L1706.4 682.1L1707.0 681.8L1707.5 681.8L1708.1 682.0L1708.7 680.7L1709.2 681.2L1709.8 678.9L1710.4 678.7L1710.9 678.1L1711.5 678.6L1712.1 679.3L1712.7 680.9L1713.2 681.3L1713.8 681.1L1714.4 681.2L1714.9 682.6L1715.5 681.8L1716.1 680.5L1716.6 680.9L1717.2 680.1L1717.8 680.5L1718.4 680.9L1718.9 681.6L1719.5 680.8L1720.1 680.9L1720.6 681.6L1721.2 680.5L1721.8 679.5L1722.3 679.1L1722.9 678.3L1723.5 679.0L1724.1 678.4L1724.6 678.8L1725.2 678.6L1725.8 679.2L1726.3 680.3L1726.9 679.4L1727.5 679.4L1728.1 679.7L1728.6 679.7L1729.2 677.9L1729.8 678.7L1730.3 677.3L1730.9 676.3L1731.5 676.1L1732.0 676.0L1732.6 676.1L1733.2 677.3L1733.8 677.4L1734.3 678.3L1734.9 678.3L1735.5 678.1L1736.0 679.0L1736.6 680.3L1737.2 680.7L1737.7 680.8L1738.3 681.2L1738.9 680.8L1739.5 680.2L1740.0 679.5L1740.6 680.3L1741.2 680.2L1741.7 679.4L1742.3 680.5L1742.9 680.8L1743.4 680.9L1744.0 681.3L1744.6 682.0L1745.2 680.6L1745.7 680.6L1746.3 682.1L1746.9 681.6L1747.4 682.4L1748.0 681.2L1748.6 682.9L1749.1 683.0L1749.7 682.8L1750.3 682.6L1750.9 682.9L1751.4 682.5L1752.0 681.8L1752.6 682.4L1753.1 681.5L1753.7 680.7L1754.3 678.4L1754.8 678.5L1755.4 677.8L1756.0 677.5L1756.6 678.0L1757.1 678.0L1757.7 676.4L1758.3 677.3L1758.8 677.0L1759.4 676.1L1760.0 675.6L1760.5 674.1L1761.1 673.0L1761.7 673.6L1762.3 672.5L1762.8 672.0L1763.4 671.4L1764.0 669.7L1764.5 670.6L1765.1 669.9L1765.7 667.9L1766.2 667.7L1766.8 667.0L1767.4 665.0L1768.0 663.6L1768.5 662.8L1769.1 663.0L1769.7 663.7L1770.2 663.7L1770.8 663.8L1771.4 664.5L1771.9 665.8L1772.5 665.6L1773.1 665.3L1773.7 664.4L1774.2 663.0L1774.8 663.9L1775.4 662.6L1775.9 660.5L1776.5 658.3L1777.1 656.7L1777.7 654.6L1778.2 653.9L1778.8 651.5L1779.4 649.4L1779.9 647.6L1780.5 645.8L1781.1 643.5L1781.6 641.5L1782.2 641.0L1782.8 640.2L1783.4 638.9L1783.9 638.8L1784.5 636.3L1785.1 634.8L1785.6 631.5L1786.2 626.5L1786.8 622.7L1787.3 622.1L1787.9 620.3L1788.5 619.8L1789.1 618.5L1789.6 619.1L1790.2 619.4L1790.8 620.3L1791.3 619.7L1791.9 620.4L1792.5 620.5L1793.0 619.7L1793.6 619.9L1794.2 620.3L1794.8 620.1L1795.3 620.2L1795.9 620.2L1796.5 620.1L1797.0 619.0L1797.6 618.7L1798.2 617.7L1798.7 618.5L1799.3 617.8L1799.9 621.0L1800.5 623.7L1801.0 627.7L1801.6 632.3L1802.2 633.7L1802.7 636.5L1803.3 638.9L1803.9 642.2L1804.4 642.0L1805.0 643.4L1805.6 645.8L1806.2 645.9L1806.7 647.8L1807.3 648.5L1807.9 650.1L1808.4 652.9L1809.0 653.4L1809.6 656.4L1810.1 658.0L1810.7 658.9L1811.3 658.8L1811.9 661.5L1812.4 661.7L1813.0 664.4L1813.6 665.9L1814.1 667.9L1814.7 668.8L1815.3 669.1L1815.8 669.9L1816.4 671.6L1817.0 671.3L1817.6 672.2L1818.1 672.3L1818.7 671.6L1819.3 673.1L1819.8 672.5L1820.4 674.3L1821.0 673.6L1821.6 673.3L1822.1 674.5L1822.7 674.2L1823.3 674.7L1823.8 676.8L1824.4 677.3L1825.0 677.5L1825.5 678.4L1826.1 677.7L1826.7 677.7L1827.3 679.0L1827.8 679.2L1828.4 680.1L1829.0 680.3L1829.5 681.2L1830.1 681.2L1830.7 682.2L1831.2 680.5L1831.8 678.4L1832.4 678.6L1833.0 678.0L1833.5 677.0L1834.1 678.7L1834.7 678.8L1835.2 678.6L1835.8 680.4L1836.4 681.6L1836.9 681.8L1837.5 682.4L1838.1 684.0L1838.7 683.3L1839.2 683.9L1839.8 683.8L1840.4 684.3L1840.9 685.0L1841.5 683.5L1842.1 683.7L1842.6 684.9L1843.2 685.0L1843.8 683.9L1844.4 684.0L1844.9 684.2L1845.5 683.0L1846.1 683.8L1846.6 683.6L1847.2 683.5L1847.8 684.0L1848.3 684.4L1848.9 683.5L1849.5 683.2L1850.1 683.2L1850.6 684.4L1851.2 683.3L1851.8 683.1L1852.3 682.9L1852.9 683.7L1853.5 682.8L1854.0 682.7L1854.6 681.6L1855.2 681.6L1855.8 681.5L1856.3 680.5L1856.9 679.9L1857.5 679.0L1858.0 679.3L1858.6 679.4L1859.2 677.7L1859.7 678.2L1860.3 678.6L1860.9 678.5L1861.5 678.7L1862.0 678.1L1862.6 678.2L1863.2 677.3L1863.7 678.2L1864.3 679.4L1864.9 680.1L1865.5 680.3L1866.0 682.2L1866.6 682.0L1867.2 683.0L1867.7 681.6L1868.3 682.0L1868.9 681.6L1869.4 682.0L1870.0 681.1L1870.6 681.1L1871.2 680.1L1871.7 680.3L1872.3 680.0L1872.9 681.0L1873.4 681.1L1874.0 681.8L1874.6 682.6L1875.1 681.5L1875.7 681.5L1876.3 681.3L1876.9 679.8L1877.4 681.5L1878.0 681.1L1878.6 680.6L1879.1 680.6L1879.7 679.3L1880.3 678.0L1880.8 677.1L1881.4 677.2L1882.0 677.2L1882.6 677.5L1883.1 678.6L1883.7 678.3L1884.3 680.1L1884.8 680.5L1885.4 681.0L1886.0 681.7L1886.5 681.7L1887.1 680.4L1887.7 679.6L1888.3 679.6L1888.8 680.3L1889.4 680.3L1890.0 679.7L1890.5 679.4L1891.1 677.1L1891.7 677.5L1892.2 676.4L1892.8 675.8L1893.4 674.6L1894.0 674.8L1894.5 673.9L1895.1 674.8L1895.7 673.8L1896.2 675.4L1896.8 675.3L1897.4 675.4L1897.9 674.3L1898.5 674.1L1899.1 673.3L1899.7 672.7L1900.2 673.7L1900.8 673.7L1901.4 673.8L1901.9 672.5L1902.5 673.6L1903.1 674.3L1903.6 674.2L1904.2 675.1L1904.8 674.7L1905.4 676.1L1905.9 674.9L1906.5 674.0L1907.1 674.4L1907.6 674.4L1908.2 674.1L1908.8 673.4L1909.4 673.8L1909.9 675.1L1910.5 674.0L1911.1 674.6L1911.6 674.2L1912.2 674.2L1912.8 674.3L1913.3 673.3L1913.9 674.8L1914.5 673.9L1915.1 674.1L1915.6 675.0L1916.2 675.7L1916.8 676.2L1917.3 675.6L1917.9 675.5L1918.5 675.8L1919.0 676.1L1919.6 675.0L1920.2 674.3L1920.8 675.3L1921.3 674.6L1921.9 675.5L1922.5 675.5L1923.0 674.8L1923.6 676.7L1924.2 676.3L1924.7 675.6L1925.3 675.7L1925.9 674.7L1926.5 675.1L1927.0 673.7L1927.6 672.4L1928.2 672.3L1928.7 671.2L1929.3 671.7L1929.9 671.9L1930.4 672.4L1931.0 672.8L1931.6 672.4L1932.2 671.9L1932.7 671.2L1933.3 671.3L1933.9 671.0L1934.4 670.1L1935.0 670.8L1935.6 671.3L1936.1 671.3L1936.7 672.4L1937.3 671.3L1937.9 671.2L1938.4 671.0L1939.0 671.0L1939.6 671.5L1940.1 671.9L1940.7 671.2L1941.3 671.7L1941.8 671.2L1942.4 671.7L1943.0 671.4L1943.6 672.5L1944.1 671.8L1944.7 671.0L1945.3 671.6L1945.8 670.4L1946.4 670.5L1947.0 670.2L1947.5 670.0L1948.1 669.8L1948.7 669.1L1949.3 668.1L1949.8 667.8L1950.4 667.2L1951.0 666.1L1951.5 665.3L1952.1 663.7L1952.7 664.4L1953.2 662.0L1953.8 661.1L1954.4 661.1L1955.0 660.0L1955.5 659.6L1956.1 660.1L1956.7 660.2L1957.2 660.2L1957.8 659.1L1958.4 660.2L1959.0 658.7L1959.5 659.3L1960.1 659.1L1960.7 656.8L1961.2 656.4L1961.8 655.2L1962.4 653.9L1962.9 653.7L1963.5 652.6L1964.1 650.7L1964.7 651.2L1965.2 649.6L1965.8 649.4L1966.4 650.2L1966.9 649.5L1967.5 649.5L1968.1 648.2L1968.6 649.1L1969.2 646.6L1969.8 646.5L1970.4 645.8L1970.9 647.7L1971.5 648.5L1972.1 649.0L1972.6 652.1L1973.2 652.3L1973.8 653.9L1974.3 655.0L1974.9 655.5L1975.5 656.1L1976.1 657.6L1976.6 658.7L1977.2 659.7L1977.8 659.5L1978.3 660.2L1978.9 661.4L1979.5 662.3L1980.0 662.3L1980.6 662.3L1981.2 663.0L1981.8 662.7L1982.3 663.3L1982.9 663.8L1983.5 664.1L1984.0 664.0L1984.6 663.2L1985.2 662.8L1985.7 662.5L1986.3 662.2L1986.9 663.1L1987.5 661.2L1988.0 662.6L1988.6 661.9L1989.2 660.4L1989.7 659.6L1990.3 660.6L1990.9 659.4L1991.4 658.5L1992.0 659.8L1992.6 659.1L1993.2 660.3L1993.7 662.4L1994.3 662.2L1994.9 662.8L1995.4 661.7L1996.0 661.9L1996.6 660.7L1997.1 660.2L1997.7 659.5L1998.3 657.1L1998.9 658.1L1999.4 657.5L2000.0 658.5L2000.6 658.7L2001.1 658.7L2001.7 658.8L2002.3 658.5"/>
</g>
<path id="c-cufe" fill="#009300" stroke="none" shape-rendering="crispEdges" d="M139.0 431.5L139.5 431.0L140.0 431.0L140.5 431.3L141.0 431.8L141.5 432.3L142.0 432.7L142.5 432.9L143.0 433.1L143.5 432.7L144.0 432.1L144.5 431.5L145.0 431.0L145.5 430.7L146.0 430.2L146.5 429.5L147.0 428.7L147.5 427.9L148.0 427.3L148.5 426.9L149.0 426.5L149.5 425.9L150.0 425.0L150.5 424.2L151.0 423.4L151.5 422.9L152.0 422.6L152.5 422.6L153.0 422.8L153.5 422.8L154.0 422.8L154.5 422.8L155.0 423.1L155.5 423.5L156.0 423.9L156.5 424.0L157.0 423.7L157.5 423.2L158.0 422.7L158.5 422.2L159.0 421.9L159.5 421.5L160.0 421.0L160.5 421.6L161.0 422.3L161.5 423.2L162.0 424.4L162.5 425.5L163.0 426.5L163.5 427.5L164.0 428.4L164.5 429.4L165.0 430.6L165.5 427.2L166.0 423.9L166.5 420.4L167.0 418.2L167.5 418.3L168.0 418.5L168.5 418.8L169.0 419.0L169.5 419.0L170.0 419.0L170.5 419.1L171.0 419.1L171.5 419.1L172.0 419.1L172.5 419.5L173.0 420.0L173.5 420.5L174.0 423.3L174.5 429.6L175.0 435.6L175.5 434.2L176.0 433.1L176.5 432.2L177.0 431.4L177.5 430.8L178.0 430.1L178.5 429.6L179.0 428.9L179.5 428.1L180.0 427.4L180.5 427.6L181.0 428.0L181.5 428.6L182.0 428.9L182.5 428.8L183.0 428.6L183.5 428.3L184.0 428.1L184.5 427.9L185.0 427.9L185.5 428.0L186.0 428.5L186.5 429.1L187.0 429.8L187.5 430.0L188.0 429.6L188.5 428.6L189.0 427.3L189.5 426.4L190.0 425.9L190.5 426.7L191.0 427.6L191.5 428.5L192.0 429.2L192.5 429.7L193.0 430.4L193.5 431.5L194.0 423.4L194.5 420.7L195.0 421.3L195.5 421.6L196.0 421.7L196.5 421.8L197.0 421.8L197.5 421.4L198.0 420.9L198.5 420.2L199.0 419.9L199.5 419.9L200.0 420.1L200.5 420.1L201.0 421.9L201.5 426.8L202.0 431.7L202.5 431.9L203.0 432.4L203.5 432.9L204.0 433.1L204.5 432.8L205.0 432.3L205.5 432.0L206.0 432.2L206.5 432.2L207.0 432.3L207.5 432.1L208.0 431.6L208.5 430.7L209.0 429.8L209.5 429.0L210.0 428.3L210.5 427.8L211.0 427.5L211.5 427.2L212.0 427.0L212.5 427.3L213.0 427.7L213.5 428.0L214.0 428.3L214.5 428.5L215.0 428.4L215.5 428.1L216.0 427.7L216.5 427.4L217.0 427.5L217.5 427.9L218.0 428.4L218.5 428.7L219.0 428.8L219.5 428.5L220.0 428.1L220.5 427.8L221.0 427.6L221.5 427.7L222.0 428.2L222.5 428.6L223.0 428.7L223.5 428.4L224.0 427.7L224.5 426.9L225.0 426.4L225.5 426.1L226.0 426.1L226.5 426.2L227.0 426.4L227.5 426.4L228.0 426.1L228.5 425.6L229.0 424.9L229.5 424.4L230.0 424.4L230.5 424.8L231.0 425.5L231.5 426.4L232.0 427.0L232.5 427.4L233.0 427.3L233.5 426.8L234.0 426.1L234.5 425.4L235.0 424.9L235.5 424.9L236.0 425.2L236.5 425.6L237.0 426.0L237.5 426.2L238.0 426.0L238.5 425.8L239.0 425.6L239.5 425.5L240.0 425.5L240.5 425.4L241.0 425.2L241.5 424.9L242.0 424.5L242.5 424.2L243.0 424.2L243.5 424.5L244.0 425.1L244.5 425.6L245.0 425.8L245.5 425.6L246.0 425.4L246.5 425.2L247.0 425.1L247.5 425.0L248.0 424.8L248.5 424.7L249.0 424.9L249.5 425.2L250.0 425.5L250.5 425.7L251.0 425.9L251.5 425.8L252.0 425.8L252.5 425.8L253.0 426.1L253.5 426.4L254.0 426.6L254.5 426.6L255.0 426.5L255.5 426.6L256.0 427.0L256.5 427.4L257.0 427.6L257.5 427.7L258.0 427.7L258.5 427.8L259.0 427.8L259.5 427.7L260.0 427.4L260.5 427.1L261.0 426.8L261.5 426.7L262.0 426.5L262.5 426.1L263.0 425.8L263.5 425.6L264.0 425.8L264.5 426.4L265.0 427.0L265.5 427.5L266.0 427.6L266.5 427.4L267.0 427.1L267.5 426.9L268.0 426.8L268.5 426.7L269.0 426.7L269.5 426.6L270.0 426.5L270.5 426.5L271.0 426.6L271.5 426.5L272.0 426.2L272.5 425.8L273.0 425.4L273.5 425.2L274.0 425.2L274.5 425.5L275.0 425.8L275.5 426.0L276.0 426.0L276.5 425.7L277.0 425.2L277.5 424.9L278.0 424.8L278.5 425.2L279.0 425.8L279.5 426.3L280.0 426.5L280.5 426.3L281.0 425.6L281.5 424.8L282.0 424.0L282.5 423.6L283.0 423.5L283.5 423.4L284.0 423.5L284.5 423.5L285.0 423.6L285.5 424.2L286.0 424.9L286.5 425.9L287.0 426.9L287.5 427.4L288.0 427.5L288.5 427.2L289.0 426.9L289.5 426.9L290.0 427.4L290.5 428.1L291.0 428.6L291.5 428.8L292.0 428.7L292.5 428.4L293.0 428.0L293.5 427.5L294.0 427.3L294.5 427.2L295.0 427.6L295.5 428.3L296.0 429.4L296.5 430.6L297.0 431.7L297.5 432.4L298.0 432.5L298.5 432.1L299.0 431.6L299.5 431.1L300.0 430.6L300.5 430.0L301.0 429.6L301.5 429.5L302.0 429.9L302.5 430.4L303.0 430.9L303.5 431.1L304.0 431.3L304.5 431.5L305.0 431.9L305.5 432.1L306.0 432.3L306.5 432.3L307.0 432.2L307.5 432.1L308.0 432.1L308.5 432.3L309.0 432.6L309.5 432.8L310.0 432.7L310.5 432.3L311.0 431.8L311.5 431.5L312.0 431.5L312.5 431.5L313.0 431.4L313.5 431.0L314.0 430.3L314.5 429.7L315.0 429.3L315.5 427.9L316.0 426.7L316.5 425.4L317.0 423.9L317.5 424.1L318.0 424.4L318.5 424.8L319.0 425.2L319.5 425.7L320.0 426.1L320.5 426.5L321.0 426.8L321.5 426.8L322.0 426.7L322.5 426.4L323.0 426.3L323.5 427.2L324.0 428.4L324.5 429.7L325.0 430.9L325.5 431.9L326.0 432.6L326.5 431.6L327.0 430.6L327.5 429.8L328.0 429.5L328.5 429.3L329.0 429.0L329.5 428.5L330.0 427.9L330.5 428.4L331.0 429.0L331.5 429.6L332.0 430.1L332.5 430.6L333.0 431.3L333.5 432.3L334.0 433.4L334.5 434.6L335.0 435.7L335.5 434.4L336.0 432.9L336.5 431.2L337.0 429.3L337.5 427.2L338.0 425.0L338.5 423.9L339.0 422.9L339.5 422.8L340.0 422.7L340.5 422.4L341.0 422.2L341.5 422.1L342.0 422.1L342.5 422.2L343.0 422.3L343.5 422.2L344.0 422.2L344.5 422.2L345.0 422.3L345.5 422.6L346.0 422.6L346.5 422.5L347.0 422.2L347.5 421.7L348.0 421.1L348.5 420.5L349.0 420.0L349.5 421.6L350.0 423.4L350.5 425.5L351.0 427.6L351.5 429.5L352.0 431.2L352.5 428.9L353.0 426.6L353.5 424.3L354.0 422.2L354.5 422.4L355.0 422.6L355.5 422.9L356.0 423.1L356.5 423.4L357.0 423.8L357.5 424.1L358.0 424.2L358.5 424.1L359.0 424.0L359.5 424.2L360.0 424.6L360.5 425.2L361.0 425.6L361.5 426.6L362.0 427.4L362.5 428.1L363.0 428.9L363.5 429.8L364.0 430.8L364.5 430.0L365.0 429.4L365.5 429.1L366.0 429.0L366.5 428.7L367.0 427.9L367.5 426.5L368.0 424.8L368.5 423.3L369.0 422.3L369.5 422.3L370.0 422.3L370.5 422.3L371.0 422.4L371.5 422.5L372.0 422.7L372.5 423.0L373.0 423.1L373.5 423.0L374.0 422.7L374.5 422.6L375.0 422.7L375.5 422.9L376.0 423.2L376.5 423.6L377.0 424.3L377.5 425.2L378.0 426.2L378.5 427.2L379.0 427.9L379.5 428.3L380.0 428.5L380.5 428.2L381.0 427.7L381.5 427.2L382.0 426.8L382.5 426.8L383.0 427.0L383.5 427.3L384.0 427.4L384.5 427.5L385.0 427.5L385.5 427.3L386.0 426.9L386.5 426.5L387.0 426.2L387.5 426.1L388.0 426.3L388.5 426.6L389.0 426.9L389.5 427.0L390.0 426.8L390.5 426.2L391.0 425.5L391.5 424.8L392.0 424.3L392.5 424.0L393.0 423.9L393.5 423.8L394.0 423.7L394.5 423.6L395.0 423.7L395.5 423.9L396.0 423.9L396.5 424.0L397.0 423.6L397.5 423.1L398.0 422.7L398.5 422.5L399.0 422.5L399.5 423.3L400.0 424.2L400.5 425.2L401.0 426.3L401.5 427.2L402.0 427.8L402.5 428.2L403.0 428.5L403.5 428.9L404.0 429.5L404.5 430.2L405.0 430.8L405.5 430.5L406.0 430.1L406.5 429.5L407.0 429.0L407.5 428.4L408.0 427.8L408.5 427.3L409.0 427.1L409.5 427.2L410.0 427.5L410.5 427.8L411.0 427.8L411.5 427.5L412.0 427.2L412.5 426.7L413.0 425.9L413.5 424.6L414.0 423.3L414.5 422.6L415.0 422.6L415.5 423.1L416.0 423.7L416.5 424.0L417.0 424.1L417.5 424.1L418.0 424.2L418.5 424.2L419.0 424.1L419.5 423.8L420.0 423.6L420.5 423.6L421.0 423.7L421.5 424.1L422.0 424.1L422.5 423.7L423.0 423.4L423.5 423.8L424.0 424.5L424.5 425.2L425.0 425.6L425.5 425.8L426.0 425.9L426.5 426.2L427.0 426.8L427.5 427.4L428.0 428.0L428.5 427.6L429.0 426.9L429.5 426.0L430.0 424.9L430.5 424.6L431.0 424.4L431.5 424.5L432.0 424.5L432.5 424.3L433.0 423.8L433.5 423.4L434.0 423.3L434.5 423.4L435.0 423.7L435.5 424.7L436.0 425.6L436.5 426.1L437.0 426.6L437.5 427.2L438.0 428.0L438.5 429.1L439.0 430.4L439.5 431.9L440.0 433.3L440.5 433.4L441.0 433.1L441.5 432.4L442.0 431.2L442.5 429.8L443.0 428.4L443.5 427.2L444.0 426.7L444.5 426.6L445.0 426.7L445.5 427.1L446.0 427.5L446.5 427.7L447.0 427.8L447.5 427.9L448.0 428.1L448.5 428.4L449.0 428.7L449.5 428.8L450.0 428.8L450.5 428.6L451.0 428.3L451.5 428.1L452.0 427.8L452.5 428.2L453.0 428.5L453.5 428.9L454.0 429.5L454.5 430.3L455.0 431.2L455.5 431.3L456.0 431.2L456.5 430.7L457.0 430.2L457.5 429.7L458.0 429.4L458.5 429.4L459.0 429.6L459.5 430.0L460.0 430.5L460.5 431.3L461.0 432.0L461.5 432.6L462.0 432.7L462.5 432.2L463.0 431.2L463.5 430.1L464.0 429.2L464.5 428.9L465.0 429.2L465.5 430.0L466.0 431.0L466.5 431.6L467.0 431.7L467.5 431.4L468.0 431.2L468.5 431.2L469.0 431.7L469.5 432.4L470.0 433.3L470.5 433.9L471.0 433.7L471.5 433.0L472.0 432.1L472.5 431.3L473.0 430.5L473.5 429.5L474.0 428.8L474.5 428.5L475.0 428.5L475.5 428.8L476.0 429.2L476.5 429.5L477.0 429.9L477.5 429.0L478.0 428.4L478.5 427.8L479.0 427.0L479.5 427.0L480.0 427.0L480.5 426.9L481.0 426.7L481.5 426.3L482.0 425.9L482.5 425.7L483.0 425.8L483.5 426.3L484.0 426.7L484.5 428.0L485.0 428.9L485.5 429.7L486.0 429.6L486.5 429.4L487.0 429.3L487.5 429.2L488.0 429.4L488.5 429.7L489.0 429.9L489.5 430.0L490.0 429.9L490.5 429.8L491.0 430.1L491.5 430.6L492.0 431.0L492.5 431.3L493.0 431.2L493.5 431.1L494.0 430.9L494.5 430.8L495.0 430.7L495.5 430.6L496.0 430.5L496.5 430.3L497.0 430.3L497.5 430.4L498.0 430.5L498.5 430.8L499.0 430.9L499.5 430.8L500.0 430.4L500.5 430.0L501.0 429.8L501.5 429.8L502.0 429.8L502.5 429.8L503.0 429.8L503.5 429.8L504.0 429.7L504.5 429.8L505.0 429.9L505.5 430.0L506.0 429.9L506.5 429.5L507.0 429.0L507.5 428.5L508.0 428.4L508.5 428.7L509.0 429.3L509.5 430.2L510.0 431.2L510.5 431.8L511.0 432.0L511.5 431.7L512.0 431.1L512.5 430.5L513.0 430.2L513.5 430.5L514.0 431.2L514.5 431.9L515.0 432.2L515.5 432.1L516.0 431.5L516.5 430.8L517.0 430.1L517.5 429.8L518.0 430.0L518.5 430.4L519.0 430.5L519.5 430.3L520.0 429.8L520.5 429.3L521.0 429.1L521.5 429.3L522.0 429.8L522.5 430.1L523.0 430.2L523.5 429.9L524.0 429.7L524.5 429.6L525.0 429.8L525.5 429.9L526.0 430.0L526.5 430.0L527.0 430.0L527.5 430.1L528.0 430.0L528.5 429.7L529.0 429.2L529.5 428.4L530.0 427.3L530.5 426.3L531.0 425.8L531.5 425.9L532.0 426.7L532.5 427.7L533.0 426.6L533.5 422.2L534.0 420.5L534.5 420.6L535.0 420.8L535.5 421.0L536.0 421.3L536.5 421.4L537.0 421.4L537.5 421.1L538.0 420.6L538.5 419.9L539.0 419.2L539.5 418.8L540.0 421.4L540.5 424.3L541.0 424.9L541.5 425.6L542.0 426.6L542.5 427.7L543.0 428.7L543.5 429.5L544.0 429.8L544.5 429.9L545.0 429.5L545.5 429.0L546.0 428.5L546.5 428.0L547.0 427.6L547.5 427.2L548.0 427.1L548.5 427.3L549.0 427.9L549.5 428.6L550.0 428.8L550.5 428.2L551.0 427.3L551.5 426.4L552.0 425.9L552.5 425.8L553.0 426.0L553.5 426.9L554.0 427.8L554.5 428.9L555.0 430.0L555.5 430.9L556.0 431.3L556.5 431.3L557.0 430.9L557.5 430.6L558.0 430.3L558.5 429.5L559.0 428.9L559.5 428.3L560.0 428.0L560.5 427.7L561.0 427.4L561.5 427.1L562.0 426.9L562.5 426.8L563.0 426.6L563.5 427.1L564.0 427.5L564.5 427.8L565.0 427.9L565.5 427.6L566.0 427.3L566.5 427.4L567.0 427.9L567.5 428.7L568.0 429.2L568.5 428.6L569.0 427.4L569.5 426.3L570.0 425.3L570.5 424.8L571.0 424.2L571.5 423.5L572.0 422.9L572.5 422.3L573.0 421.8L573.5 421.3L574.0 420.9L574.5 421.0L575.0 421.1L575.5 420.9L576.0 420.6L576.5 420.3L577.0 420.3L577.5 420.5L578.0 420.8L578.5 421.3L579.0 422.0L579.5 424.8L580.0 427.4L580.5 427.7L581.0 427.9L581.5 428.1L582.0 428.1L582.5 428.0L583.0 427.7L583.5 427.2L584.0 426.4L584.5 425.6L585.0 425.0L585.5 424.8L586.0 424.9L586.5 424.3L587.0 420.0L587.5 420.3L588.0 420.5L588.5 420.5L589.0 420.5L589.5 420.6L590.0 421.0L590.5 421.5L591.0 421.9L591.5 422.1L592.0 421.8L592.5 421.0L593.0 420.4L593.5 421.4L594.0 420.5L594.5 420.3L595.0 419.8L595.5 418.4L596.0 416.8L596.5 414.8L597.0 413.8L597.5 413.6L598.0 413.5L598.5 413.6L599.0 413.9L599.5 414.3L600.0 414.8L600.5 415.4L601.0 415.9L601.5 416.4L602.0 416.6L602.5 416.7L603.0 417.8L603.5 418.9L604.0 419.1L604.5 418.4L605.0 417.9L605.5 417.5L606.0 417.4L606.5 417.3L607.0 417.1L607.5 417.0L608.0 417.0L608.5 417.0L609.0 416.8L609.5 416.5L610.0 416.0L610.5 415.7L611.0 415.4L611.5 414.7L612.0 414.1L612.5 413.7L613.0 413.4L613.5 413.2L614.0 413.0L614.5 412.4L615.0 411.5L615.5 410.6L616.0 409.7L616.5 409.0L617.0 408.1L617.5 407.3L618.0 406.5L618.5 405.6L619.0 404.5L619.5 403.4L620.0 401.2L620.5 394.6L621.0 388.3L621.5 385.1L622.0 383.9L622.5 382.6L623.0 381.2L623.5 376.9L624.0 372.0L624.5 366.9L625.0 360.3L625.5 353.4L626.0 346.1L626.5 337.6L627.0 327.3L627.5 317.4L628.0 310.6L628.5 304.5L629.0 298.6L629.5 292.6L630.0 288.3L630.5 283.7L631.0 278.8L631.5 266.8L632.0 252.9L632.5 240.1L633.0 228.1L633.5 220.0L634.0 212.0L634.5 200.6L635.0 189.4L635.5 179.0L636.0 169.3L636.5 159.4L637.0 149.3L637.5 141.5L638.0 134.2L638.5 128.7L639.0 123.4L639.5 100.8L640.0 100.9L640.5 100.7L641.0 100.2L641.5 99.8L642.0 99.6L642.5 99.6L643.0 99.8L643.5 100.0L644.0 100.2L644.5 100.2L645.0 100.2L645.5 100.3L646.0 100.1L646.5 99.8L647.0 99.2L647.5 98.6L648.0 98.2L648.5 98.4L649.0 99.0L649.5 99.6L650.0 100.2L650.5 128.7L651.0 134.2L651.5 137.0L652.0 137.8L652.5 138.2L653.0 138.5L653.5 143.7L654.0 168.4L654.5 184.2L655.0 199.9L655.5 215.1L656.0 230.2L656.5 235.3L657.0 241.1L657.5 247.0L658.0 252.6L658.5 262.4L659.0 274.8L659.5 288.0L660.0 299.2L660.5 306.6L661.0 314.2L661.5 321.8L662.0 326.9L662.5 330.1L663.0 333.0L663.5 339.5L664.0 345.8L664.5 349.6L665.0 350.0L665.5 350.5L666.0 351.2L666.5 374.8L667.0 375.7L667.5 376.8L668.0 377.8L668.5 378.3L669.0 378.1L669.5 380.2L670.0 392.7L670.5 394.9L671.0 394.8L671.5 394.9L672.0 395.3L672.5 395.9L673.0 396.5L673.5 397.3L674.0 397.9L674.5 398.4L675.0 398.7L675.5 398.7L676.0 400.0L676.5 407.1L677.0 414.2L677.5 417.3L678.0 417.8L678.5 418.4L679.0 419.1L679.5 420.1L680.0 421.1L680.5 422.1L681.0 422.9L681.5 423.5L682.0 423.5L682.5 423.1L683.0 422.7L683.5 422.5L684.0 422.3L684.5 422.1L685.0 421.8L685.5 421.8L686.0 422.1L686.5 422.7L687.0 423.3L687.5 423.8L688.0 424.3L688.5 425.2L689.0 426.2L689.5 427.3L690.0 428.2L690.5 428.8L691.0 429.2L691.5 429.2L692.0 429.2L692.5 429.6L693.0 430.4L693.5 431.5L694.0 432.1L694.5 432.4L695.0 432.1L695.5 431.4L696.0 430.6L696.5 430.0L697.0 429.6L697.5 428.6L698.0 427.5L698.5 426.2L699.0 425.2L699.5 424.4L700.0 423.9L700.5 423.7L701.0 423.5L701.5 423.9L702.0 424.1L702.5 424.0L703.0 424.0L703.5 424.2L704.0 424.9L704.5 425.7L705.0 426.1L705.5 425.9L706.0 425.3L706.5 424.8L707.0 424.7L707.5 424.9L708.0 425.4L708.5 425.9L709.0 426.5L709.5 427.0L710.0 427.5L710.5 427.9L711.0 428.2L711.5 428.7L712.0 429.6L712.5 430.9L713.0 432.3L713.5 433.5L714.0 433.4L714.5 433.0L715.0 432.5L715.5 432.0L716.0 431.7L716.5 431.6L717.0 431.8L717.5 432.1L718.0 432.2L718.5 432.0L719.0 431.5L719.5 430.9L720.0 430.4L720.5 430.2L721.0 430.0L721.5 429.8L722.0 429.5L722.5 429.2L723.0 428.9L723.5 428.4L724.0 427.9L724.5 427.4L725.0 427.1L725.5 427.5L726.0 428.0L726.5 428.3L727.0 428.5L727.5 428.4L728.0 428.2L728.5 427.9L729.0 427.7L729.5 428.0L730.0 428.7L730.5 429.8L731.0 431.1L731.5 432.4L732.0 433.4L732.5 434.1L733.0 434.5L733.5 434.6L734.0 434.2L734.5 433.6L735.0 432.9L735.5 432.4L736.0 432.1L736.5 431.8L737.0 431.3L737.5 430.8L738.0 430.1L738.5 429.3L739.0 428.6L739.5 427.9L740.0 427.5L740.5 427.3L741.0 427.2L741.5 427.2L742.0 426.9L742.5 426.5L743.0 425.9L743.5 425.3L744.0 425.0L744.5 425.0L745.0 425.1L745.5 425.2L746.0 425.0L746.5 424.6L747.0 424.3L747.5 424.2L748.0 424.2L748.5 424.0L749.0 423.7L749.5 423.4L750.0 423.1L750.5 422.9L751.0 422.8L751.5 422.9L752.0 423.2L752.5 423.7L753.0 424.2L753.5 424.7L754.0 425.0L754.5 425.2L755.0 425.3L755.5 425.6L756.0 425.9L756.5 425.9L757.0 425.4L757.5 424.7L758.0 424.0L758.5 423.6L759.0 423.6L759.5 423.8L760.0 424.1L760.5 424.2L761.0 423.9L761.5 423.4L762.0 422.9L762.5 422.4L763.0 422.4L763.5 422.6L764.0 422.8L764.5 422.8L765.0 422.5L765.5 422.0L766.0 421.5L766.5 421.2L767.0 421.2L767.5 421.7L768.0 422.6L768.5 423.6L769.0 424.3L769.5 424.6L770.0 424.6L770.5 424.6L771.0 424.7L771.5 425.2L772.0 425.9L772.5 426.7L773.0 427.7L773.5 428.6L774.0 429.2L774.5 428.6L775.0 427.5L775.5 426.1L776.0 424.7L776.5 423.6L777.0 422.9L777.5 422.6L778.0 422.3L778.5 422.1L779.0 421.7L779.5 422.2L780.0 422.8L780.5 423.4L781.0 423.8L781.5 424.0L782.0 424.3L782.5 425.0L783.0 426.1L783.5 427.3L784.0 428.2L784.5 428.1L785.0 427.7L785.5 427.1L786.0 426.4L786.5 425.8L787.0 425.4L787.5 425.2L788.0 425.2L788.5 425.4L789.0 425.7L789.5 425.8L790.0 425.8L790.5 425.7L791.0 425.7L791.5 426.7L792.0 427.7L792.5 428.6L793.0 429.7L793.5 430.9L794.0 432.2L794.5 432.2L795.0 431.9L795.5 431.3L796.0 430.5L796.5 429.9L797.0 429.6L797.5 429.4L798.0 429.1L798.5 428.9L799.0 428.8L799.5 428.9L800.0 429.2L800.5 429.4L801.0 429.5L801.5 429.6L802.0 429.6L802.5 429.6L803.0 429.4L803.5 429.0L804.0 428.7L804.5 428.5L805.0 428.5L805.5 428.7L806.0 428.9L806.5 428.9L807.0 428.7L807.5 428.3L808.0 427.9L808.5 427.7L809.0 427.5L809.5 427.3L810.0 426.9L810.5 426.4L811.0 426.0L811.5 425.8L812.0 425.9L812.5 426.1L813.0 426.2L813.5 426.3L814.0 426.4L814.5 426.5L815.0 426.5L815.5 426.3L816.0 426.1L816.5 425.8L817.0 425.5L817.5 425.3L818.0 425.1L818.5 425.1L819.0 425.1L819.5 425.1L820.0 425.1L820.5 425.1L821.0 425.3L821.5 425.7L822.0 426.3L822.5 426.8L823.0 427.0L823.5 426.8L824.0 426.4L824.5 426.0L825.0 425.8L825.5 426.0L826.0 426.4L826.5 428.1L827.0 429.8L827.5 431.4L828.0 432.9L828.5 434.2L829.0 435.1L829.5 430.8L830.0 426.3L830.5 425.8L831.0 425.4L831.5 425.1L832.0 425.0L832.5 425.0L833.0 425.1L833.5 425.2L834.0 425.1L834.5 425.0L835.0 424.7L835.5 424.6L836.0 424.7L836.5 425.2L837.0 426.0L837.5 426.9L838.0 427.9L838.5 428.5L839.0 428.8L839.5 429.0L840.0 429.2L840.5 429.6L841.0 430.1L841.5 430.4L842.0 430.6L842.5 430.6L843.0 430.7L843.5 430.3L844.0 429.9L844.5 429.5L845.0 429.3L845.5 429.5L846.0 429.8L846.5 430.1L847.0 430.2L847.5 430.0L848.0 429.6L848.5 429.4L849.0 429.3L849.5 429.3L850.0 429.4L850.5 429.4L851.0 429.0L851.5 428.2L852.0 427.4L852.5 426.6L853.0 425.9L853.5 425.4L854.0 425.2L854.5 425.2L855.0 425.7L855.5 426.5L856.0 427.3L856.5 427.9L857.0 428.2L857.5 428.3L858.0 428.2L858.5 427.8L859.0 427.1L859.5 426.4L860.0 425.8L860.5 425.8L861.0 426.0L861.5 426.4L862.0 426.9L862.5 427.4L863.0 427.8L863.5 427.8L864.0 427.5L864.5 427.1L865.0 427.0L865.5 427.2L866.0 427.8L866.5 428.3L867.0 428.4L867.5 428.2L868.0 427.8L868.5 427.3L869.0 425.9L869.5 424.8L870.0 424.1L870.5 423.9L871.0 423.9L871.5 423.7L872.0 423.2L872.5 422.6L873.0 422.0L873.5 421.6L874.0 421.6L874.5 421.8L875.0 421.9L875.5 421.8L876.0 421.4L876.5 421.0L877.0 420.8L877.5 420.7L878.0 420.7L878.5 420.6L879.0 420.3L879.5 419.8L880.0 419.1L880.5 418.6L881.0 418.2L881.5 418.1L882.0 417.9L882.5 417.8L883.0 417.7L883.5 417.7L884.0 417.7L884.5 417.7L885.0 417.7L885.5 418.9L886.0 425.6L886.5 425.8L887.0 426.4L887.5 427.3L888.0 428.2L888.5 428.8L889.0 429.1L889.5 429.3L890.0 429.7L890.5 430.3L891.0 431.0L891.5 431.8L892.0 432.4L892.5 432.3L893.0 432.0L893.5 431.7L894.0 431.6L894.5 431.5L895.0 431.2L895.5 430.8L896.0 430.2L896.5 429.7L897.0 429.3L897.5 429.2L898.0 429.3L898.5 429.6L899.0 429.8L899.5 429.9L900.0 429.8L900.5 429.3L901.0 428.8L901.5 428.5L902.0 428.5L902.5 428.7L903.0 428.8L903.5 428.4L904.0 427.6L904.5 426.9L905.0 426.4L905.5 426.3L906.0 426.9L906.5 427.8L907.0 428.9L907.5 430.0L908.0 430.8L908.5 431.1L909.0 430.9L909.5 430.5L910.0 430.2L910.5 430.3L911.0 430.7L911.5 431.1L912.0 431.3L912.5 431.2L913.0 430.6L913.5 430.3L914.0 430.2L914.5 430.2L915.0 430.1L915.5 430.0L916.0 429.8L916.5 429.8L917.0 429.9L917.5 429.8L918.0 429.2L918.5 428.1L919.0 426.6L919.5 425.6L920.0 425.1L920.5 425.2L921.0 425.7L921.5 426.3L922.0 426.6L922.5 426.3L923.0 410.7L923.5 410.0L924.0 409.4L924.5 409.2L925.0 409.2L925.5 409.5L926.0 409.7L926.5 409.8L927.0 409.7L927.5 409.7L928.0 409.8L928.5 410.5L929.0 413.6L929.5 414.0L930.0 414.7L930.5 415.3L931.0 415.5L931.5 415.3L932.0 414.6L932.5 414.1L933.0 405.9L933.5 398.0L934.0 398.1L934.5 397.7L935.0 397.0L935.5 396.4L936.0 396.2L936.5 396.3L937.0 396.4L937.5 396.4L938.0 396.1L938.5 395.6L939.0 395.2L939.5 395.1L940.0 395.2L940.5 395.5L941.0 395.8L941.5 396.2L942.0 396.6L942.5 396.9L943.0 397.1L943.5 397.4L944.0 397.9L944.5 398.4L945.0 398.7L945.5 398.7L946.0 398.3L946.5 364.4L947.0 364.1L947.5 364.2L948.0 364.3L948.5 364.6L949.0 364.8L949.5 364.9L950.0 364.7L950.5 364.2L951.0 363.6L951.5 363.0L952.0 362.4L952.5 361.7L953.0 361.1L953.5 360.6L954.0 360.5L954.5 360.8L955.0 361.3L955.5 361.7L956.0 361.7L956.5 361.3L957.0 360.9L957.5 360.7L958.0 361.0L958.5 361.5L959.0 361.8L959.5 361.7L960.0 361.2L960.5 360.7L961.0 360.7L961.5 361.0L962.0 361.5L962.5 362.1L963.0 386.9L963.5 388.4L964.0 390.1L964.5 391.9L965.0 393.4L965.5 394.7L966.0 395.8L966.5 396.8L967.0 397.7L967.5 398.5L968.0 398.9L968.5 399.7L969.0 400.4L969.5 401.3L970.0 401.7L970.5 402.3L971.0 403.2L971.5 404.0L972.0 404.4L972.5 404.4L973.0 404.2L973.5 404.0L974.0 403.6L974.5 404.6L975.0 405.8L975.5 407.5L976.0 409.6L976.5 411.8L977.0 413.7L977.5 415.3L978.0 417.1L978.5 417.8L979.0 418.7L979.5 419.6L980.0 420.0L980.5 420.0L981.0 419.8L981.5 419.6L982.0 419.4L982.5 419.3L983.0 419.0L983.5 420.5L984.0 422.1L984.5 423.9L985.0 425.7L985.5 427.4L986.0 429.0L986.5 430.3L987.0 429.3L987.5 428.2L988.0 427.2L988.5 426.5L989.0 426.1L989.5 425.9L990.0 425.8L990.5 426.1L991.0 426.5L991.5 426.8L992.0 427.1L992.5 427.3L993.0 427.4L993.5 428.4L994.0 430.8L994.5 433.4L995.0 436.0L995.5 435.8L996.0 435.8L996.5 435.7L997.0 435.6L997.5 435.4L998.0 435.1L998.5 434.5L999.0 433.9L999.5 433.3L1000.0 432.9L1000.5 434.5L1001.0 436.2L1001.5 437.9L1002.0 439.5L1002.5 440.6L1003.0 441.5L1003.5 442.0L1004.0 441.1L1004.5 440.2L1005.0 439.3L1005.5 438.7L1006.0 438.3L1006.5 437.9L1007.0 437.6L1007.5 437.3L1008.0 437.1L1008.5 436.8L1009.0 436.4L1009.5 435.9L1010.0 435.4L1010.5 434.8L1011.0 434.2L1011.5 433.7L1012.0 433.3L1012.5 433.2L1013.0 433.2L1013.5 433.3L1014.0 433.5L1014.5 433.7L1015.0 433.7L1015.5 433.5L1016.0 433.2L1016.5 432.8L1017.0 432.2L1017.5 431.5L1018.0 430.6L1018.5 429.6L1019.0 428.8L1019.5 428.3L1020.0 428.2L1020.5 428.7L1021.0 429.3L1021.5 429.9L1022.0 430.3L1022.5 430.2L1023.0 429.8L1023.5 429.2L1024.0 428.7L1024.5 428.6L1025.0 428.7L1025.5 429.3L1026.0 430.2L1026.5 431.2L1027.0 431.8L1027.5 431.9L1028.0 431.6L1028.5 431.1L1029.0 430.6L1029.5 430.1L1030.0 429.6L1030.5 429.4L1031.0 429.6L1031.5 430.2L1032.0 430.6L1032.5 430.7L1033.0 430.5L1033.5 430.3L1034.0 430.4L1034.5 430.6L1035.0 430.8L1035.5 430.7L1036.0 430.4L1036.5 429.9L1037.0 429.4L1037.5 429.1L1038.0 429.2L1038.5 429.7L1039.0 430.4L1039.5 431.1L1040.0 431.8L1040.5 432.4L1041.0 433.1L1041.5 433.7L1042.0 434.2L1042.5 434.1L1043.0 433.7L1043.5 433.2L1044.0 432.5L1044.5 431.7L1045.0 430.9L1045.5 430.4L1046.0 430.3L1046.5 430.3L1047.0 430.3L1047.5 430.1L1048.0 429.7L1048.5 429.2L1049.0 428.6L1049.5 428.1L1050.0 427.8L1050.5 428.0L1051.0 428.6L1051.5 429.4L1052.0 430.0L1052.5 430.3L1053.0 430.4L1053.5 430.4L1054.0 430.2L1054.5 429.7L1055.0 428.8L1055.5 427.8L1056.0 426.7L1056.5 425.9L1057.0 425.5L1057.5 425.2L1058.0 424.9L1058.5 424.5L1059.0 424.3L1059.5 424.1L1060.0 423.8L1060.5 423.1L1061.0 422.4L1061.5 421.9L1062.0 421.6L1062.5 421.4L1063.0 421.3L1063.5 421.3L1064.0 421.3L1064.5 421.5L1065.0 421.9L1065.5 422.3L1066.0 422.4L1066.5 422.1L1067.0 421.4L1067.5 420.8L1068.0 420.7L1068.5 421.1L1069.0 421.8L1069.5 426.3L1070.0 430.4L1070.5 429.9L1071.0 429.3L1071.5 428.9L1072.0 428.5L1072.5 428.0L1073.0 427.6L1073.5 427.3L1074.0 427.4L1074.5 427.9L1075.0 428.6L1075.5 429.1L1076.0 429.1L1076.5 428.6L1077.0 428.1L1077.5 427.6L1078.0 427.7L1078.5 427.8L1079.0 428.2L1079.5 428.7L1080.0 429.2L1080.5 429.4L1081.0 429.5L1081.5 429.5L1082.0 429.6L1082.5 429.9L1083.0 430.3L1083.5 430.6L1084.0 430.9L1084.5 431.2L1085.0 431.4L1085.5 431.6L1086.0 431.8L1086.5 432.0L1087.0 432.4L1087.5 432.8L1088.0 432.6L1088.5 431.9L1089.0 430.8L1089.5 429.3L1090.0 427.9L1090.5 426.7L1091.0 425.7L1091.5 425.1L1092.0 424.8L1092.5 424.8L1093.0 425.5L1093.5 426.5L1094.0 427.4L1094.5 428.2L1095.0 428.8L1095.5 429.3L1096.0 429.4L1096.5 429.1L1097.0 428.7L1097.5 428.6L1098.0 428.9L1098.5 429.6L1099.0 430.6L1099.5 431.4L1100.0 431.2L1100.5 430.7L1101.0 430.2L1101.5 429.8L1102.0 429.4L1102.5 429.2L1103.0 429.2L1103.5 429.3L1104.0 429.6L1104.5 429.9L1105.0 430.1L1105.5 430.1L1106.0 430.0L1106.5 429.9L1107.0 429.9L1107.5 429.8L1108.0 429.7L1108.5 429.5L1109.0 429.1L1109.5 428.7L1110.0 428.3L1110.5 428.1L1111.0 428.1L1111.5 428.1L1112.0 428.0L1112.5 428.0L1113.0 428.2L1113.5 428.6L1114.0 429.2L1114.5 424.1L1115.0 421.8L1115.5 422.3L1116.0 422.5L1116.5 422.3L1117.0 421.5L1117.5 420.6L1118.0 420.0L1118.5 419.8L1119.0 419.8L1119.5 419.8L1120.0 422.6L1120.5 427.3L1121.0 427.3L1121.5 427.3L1122.0 427.1L1122.5 426.8L1123.0 426.5L1123.5 426.5L1124.0 426.9L1124.5 427.5L1125.0 428.4L1125.5 428.9L1126.0 429.1L1126.5 429.2L1127.0 429.4L1127.5 429.9L1128.0 430.4L1128.5 430.8L1129.0 431.1L1129.5 431.4L1130.0 431.8L1130.5 432.1L1131.0 432.4L1131.5 432.5L1132.0 432.1L1132.5 431.8L1133.0 431.8L1133.5 431.8L1134.0 431.8L1134.5 431.9L1135.0 431.9L1135.5 431.9L1136.0 431.9L1136.5 432.1L1137.0 432.3L1137.5 432.6L1138.0 432.7L1138.5 432.5L1139.0 432.2L1139.5 431.9L1140.0 431.5L1140.5 431.0L1141.0 430.4L1141.5 429.6L1142.0 429.0L1142.5 428.7L1143.0 428.9L1143.5 429.7L1144.0 431.0L1144.5 432.2L1145.0 433.1L1145.5 433.9L1146.0 434.6L1146.5 435.2L1147.0 435.7L1147.5 436.0L1148.0 436.2L1148.5 436.0L1149.0 435.4L1149.5 435.0L1150.0 435.1L1150.5 435.3L1151.0 435.7L1151.5 436.1L1152.0 436.3L1152.5 436.0L1153.0 435.5L1153.5 434.8L1154.0 434.1L1154.5 433.5L1155.0 432.9L1155.5 432.7L1156.0 432.4L1156.5 432.1L1157.0 432.0L1157.5 432.2L1158.0 432.4L1158.5 432.7L1159.0 432.8L1159.5 432.6L1160.0 432.2L1160.5 431.7L1161.0 431.3L1161.5 431.1L1162.0 431.0L1162.5 431.0L1163.0 431.1L1163.5 431.1L1164.0 431.1L1164.5 431.0L1165.0 430.8L1165.5 430.7L1166.0 430.7L1166.5 430.7L1167.0 430.6L1167.5 430.0L1168.0 429.4L1168.5 429.0L1169.0 428.6L1169.5 428.2L1170.0 427.6L1170.5 427.4L1171.0 427.5L1171.5 427.6L1172.0 427.7L1172.5 427.7L1173.0 427.3L1173.5 426.8L1174.0 426.6L1174.5 427.0L1175.0 427.8L1175.5 428.8L1176.0 429.8L1176.5 430.8L1177.0 431.6L1177.5 432.2L1178.0 432.5L1178.5 432.4L1179.0 431.9L1179.5 431.1L1180.0 430.1L1180.5 429.0L1181.0 428.1L1181.5 427.0L1182.0 425.8L1182.5 425.0L1183.0 424.4L1183.5 423.9L1184.0 423.2L1184.5 422.1L1185.0 420.8L1185.5 419.4L1186.0 418.3L1186.5 417.4L1187.0 416.6L1187.5 416.5L1188.0 416.3L1188.5 416.0L1189.0 415.7L1189.5 415.4L1190.0 415.1L1190.5 414.9L1191.0 414.7L1191.5 414.6L1192.0 414.6L1192.5 414.5L1193.0 414.1L1193.5 404.5L1194.0 397.2L1194.5 393.7L1195.0 390.5L1195.5 387.3L1196.0 383.9L1196.5 380.7L1197.0 379.6L1197.5 378.5L1198.0 377.7L1198.5 377.0L1199.0 376.3L1199.5 375.6L1200.0 366.2L1200.5 351.2L1201.0 348.3L1201.5 348.4L1202.0 348.4L1202.5 348.2L1203.0 348.0L1203.5 347.8L1204.0 347.8L1204.5 347.9L1205.0 347.8L1205.5 347.4L1206.0 347.0L1206.5 346.7L1207.0 346.2L1207.5 345.4L1208.0 344.5L1208.5 344.1L1209.0 344.4L1209.5 345.7L1210.0 347.1L1210.5 348.2L1211.0 348.6L1211.5 348.6L1212.0 348.5L1212.5 348.5L1213.0 348.5L1213.5 350.8L1214.0 354.6L1214.5 358.2L1215.0 361.7L1215.5 361.5L1216.0 361.3L1216.5 361.1L1217.0 361.3L1217.5 361.8L1218.0 362.7L1218.5 363.8L1219.0 364.9L1219.5 365.6L1220.0 365.9L1220.5 365.8L1221.0 369.2L1221.5 378.0L1222.0 386.7L1222.5 390.2L1223.0 390.3L1223.5 390.8L1224.0 391.6L1224.5 392.6L1225.0 393.6L1225.5 394.6L1226.0 395.5L1226.5 396.4L1227.0 397.5L1227.5 398.7L1228.0 408.6L1228.5 409.1L1229.0 409.3L1229.5 409.4L1230.0 409.4L1230.5 409.2L1231.0 409.0L1231.5 409.0L1232.0 409.3L1232.5 409.7L1233.0 409.9L1233.5 411.1L1234.0 417.1L1234.5 423.1L1235.0 424.2L1235.5 424.1L1236.0 424.2L1236.5 424.5L1237.0 424.9L1237.5 425.0L1238.0 424.7L1238.5 423.9L1239.0 423.0L1239.5 424.1L1240.0 428.1L1240.5 430.2L1241.0 430.8L1241.5 431.4L1242.0 432.1L1242.5 432.8L1243.0 433.2L1243.5 433.3L1244.0 433.1L1244.5 432.8L1245.0 432.5L1245.5 432.2L1246.0 432.0L1246.5 431.7L1247.0 431.4L1247.5 431.5L1248.0 431.7L1248.5 431.8L1249.0 431.7L1249.5 431.1L1250.0 430.5L1250.5 430.2L1251.0 430.4L1251.5 431.1L1252.0 431.9L1252.5 432.6L1253.0 432.8L1253.5 432.6L1254.0 432.1L1254.5 431.6L1255.0 431.1L1255.5 430.5L1256.0 429.9L1256.5 429.4L1257.0 428.9L1257.5 428.4L1258.0 427.8L1258.5 427.2L1259.0 426.8L1259.5 426.4L1260.0 426.8L1260.5 427.2L1261.0 427.6L1261.5 428.1L1262.0 428.6L1262.5 429.0L1263.0 429.0L1263.5 428.8L1264.0 428.6L1264.5 428.8L1265.0 429.1L1265.5 429.6L1266.0 430.2L1266.5 430.6L1267.0 430.9L1267.5 431.0L1268.0 431.1L1268.5 431.4L1269.0 431.6L1269.5 431.8L1270.0 431.9L1270.5 432.1L1271.0 432.3L1271.5 432.5L1272.0 432.6L1272.5 432.3L1273.0 431.8L1273.5 431.3L1274.0 431.0L1274.5 430.7L1275.0 430.4L1275.5 430.1L1276.0 430.0L1276.5 430.1L1277.0 430.4L1277.5 431.0L1278.0 431.5L1278.5 431.3L1279.0 430.7L1279.5 429.7L1280.0 428.6L1280.5 427.8L1281.0 427.4L1281.5 427.2L1282.0 426.9L1282.5 426.5L1283.0 426.0L1283.5 425.6L1284.0 425.2L1284.5 424.8L1285.0 424.4L1285.5 423.8L1286.0 423.2L1286.5 422.9L1287.0 423.4L1287.5 424.2L1288.0 424.9L1288.5 425.3L1289.0 425.3L1289.5 425.2L1290.0 425.4L1290.5 425.9L1291.0 426.5L1291.5 427.0L1292.0 427.2L1292.5 427.2L1293.0 427.1L1293.5 427.1L1294.0 427.2L1294.5 427.3L1295.0 427.3L1295.5 427.2L1296.0 427.0L1296.5 426.9L1297.0 427.2L1297.5 427.5L1298.0 427.8L1298.5 427.9L1299.0 427.7L1299.5 427.4L1300.0 427.2L1300.5 426.6L1301.0 426.2L1301.5 426.2L1302.0 426.3L1302.5 426.5L1303.0 426.6L1303.5 426.5L1304.0 426.2L1304.5 425.7L1305.0 425.4L1305.5 425.3L1306.0 425.3L1306.5 425.1L1307.0 424.9L1307.5 424.6L1308.0 424.2L1308.5 424.0L1309.0 424.1L1309.5 424.5L1310.0 425.0L1310.5 425.8L1311.0 426.6L1311.5 427.4L1312.0 428.5L1312.5 429.9L1313.0 431.2L1313.5 432.5L1314.0 432.5L1314.5 432.3L1315.0 432.1L1315.5 432.0L1316.0 431.9L1316.5 426.3L1317.0 421.6L1317.5 421.2L1318.0 420.5L1318.5 419.8L1319.0 419.3L1319.5 419.4L1320.0 420.1L1320.5 420.8L1321.0 421.1L1321.5 420.9L1322.0 420.3L1322.5 419.8L1323.0 420.1L1323.5 421.6L1324.0 423.4L1324.5 425.1L1325.0 425.2L1325.5 424.6L1326.0 423.6L1326.5 422.2L1327.0 420.9L1327.5 419.9L1328.0 419.4L1328.5 419.4L1329.0 419.5L1329.5 419.5L1330.0 419.1L1330.5 418.6L1331.0 418.4L1331.5 418.5L1332.0 418.8L1332.5 418.9L1333.0 418.8L1333.5 418.5L1334.0 418.0L1334.5 417.7L1335.0 417.5L1335.5 417.3L1336.0 416.9L1336.5 416.3L1337.0 415.8L1337.5 415.5L1338.0 415.6L1338.5 415.2L1339.0 415.0L1339.5 414.6L1340.0 404.6L1340.5 392.0L1341.0 390.2L1341.5 388.6L1342.0 387.3L1342.5 386.2L1343.0 385.3L1343.5 384.4L1344.0 383.3L1344.5 382.2L1345.0 381.1L1345.5 380.1L1346.0 379.2L1346.5 378.2L1347.0 377.1L1347.5 375.8L1348.0 374.2L1348.5 373.5L1349.0 372.7L1349.5 371.9L1350.0 371.3L1350.5 371.1L1351.0 371.5L1351.5 365.6L1352.0 366.8L1352.5 368.0L1353.0 368.7L1353.5 368.9L1354.0 368.6L1354.5 368.4L1355.0 368.3L1355.5 368.5L1356.0 368.7L1356.5 368.7L1357.0 368.5L1357.5 368.0L1358.0 367.5L1358.5 367.2L1359.0 367.3L1359.5 367.4L1360.0 368.5L1360.5 371.1L1361.0 373.7L1361.5 373.7L1362.0 373.6L1362.5 373.6L1363.0 373.8L1363.5 374.2L1364.0 374.8L1364.5 375.2L1365.0 375.3L1365.5 375.2L1366.0 376.7L1366.5 379.3L1367.0 381.8L1367.5 383.7L1368.0 383.4L1368.5 383.3L1369.0 383.6L1369.5 384.2L1370.0 384.8L1370.5 385.2L1371.0 385.2L1371.5 385.0L1372.0 384.7L1372.5 384.6L1373.0 379.8L1373.5 376.6L1374.0 376.1L1374.5 375.5L1375.0 374.9L1375.5 374.2L1376.0 373.7L1376.5 373.6L1377.0 373.7L1377.5 374.0L1378.0 374.5L1378.5 374.8L1379.0 374.8L1379.5 374.8L1380.0 374.8L1380.5 375.0L1381.0 375.4L1381.5 375.5L1382.0 375.1L1382.5 374.4L1383.0 373.6L1383.5 372.8L1384.0 372.3L1384.5 372.1L1385.0 372.3L1385.5 372.7L1386.0 373.0L1386.5 373.1L1387.0 373.0L1387.5 372.7L1388.0 372.6L1388.5 372.8L1389.0 375.2L1389.5 377.5L1390.0 380.4L1390.5 384.6L1391.0 388.8L1391.5 393.2L1392.0 397.0L1392.5 398.4L1393.0 399.6L1393.5 400.6L1394.0 400.4L1394.5 400.5L1395.0 401.0L1395.5 401.5L1396.0 401.9L1396.5 402.3L1397.0 402.5L1397.5 402.7L1398.0 403.7L1398.5 406.3L1399.0 409.0L1399.5 411.7L1400.0 414.3L1400.5 416.4L1401.0 418.1L1401.5 418.2L1402.0 418.6L1402.5 419.4L1403.0 420.5L1403.5 421.7L1404.0 422.8L1404.5 423.7L1405.0 424.0L1405.5 424.2L1406.0 424.4L1406.5 424.7L1407.0 425.2L1407.5 425.8L1408.0 426.6L1408.5 427.3L1409.0 427.7L1409.5 427.8L1410.0 427.4L1410.5 426.8L1411.0 426.7L1411.5 426.9L1412.0 427.4L1412.5 427.8L1413.0 427.6L1413.5 426.9L1414.0 426.0L1414.5 425.4L1415.0 425.2L1415.5 425.3L1416.0 425.4L1416.5 425.3L1417.0 425.4L1417.5 425.7L1418.0 426.1L1418.5 426.7L1419.0 427.2L1419.5 427.6L1420.0 427.8L1420.5 427.7L1421.0 427.5L1421.5 427.5L1422.0 427.8L1422.5 428.1L1423.0 428.4L1423.5 428.9L1424.0 429.5L1424.5 430.2L1425.0 431.0L1425.5 431.7L1426.0 432.0L1426.5 432.2L1427.0 432.2L1427.5 432.2L1428.0 432.0L1428.5 431.3L1429.0 430.4L1429.5 429.6L1430.0 429.4L1430.5 429.5L1431.0 429.9L1431.5 430.1L1432.0 430.2L1432.5 430.1L1433.0 429.9L1433.5 429.9L1434.0 430.0L1434.5 430.3L1435.0 430.7L1435.5 431.0L1436.0 431.2L1436.5 431.4L1437.0 431.3L1437.5 431.0L1438.0 430.5L1438.5 429.9L1439.0 429.5L1439.5 429.3L1440.0 429.2L1440.5 428.9L1441.0 428.6L1441.5 428.3L1442.0 428.1L1442.5 427.8L1443.0 427.5L1443.5 427.3L1444.0 427.0L1444.5 426.7L1445.0 426.2L1445.5 426.0L1446.0 425.7L1446.5 425.7L1447.0 426.1L1447.5 426.8L1448.0 427.5L1448.5 428.1L1449.0 428.6L1449.5 428.9L1450.0 429.1L1450.5 429.2L1451.0 429.1L1451.5 429.0L1452.0 428.5L1452.5 427.9L1453.0 427.3L1453.5 427.1L1454.0 427.4L1454.5 427.8L1455.0 428.1L1455.5 427.9L1456.0 427.5L1456.5 426.9L1457.0 426.5L1457.5 426.2L1458.0 426.2L1458.5 426.3L1459.0 426.4L1459.5 426.6L1460.0 426.9L1460.5 427.2L1461.0 427.5L1461.5 427.6L1462.0 427.5L1462.5 427.2L1463.0 426.7L1463.5 426.1L1464.0 425.9L1464.5 425.7L1465.0 425.7L1465.5 425.8L1466.0 426.0L1466.5 426.2L1467.0 426.4L1467.5 426.6L1468.0 427.1L1468.5 427.8L1469.0 427.6L1469.5 427.0L1470.0 425.9L1470.5 424.5L1471.0 423.1L1471.5 421.9L1472.0 421.1L1472.5 421.6L1473.0 421.9L1473.5 422.3L1474.0 423.0L1474.5 424.1L1475.0 425.4L1475.5 426.6L1476.0 427.3L1476.5 427.8L1477.0 428.0L1477.5 428.4L1478.0 429.1L1478.5 429.9L1479.0 430.7L1479.5 431.3L1480.0 430.9L1480.5 430.1L1481.0 429.0L1481.5 427.7L1482.0 426.2L1482.5 425.0L1483.0 424.2L1483.5 423.9L1484.0 424.4L1484.5 425.2L1485.0 426.0L1485.5 426.8L1486.0 427.6L1486.5 428.2L1487.0 428.7L1487.5 429.0L1488.0 429.2L1488.5 429.5L1489.0 429.9L1489.5 430.4L1490.0 430.8L1490.5 431.1L1491.0 430.9L1491.5 430.8L1492.0 430.9L1492.5 431.4L1493.0 432.1L1493.5 432.7L1494.0 433.1L1494.5 433.3L1495.0 433.2L1495.5 433.0L1496.0 432.5L1496.5 431.9L1497.0 431.5L1497.5 431.4L1498.0 431.5L1498.5 431.6L1499.0 431.4L1499.5 431.1L1500.0 430.6L1500.5 430.2L1501.0 429.9L1501.5 429.9L1502.0 430.1L1502.5 430.2L1503.0 430.3L1503.5 430.3L1504.0 430.4L1504.5 430.8L1505.0 431.6L1505.5 432.4L1506.0 432.9L1506.5 433.1L1507.0 433.0L1507.5 433.0L1508.0 432.9L1508.5 432.6L1509.0 432.0L1509.5 431.4L1510.0 431.2L1510.5 431.6L1511.0 432.4L1511.5 433.5L1512.0 434.5L1512.5 435.0L1513.0 435.0L1513.5 434.7L1514.0 434.5L1514.5 434.7L1515.0 434.8L1515.5 434.6L1516.0 434.3L1516.5 434.3L1517.0 434.8L1517.5 435.5L1518.0 436.2L1518.5 436.8L1519.0 437.3L1519.5 437.3L1520.0 437.6L1520.5 437.8L1521.0 437.9L1521.5 437.6L1522.0 437.2L1522.5 437.0L1523.0 437.0L1523.5 437.3L1524.0 437.8L1524.5 438.1L1525.0 438.1L1525.5 437.7L1526.0 437.1L1526.5 436.6L1527.0 436.4L1527.5 436.6L1528.0 436.8L1528.5 436.9L1529.0 436.7L1529.5 436.3L1530.0 436.0L1530.5 435.9L1531.0 436.1L1531.5 436.5L1532.0 436.7L1532.5 436.9L1533.0 437.0L1533.5 437.3L1534.0 437.8L1534.5 438.1L1535.0 437.8L1535.5 437.0L1536.0 435.7L1536.5 434.5L1537.0 433.8L1537.5 433.5L1538.0 433.4L1538.5 433.2L1539.0 432.8L1539.5 432.3L1540.0 431.8L1540.5 431.3L1541.0 430.6L1541.5 430.3L1542.0 430.0L1542.5 430.0L1543.0 430.3L1543.5 430.9L1544.0 431.6L1544.5 432.3L1545.0 433.0L1545.5 433.3L1546.0 433.3L1546.5 431.3L1547.0 429.4L1547.5 427.6L1548.0 426.0L1548.5 424.5L1549.0 422.9L1549.5 421.4L1550.0 420.9L1550.5 420.1L1551.0 419.1L1551.5 417.8L1552.0 416.6L1552.5 415.6L1553.0 414.9L1553.5 414.7L1554.0 414.7L1554.5 414.8L1555.0 414.5L1555.5 413.8L1556.0 412.9L1556.5 411.5L1557.0 410.0L1557.5 408.8L1558.0 407.7L1558.5 406.3L1559.0 404.5L1559.5 402.6L1560.0 401.1L1560.5 400.4L1561.0 401.3L1561.5 402.0L1562.0 402.5L1562.5 402.7L1563.0 402.6L1563.5 402.2L1564.0 401.4L1564.5 400.4L1565.0 399.3L1565.5 398.2L1566.0 397.2L1566.5 395.4L1567.0 392.1L1567.5 388.9L1568.0 385.8L1568.5 385.6L1569.0 385.6L1569.5 385.6L1570.0 385.3L1570.5 384.8L1571.0 384.4L1571.5 384.4L1572.0 385.2L1572.5 386.3L1573.0 387.5L1573.5 388.4L1574.0 388.8L1574.5 388.7L1575.0 388.4L1575.5 388.0L1576.0 392.5L1576.5 396.9L1577.0 396.3L1577.5 395.8L1578.0 395.7L1578.5 396.1L1579.0 396.9L1579.5 397.6L1580.0 398.0L1580.5 398.1L1581.0 398.3L1581.5 398.8L1582.0 399.6L1582.5 402.8L1583.0 409.4L1583.5 411.6L1584.0 410.9L1584.5 410.3L1585.0 410.0L1585.5 409.9L1586.0 410.0L1586.5 410.2L1587.0 410.1L1587.5 410.0L1588.0 409.8L1588.5 409.9L1589.0 410.2L1589.5 410.7L1590.0 411.4L1590.5 412.0L1591.0 414.7L1591.5 418.7L1592.0 422.5L1592.5 425.6L1593.0 425.8L1593.5 425.9L1594.0 425.8L1594.5 425.6L1595.0 425.4L1595.5 425.6L1596.0 426.3L1596.5 427.2L1597.0 427.6L1597.5 427.5L1598.0 427.0L1598.5 426.3L1599.0 425.8L1599.5 425.3L1600.0 425.1L1600.5 425.1L1601.0 425.5L1601.5 426.1L1602.0 426.7L1602.5 426.9L1603.0 426.8L1603.5 426.3L1604.0 425.8L1604.5 425.5L1605.0 425.3L1605.5 425.1L1606.0 425.2L1606.5 425.8L1607.0 426.6L1607.5 427.3L1608.0 427.3L1608.5 426.6L1609.0 425.7L1609.5 425.3L1610.0 425.4L1610.5 425.8L1611.0 426.3L1611.5 426.8L1612.0 427.1L1612.5 427.3L1613.0 427.3L1613.5 426.9L1614.0 426.6L1614.5 426.4L1615.0 426.4L1615.5 426.4L1616.0 426.5L1616.5 426.6L1617.0 426.6L1617.5 426.6L1618.0 426.4L1618.5 426.2L1619.0 426.1L1619.5 426.1L1620.0 426.3L1620.5 426.6L1621.0 427.1L1621.5 428.0L1622.0 429.2L1622.5 430.6L1623.0 431.8L1623.5 432.7L1624.0 433.3L1624.5 433.7L1625.0 433.8L1625.5 433.9L1626.0 433.9L1626.5 433.4L1627.0 432.7L1627.5 431.8L1628.0 431.3L1628.5 431.1L1629.0 431.1L1629.5 431.3L1630.0 431.8L1630.5 432.5L1631.0 430.8L1631.5 428.3L1632.0 425.6L1632.5 425.3L1633.0 424.8L1633.5 424.6L1634.0 424.6L1634.5 424.7L1635.0 424.6L1635.5 424.2L1636.0 423.7L1636.5 423.1L1637.0 422.9L1637.5 424.0L1638.0 425.4L1638.5 427.1L1639.0 429.0L1639.5 430.1L1640.0 430.4L1640.5 430.5L1641.0 430.2L1641.5 429.5L1642.0 428.7L1642.5 427.9L1643.0 427.3L1643.5 427.2L1644.0 427.1L1644.5 426.8L1645.0 426.4L1645.5 426.0L1646.0 425.8L1646.5 425.9L1647.0 426.3L1647.5 427.0L1648.0 427.7L1648.5 428.3L1649.0 428.7L1649.5 429.0L1650.0 429.3L1650.5 429.3L1651.0 429.1L1651.5 428.7L1652.0 428.1L1652.5 427.6L1653.0 427.2L1653.5 427.2L1654.0 427.7L1654.5 428.4L1655.0 429.1L1655.5 429.7L1656.0 430.1L1656.5 430.5L1657.0 430.6L1657.5 430.4L1658.0 429.9L1658.5 429.3L1659.0 428.5L1659.5 427.7L1660.0 427.0L1660.5 426.6L1661.0 426.5L1661.5 426.6L1662.0 426.7L1662.5 426.8L1663.0 426.7L1663.5 426.3L1664.0 426.3L1664.5 426.7L1665.0 427.3L1665.5 428.2L1666.0 428.9L1666.5 429.4L1667.0 429.8L1667.5 430.0L1668.0 430.1L1668.5 430.4L1669.0 430.9L1669.5 431.8L1670.0 433.2L1670.5 433.7L1671.0 434.0L1671.5 433.6L1672.0 432.4L1672.5 430.7L1673.0 428.8L1673.5 427.2L1674.0 426.1L1674.5 425.7L1675.0 426.6L1675.5 428.0L1676.0 429.4L1676.5 430.3L1677.0 430.7L1677.5 430.6L1678.0 430.6L1678.5 430.7L1679.0 431.0L1679.5 431.2L1680.0 431.4L1680.5 431.6L1681.0 432.0L1681.5 432.0L1682.0 431.7L1682.5 431.2L1683.0 430.5L1683.5 429.9L1684.0 429.5L1684.5 429.5L1685.0 429.8L1685.5 430.5L1686.0 431.5L1686.5 432.2L1687.0 432.5L1687.5 432.1L1688.0 431.3L1688.5 430.6L1689.0 430.6L1689.5 431.3L1690.0 431.9L1690.5 432.4L1691.0 432.5L1691.5 432.6L1692.0 432.6L1692.5 432.9L1693.0 433.4L1693.5 434.1L1694.0 434.9L1694.5 435.5L1695.0 436.0L1695.5 435.0L1696.0 433.7L1696.5 432.2L1697.0 431.5L1697.5 431.1L1698.0 431.0L1698.5 431.2L1699.0 431.6L1699.5 432.0L1700.0 432.4L1700.5 432.7L1701.0 433.1L1701.5 433.4L1702.0 433.4L1702.5 433.1L1703.0 432.7L1703.5 432.2L1704.0 431.1L1704.5 429.6L1705.0 428.3L1705.5 426.8L1706.0 425.2L1706.5 423.5L1707.0 421.9L1707.5 420.6L1708.0 419.4L1708.5 418.3L1709.0 417.2L1709.5 416.9L1710.0 417.1L1710.5 417.3L1711.0 417.3L1711.5 417.0L1712.0 416.6L1712.5 416.1L1713.0 415.8L1713.5 415.4L1714.0 414.8L1714.5 415.5L1715.0 416.4L1715.5 417.9L1716.0 417.4L1716.5 417.2L1717.0 416.9L1717.5 416.4L1718.0 415.7L1718.5 415.4L1719.0 415.0L1719.5 414.5L1720.0 414.1L1720.5 414.0L1721.0 413.9L1721.5 413.6L1722.0 413.2L1722.5 412.8L1723.0 412.3L1723.5 411.8L1724.0 411.7L1724.5 411.5L1725.0 411.5L1725.5 411.8L1726.0 412.3L1726.5 412.7L1727.0 416.8L1727.5 420.8L1728.0 423.1L1728.5 423.2L1729.0 423.3L1729.5 423.3L1730.0 419.9L1730.5 414.4L1731.0 414.4L1731.5 414.6L1732.0 414.8L1732.5 415.0L1733.0 415.0L1733.5 414.9L1734.0 414.7L1734.5 414.3L1735.0 413.8L1735.5 413.0L1736.0 412.2L1736.5 412.8L1737.0 413.9L1737.5 415.5L1738.0 415.9L1738.5 416.5L1739.0 416.9L1739.5 417.0L1740.0 416.6L1740.5 414.8L1741.0 413.0L1741.5 411.3L1742.0 411.4L1742.5 411.5L1743.0 411.4L1743.5 411.2L1744.0 411.0L1744.5 411.1L1745.0 411.3L1745.5 412.1L1746.0 414.8L1746.5 417.3L1747.0 419.7L1747.5 419.5L1748.0 419.5L1748.5 419.7L1749.0 419.8L1749.5 417.1L1750.0 410.1L1750.5 408.5L1751.0 408.4L1751.5 408.5L1752.0 408.9L1752.5 409.5L1753.0 409.9L1753.5 410.1L1754.0 410.2L1754.5 410.2L1755.0 410.2L1755.5 410.1L1756.0 409.9L1756.0 448.8L1755.5 448.8L1755.0 448.8L1754.5 448.8L1754.0 448.8L1753.5 448.8L1753.0 448.8L1752.5 448.8L1752.0 448.8L1751.5 448.8L1751.0 448.8L1750.5 448.8L1750.0 448.8L1749.5 448.8L1749.0 448.8L1748.5 448.8L1748.0 448.8L1747.5 448.8L1747.0 448.8L1746.5 448.8L1746.0 448.0L1745.5 446.0L1745.0 445.9L1744.5 446.3L1744.0 446.8L1743.5 447.2L1743.0 447.6L1742.5 448.0L1742.0 448.4L1741.5 448.8L1741.0 449.3L1740.5 449.3L1740.0 448.7L1739.5 448.2L1739.0 447.6L1738.5 447.1L1738.0 446.5L1737.5 445.9L1737.0 445.4L1736.5 444.8L1736.0 444.3L1735.5 443.7L1735.0 443.2L1734.5 442.6L1734.0 442.1L1733.5 441.6L1733.0 441.0L1732.5 440.5L1732.0 440.0L1731.5 444.5L1731.0 447.3L1730.5 447.7L1730.0 448.1L1729.5 448.4L1729.0 448.8L1728.5 449.1L1728.0 449.5L1727.5 449.0L1727.0 448.5L1726.5 447.9L1726.0 447.4L1725.5 446.9L1725.0 446.4L1724.5 443.9L1724.0 441.5L1723.5 439.0L1723.0 438.5L1722.5 438.5L1722.0 438.5L1721.5 438.9L1721.0 439.5L1720.5 440.2L1720.0 440.8L1719.5 441.5L1719.0 442.1L1718.5 442.6L1718.0 442.8L1717.5 443.1L1717.0 443.3L1716.5 443.6L1716.0 443.8L1715.5 444.1L1715.0 444.3L1714.5 444.6L1714.0 444.8L1713.5 445.1L1713.0 445.3L1712.5 445.6L1712.0 445.8L1711.5 446.1L1711.0 446.3L1710.5 446.6L1710.0 446.8L1709.5 447.1L1709.0 447.3L1708.5 447.7L1708.0 448.1L1707.5 448.4L1707.0 448.8L1706.5 449.1L1706.0 449.5L1705.5 449.5L1705.0 449.5L1704.5 449.5L1704.0 449.5L1703.5 449.5L1703.0 449.5L1702.5 449.5L1702.0 449.5L1701.5 449.5L1701.0 449.5L1700.5 449.5L1700.0 449.5L1699.5 449.5L1699.0 449.5L1698.5 449.5L1698.0 449.5L1697.5 449.5L1697.0 449.5L1696.5 449.5L1696.0 449.5L1695.5 449.5L1695.0 449.5L1694.5 449.5L1694.0 449.5L1693.5 449.5L1693.0 449.5L1692.5 449.5L1692.0 449.5L1691.5 449.5L1691.0 449.5L1690.5 449.5L1690.0 449.5L1689.5 449.5L1689.0 449.5L1688.5 449.5L1688.0 449.5L1687.5 449.5L1687.0 449.5L1686.5 449.5L1686.0 449.5L1685.5 449.5L1685.0 449.5L1684.5 449.5L1684.0 449.5L1683.5 449.5L1683.0 449.5L1682.5 449.5L1682.0 449.5L1681.5 449.5L1681.0 449.5L1680.5 449.5L1680.0 449.5L1679.5 449.5L1679.0 448.3L1678.5 449.5L1678.0 449.5L1677.5 449.5L1677.0 448.3L1676.5 449.5L1676.0 449.5L1675.5 449.5L1675.0 449.5L1674.5 449.5L1674.0 449.5L1673.5 449.5L1673.0 449.5L1672.5 449.5L1672.0 449.5L1671.5 449.5L1671.0 449.5L1670.5 449.5L1670.0 449.5L1669.5 449.5L1669.0 449.5L1668.5 449.5L1668.0 449.5L1667.5 449.5L1667.0 449.5L1666.5 449.5L1666.0 449.5L1665.5 449.5L1665.0 449.5L1664.5 449.5L1664.0 449.5L1663.5 449.5L1663.0 449.5L1662.5 449.5L1662.0 449.5L1661.5 449.5L1661.0 449.5L1660.5 449.5L1660.0 449.5L1659.5 449.5L1659.0 449.5L1658.5 449.5L1658.0 449.5L1657.5 449.5L1657.0 449.5L1656.5 449.5L1656.0 449.5L1655.5 449.5L1655.0 449.5L1654.5 449.5L1654.0 449.5L1653.5 449.5L1653.0 449.5L1652.5 449.5L1652.0 449.5L1651.5 449.5L1651.0 449.5L1650.5 449.5L1650.0 449.5L1649.5 449.5L1649.0 449.5L1648.5 449.5L1648.0 449.5L1647.5 449.5L1647.0 449.5L1646.5 449.5L1646.0 449.5L1645.5 449.5L1645.0 448.3L1644.5 449.5L1644.0 449.5L1643.5 449.5L1643.0 449.5L1642.5 449.5L1642.0 449.5L1641.5 449.5L1641.0 449.5L1640.5 449.5L1640.0 449.5L1639.5 449.5L1639.0 449.5L1638.5 449.5L1638.0 449.5L1637.5 449.5L1637.0 449.5L1636.5 449.5L1636.0 449.5L1635.5 449.5L1635.0 449.5L1634.5 449.5L1634.0 449.5L1633.5 449.5L1633.0 449.5L1632.5 449.5L1632.0 449.5L1631.5 449.5L1631.0 449.5L1630.5 449.5L1630.0 449.5L1629.5 449.5L1629.0 449.5L1628.5 449.5L1628.0 449.5L1627.5 449.5L1627.0 449.5L1626.5 449.5L1626.0 449.5L1625.5 449.5L1625.0 449.5L1624.5 449.5L1624.0 449.5L1623.5 449.5L1623.0 449.5L1622.5 449.5L1622.0 449.5L1621.5 449.5L1621.0 449.5L1620.5 449.5L1620.0 449.5L1619.5 449.5L1619.0 449.5L1618.5 449.5L1618.0 449.5L1617.5 449.5L1617.0 449.5L1616.5 449.5L1616.0 449.5L1615.5 449.5L1615.0 449.5L1614.5 449.5L1614.0 449.5L1613.5 449.5L1613.0 449.5L1612.5 449.5L1612.0 449.5L1611.5 449.5L1611.0 449.5L1610.5 449.5L1610.0 449.5L1609.5 449.5L1609.0 449.5L1608.5 449.5L1608.0 449.5L1607.5 449.5L1607.0 449.5L1606.5 449.5L1606.0 449.5L1605.5 449.5L1605.0 449.5L1604.5 449.5L1604.0 449.5L1603.5 448.3L1603.0 449.5L1602.5 449.5L1602.0 449.5L1601.5 449.5L1601.0 449.5L1600.5 449.5L1600.0 449.5L1599.5 449.5L1599.0 449.5L1598.5 449.5L1598.0 449.5L1597.5 449.2L1597.0 449.0L1596.5 448.8L1596.0 448.7L1595.5 448.5L1595.0 448.4L1594.5 448.3L1594.0 448.2L1593.5 448.0L1593.0 447.9L1592.5 447.6L1592.0 447.4L1591.5 447.1L1591.0 446.9L1590.5 446.6L1590.0 446.4L1589.5 446.1L1589.0 445.9L1588.5 445.6L1588.0 445.4L1587.5 445.1L1587.0 444.9L1586.5 444.6L1586.0 444.4L1585.5 444.1L1585.0 443.9L1584.5 443.6L1584.0 443.4L1583.5 443.2L1583.0 442.9L1582.5 442.7L1582.0 442.4L1581.5 442.2L1581.0 439.5L1580.5 429.4L1580.0 429.4L1579.5 429.4L1579.0 429.4L1578.5 429.4L1578.0 429.4L1577.5 429.4L1577.0 429.4L1576.5 429.4L1576.0 429.1L1575.5 428.7L1575.0 428.4L1574.5 428.0L1574.0 427.7L1573.5 427.3L1573.0 426.9L1572.5 426.6L1572.0 426.2L1571.5 426.6L1571.0 428.1L1570.5 429.6L1570.0 431.1L1569.5 432.0L1569.0 431.8L1568.5 431.7L1568.0 431.6L1567.5 431.5L1567.0 431.4L1566.5 431.2L1566.0 431.1L1565.5 431.0L1565.0 431.5L1564.5 432.0L1564.0 432.5L1563.5 433.0L1563.0 433.5L1562.5 434.0L1562.0 434.5L1561.5 441.9L1561.0 446.3L1560.5 446.3L1560.0 446.3L1559.5 446.3L1559.0 446.3L1558.5 446.3L1558.0 446.3L1557.5 446.3L1557.0 446.3L1556.5 446.3L1556.0 446.3L1555.5 446.3L1555.0 446.7L1554.5 447.2L1554.0 447.6L1553.5 448.1L1553.0 448.6L1552.5 448.9L1552.0 449.1L1551.5 449.3L1551.0 449.5L1550.5 449.5L1550.0 449.5L1549.5 449.5L1549.0 449.5L1548.5 449.5L1548.0 449.5L1547.5 449.5L1547.0 449.5L1546.5 449.5L1546.0 449.5L1545.5 449.5L1545.0 449.5L1544.5 449.5L1544.0 449.5L1543.5 449.5L1543.0 449.5L1542.5 449.5L1542.0 449.5L1541.5 449.5L1541.0 449.5L1540.5 449.5L1540.0 449.5L1539.5 449.5L1539.0 449.5L1538.5 449.5L1538.0 449.5L1537.5 449.5L1537.0 449.5L1536.5 449.5L1536.0 449.5L1535.5 449.5L1535.0 448.3L1534.5 448.3L1534.0 449.5L1533.5 449.5L1533.0 449.5L1532.5 449.5L1532.0 449.5L1531.5 449.5L1531.0 449.5L1530.5 449.5L1530.0 449.5L1529.5 449.5L1529.0 449.5L1528.5 449.5L1528.0 449.5L1527.5 449.5L1527.0 449.5L1526.5 449.5L1526.0 449.5L1525.5 449.5L1525.0 449.5L1524.5 449.5L1524.0 449.5L1523.5 449.5L1523.0 449.5L1522.5 449.5L1522.0 449.5L1521.5 449.5L1521.0 448.3L1520.5 449.5L1520.0 449.5L1519.5 449.5L1519.0 449.5L1518.5 449.5L1518.0 449.5L1517.5 449.5L1517.0 449.5L1516.5 449.5L1516.0 449.5L1515.5 449.5L1515.0 449.5L1514.5 449.5L1514.0 449.5L1513.5 449.5L1513.0 449.5L1512.5 449.5L1512.0 449.5L1511.5 449.5L1511.0 449.5L1510.5 449.5L1510.0 449.5L1509.5 449.5L1509.0 449.5L1508.5 449.5L1508.0 448.3L1507.5 449.5L1507.0 449.5L1506.5 448.3L1506.0 449.5L1505.5 449.5L1505.0 449.5L1504.5 449.5L1504.0 449.5L1503.5 449.5L1503.0 449.5L1502.5 449.5L1502.0 449.5L1501.5 449.5L1501.0 449.5L1500.5 449.5L1500.0 449.5L1499.5 449.5L1499.0 449.5L1498.5 449.5L1498.0 449.5L1497.5 449.5L1497.0 449.5L1496.5 449.5L1496.0 449.5L1495.5 449.5L1495.0 449.5L1494.5 449.5L1494.0 449.5L1493.5 449.5L1493.0 449.5L1492.5 449.5L1492.0 449.5L1491.5 449.5L1491.0 449.5L1490.5 449.5L1490.0 449.5L1489.5 449.5L1489.0 449.5L1488.5 449.5L1488.0 449.5L1487.5 449.5L1487.0 449.5L1486.5 449.5L1486.0 449.5L1485.5 449.5L1485.0 449.5L1484.5 449.5L1484.0 449.5L1483.5 449.5L1483.0 449.5L1482.5 449.5L1482.0 449.5L1481.5 449.5L1481.0 449.5L1480.5 449.5L1480.0 449.5L1479.5 449.5L1479.0 449.5L1478.5 449.5L1478.0 449.5L1477.5 449.5L1477.0 449.5L1476.5 449.5L1476.0 449.5L1475.5 449.5L1475.0 449.5L1474.5 449.5L1474.0 449.5L1473.5 449.5L1473.0 449.5L1472.5 449.5L1472.0 449.5L1471.5 449.5L1471.0 449.5L1470.5 449.5L1470.0 449.5L1469.5 449.5L1469.0 449.5L1468.5 449.5L1468.0 449.5L1467.5 449.5L1467.0 449.5L1466.5 449.5L1466.0 449.5L1465.5 449.5L1465.0 449.5L1464.5 449.5L1464.0 449.5L1463.5 449.5L1463.0 449.5L1462.5 449.5L1462.0 449.5L1461.5 449.5L1461.0 449.5L1460.5 449.5L1460.0 449.5L1459.5 449.5L1459.0 449.5L1458.5 449.5L1458.0 449.5L1457.5 449.5L1457.0 449.5L1456.5 449.5L1456.0 449.5L1455.5 449.5L1455.0 449.5L1454.5 449.5L1454.0 449.5L1453.5 449.5L1453.0 449.5L1452.5 449.5L1452.0 449.5L1451.5 449.5L1451.0 449.5L1450.5 449.5L1450.0 449.5L1449.5 449.5L1449.0 449.5L1448.5 449.5L1448.0 449.5L1447.5 449.5L1447.0 449.5L1446.5 449.5L1446.0 449.5L1445.5 449.5L1445.0 449.5L1444.5 449.5L1444.0 449.5L1443.5 449.5L1443.0 449.5L1442.5 449.5L1442.0 449.5L1441.5 449.5L1441.0 449.5L1440.5 449.5L1440.0 449.5L1439.5 449.5L1439.0 449.5L1438.5 449.5L1438.0 449.5L1437.5 449.5L1437.0 449.5L1436.5 449.5L1436.0 449.5L1435.5 449.5L1435.0 449.5L1434.5 449.5L1434.0 449.5L1433.5 449.5L1433.0 449.5L1432.5 449.5L1432.0 449.5L1431.5 449.5L1431.0 449.5L1430.5 449.5L1430.0 449.5L1429.5 449.5L1429.0 449.5L1428.5 449.5L1428.0 449.5L1427.5 449.5L1427.0 449.5L1426.5 449.5L1426.0 449.5L1425.5 449.5L1425.0 449.5L1424.5 449.5L1424.0 449.5L1423.5 449.5L1423.0 449.5L1422.5 449.5L1422.0 449.5L1421.5 449.5L1421.0 449.5L1420.5 449.5L1420.0 449.5L1419.5 448.3L1419.0 449.5L1418.5 449.5L1418.0 449.5L1417.5 449.5L1417.0 448.3L1416.5 449.5L1416.0 449.5L1415.5 449.5L1415.0 449.5L1414.5 449.5L1414.0 449.5L1413.5 449.5L1413.0 449.5L1412.5 449.5L1412.0 449.5L1411.5 449.5L1411.0 449.5L1410.5 449.5L1410.0 449.5L1409.5 449.5L1409.0 449.5L1408.5 449.5L1408.0 449.5L1407.5 449.5L1407.0 449.5L1406.5 449.5L1406.0 449.5L1405.5 448.3L1405.0 449.5L1404.5 449.5L1404.0 449.5L1403.5 449.5L1403.0 449.5L1402.5 449.5L1402.0 449.5L1401.5 447.9L1401.0 448.8L1400.5 448.6L1400.0 448.5L1399.5 448.3L1399.0 448.1L1398.5 447.0L1398.0 441.7L1397.5 439.4L1397.0 439.1L1396.5 438.9L1396.0 438.6L1395.5 438.3L1395.0 438.0L1394.5 437.7L1394.0 437.4L1393.5 437.1L1393.0 436.8L1392.5 436.5L1392.0 436.3L1391.5 434.6L1391.0 432.7L1390.5 430.7L1390.0 428.7L1389.5 426.8L1389.0 425.2L1388.5 424.0L1388.0 422.7L1387.5 421.4L1387.0 420.1L1386.5 418.9L1386.0 417.6L1385.5 417.7L1385.0 417.7L1384.5 417.8L1384.0 417.9L1383.5 417.9L1383.0 418.0L1382.5 418.1L1382.0 418.1L1381.5 418.2L1381.0 418.3L1380.5 418.3L1380.0 418.4L1379.5 418.5L1379.0 416.1L1378.5 410.1L1378.0 408.9L1377.5 409.0L1377.0 409.0L1376.5 409.0L1376.0 409.1L1375.5 409.1L1375.0 409.1L1374.5 409.2L1374.0 410.7L1373.5 414.5L1373.0 418.2L1372.5 422.0L1372.0 422.7L1371.5 423.4L1371.0 424.1L1370.5 424.9L1370.0 425.6L1369.5 426.3L1369.0 427.0L1368.5 426.9L1368.0 426.8L1367.5 426.7L1367.0 426.6L1366.5 426.5L1366.0 426.4L1365.5 426.3L1365.0 426.2L1364.5 426.1L1364.0 426.0L1363.5 421.3L1363.0 416.6L1362.5 411.9L1362.0 410.9L1361.5 410.7L1361.0 410.5L1360.5 410.3L1360.0 410.1L1359.5 410.0L1359.0 409.8L1358.5 409.6L1358.0 409.4L1357.5 409.2L1357.0 409.1L1356.5 408.9L1356.0 408.7L1355.5 408.5L1355.0 408.4L1354.5 408.2L1354.0 408.0L1353.5 408.2L1353.0 408.4L1352.5 408.5L1352.0 408.7L1351.5 408.9L1351.0 409.1L1350.5 410.1L1350.0 414.6L1349.5 419.0L1349.0 423.5L1348.5 424.8L1348.0 425.3L1347.5 425.8L1347.0 426.3L1346.5 426.8L1346.0 427.3L1345.5 427.8L1345.0 428.5L1344.5 429.2L1344.0 429.9L1343.5 430.7L1343.0 431.4L1342.5 432.1L1342.0 432.8L1341.5 439.8L1341.0 442.6L1340.5 442.6L1340.0 442.7L1339.5 442.7L1339.0 442.7L1338.5 442.7L1338.0 442.8L1337.5 442.8L1337.0 442.8L1336.5 442.8L1336.0 442.9L1335.5 442.9L1335.0 442.9L1334.5 442.9L1334.0 442.9L1333.5 443.0L1333.0 443.0L1332.5 444.5L1332.0 446.3L1331.5 446.7L1331.0 447.1L1330.5 447.4L1330.0 447.8L1329.5 448.2L1329.0 448.6L1328.5 448.9L1328.0 449.1L1327.5 449.3L1327.0 449.5L1326.5 449.5L1326.0 449.5L1325.5 449.5L1325.0 449.5L1324.5 449.5L1324.0 449.5L1323.5 449.5L1323.0 449.5L1322.5 449.5L1322.0 449.5L1321.5 448.3L1321.0 449.5L1320.5 449.5L1320.0 449.5L1319.5 449.5L1319.0 449.5L1318.5 449.5L1318.0 449.5L1317.5 449.5L1317.0 449.5L1316.5 449.5L1316.0 449.5L1315.5 449.5L1315.0 449.5L1314.5 449.5L1314.0 449.5L1313.5 449.5L1313.0 449.5L1312.5 449.5L1312.0 449.5L1311.5 449.5L1311.0 449.5L1310.5 449.5L1310.0 449.5L1309.5 449.5L1309.0 449.5L1308.5 449.5L1308.0 449.5L1307.5 449.5L1307.0 449.5L1306.5 448.3L1306.0 449.5L1305.5 449.5L1305.0 449.5L1304.5 449.5L1304.0 449.5L1303.5 449.5L1303.0 449.5L1302.5 449.5L1302.0 449.5L1301.5 449.5L1301.0 449.5L1300.5 449.5L1300.0 449.5L1299.5 449.5L1299.0 449.5L1298.5 449.5L1298.0 449.5L1297.5 449.5L1297.0 449.5L1296.5 449.5L1296.0 449.5L1295.5 448.3L1295.0 449.5L1294.5 449.5L1294.0 449.5L1293.5 449.5L1293.0 449.5L1292.5 449.5L1292.0 448.3L1291.5 449.5L1291.0 449.5L1290.5 449.5L1290.0 449.5L1289.5 449.5L1289.0 449.5L1288.5 449.5L1288.0 448.3L1287.5 449.5L1287.0 449.5L1286.5 449.5L1286.0 449.5L1285.5 449.5L1285.0 449.5L1284.5 449.5L1284.0 449.5L1283.5 449.5L1283.0 449.5L1282.5 449.5L1282.0 449.5L1281.5 449.5L1281.0 449.5L1280.5 449.5L1280.0 449.5L1279.5 449.5L1279.0 449.5L1278.5 449.5L1278.0 448.3L1277.5 449.5L1277.0 449.5L1276.5 449.5L1276.0 449.5L1275.5 449.5L1275.0 449.5L1274.5 449.5L1274.0 449.5L1273.5 449.5L1273.0 449.5L1272.5 449.5L1272.0 449.5L1271.5 449.5L1271.0 449.5L1270.5 449.5L1270.0 449.5L1269.5 449.5L1269.0 449.5L1268.5 449.5L1268.0 449.5L1267.5 449.5L1267.0 449.5L1266.5 449.5L1266.0 449.5L1265.5 449.5L1265.0 449.5L1264.5 449.5L1264.0 449.5L1263.5 449.5L1263.0 449.5L1262.5 449.5L1262.0 449.5L1261.5 449.5L1261.0 449.5L1260.5 449.5L1260.0 449.5L1259.5 449.5L1259.0 449.5L1258.5 449.5L1258.0 449.5L1257.5 449.5L1257.0 449.5L1256.5 449.5L1256.0 449.5L1255.5 449.5L1255.0 449.5L1254.5 449.5L1254.0 449.5L1253.5 449.5L1253.0 449.5L1252.5 449.5L1252.0 449.5L1251.5 449.5L1251.0 449.5L1250.5 449.5L1250.0 449.5L1249.5 449.5L1249.0 449.5L1248.5 449.5L1248.0 449.5L1247.5 449.5L1247.0 449.5L1246.5 449.5L1246.0 449.5L1245.5 449.5L1245.0 449.5L1244.5 449.5L1244.0 449.5L1243.5 449.5L1243.0 449.5L1242.5 449.5L1242.0 449.5L1241.5 449.5L1241.0 449.5L1240.5 449.5L1240.0 449.5L1239.5 448.3L1239.0 449.5L1238.5 449.5L1238.0 449.5L1237.5 449.5L1237.0 449.5L1236.5 449.5L1236.0 449.5L1235.5 449.5L1235.0 449.5L1234.5 449.5L1234.0 449.5L1233.5 449.5L1233.0 449.5L1232.5 449.5L1232.0 449.5L1231.5 449.1L1231.0 448.8L1230.5 448.6L1230.0 448.3L1229.5 448.1L1229.0 447.8L1228.5 447.6L1228.0 447.3L1227.5 447.1L1227.0 446.8L1226.5 446.6L1226.0 446.3L1225.5 445.5L1225.0 444.7L1224.5 443.9L1224.0 443.1L1223.5 442.3L1223.0 441.5L1222.5 440.6L1222.0 439.8L1221.5 439.0L1221.0 438.2L1220.5 435.8L1220.0 432.3L1219.5 428.9L1219.0 425.4L1218.5 421.9L1218.0 418.5L1217.5 415.0L1217.0 413.9L1216.5 413.4L1216.0 412.9L1215.5 412.4L1215.0 411.9L1214.5 411.4L1214.0 410.8L1213.5 410.3L1213.0 409.8L1212.5 409.3L1212.0 408.8L1211.5 408.3L1211.0 407.8L1210.5 394.1L1210.0 381.3L1209.5 382.4L1209.0 383.5L1208.5 384.6L1208.0 385.7L1207.5 386.9L1207.0 389.1L1206.5 392.2L1206.0 395.3L1205.5 398.3L1205.0 401.4L1204.5 404.4L1204.0 407.5L1203.5 408.4L1203.0 409.2L1202.5 410.1L1202.0 410.9L1201.5 411.8L1201.0 412.6L1200.5 413.4L1200.0 414.3L1199.5 415.1L1199.0 416.0L1198.5 418.3L1198.0 420.5L1197.5 422.8L1197.0 425.1L1196.5 427.3L1196.0 429.6L1195.5 431.9L1195.0 434.2L1194.5 436.4L1194.0 438.7L1193.5 440.1L1193.0 440.9L1192.5 441.8L1192.0 442.6L1191.5 443.5L1191.0 444.3L1190.5 445.1L1190.0 446.0L1189.5 446.8L1189.0 447.7L1188.5 448.1L1188.0 448.2L1187.5 448.3L1187.0 448.4L1186.5 448.5L1186.0 448.7L1185.5 448.8L1185.0 449.0L1184.5 449.2L1184.0 449.5L1183.5 449.5L1183.0 449.5L1182.5 449.5L1182.0 449.5L1181.5 449.5L1181.0 449.5L1180.5 449.5L1180.0 449.5L1179.5 449.5L1179.0 449.5L1178.5 449.5L1178.0 449.5L1177.5 449.5L1177.0 449.5L1176.5 449.5L1176.0 449.5L1175.5 449.5L1175.0 449.5L1174.5 449.5L1174.0 449.5L1173.5 449.5L1173.0 449.5L1172.5 448.3L1172.0 449.5L1171.5 449.5L1171.0 449.5L1170.5 449.5L1170.0 449.5L1169.5 449.5L1169.0 449.5L1168.5 449.5L1168.0 449.5L1167.5 449.5L1167.0 449.5L1166.5 449.5L1166.0 449.5L1165.5 449.5L1165.0 449.5L1164.5 449.5L1164.0 449.5L1163.5 449.5L1163.0 449.5L1162.5 449.5L1162.0 449.5L1161.5 449.5L1161.0 449.5L1160.5 449.5L1160.0 449.5L1159.5 448.3L1159.0 449.5L1158.5 449.5L1158.0 449.5L1157.5 449.5L1157.0 449.5L1156.5 449.5L1156.0 449.5L1155.5 449.5L1155.0 449.5L1154.5 449.5L1154.0 449.5L1153.5 449.5L1153.0 449.5L1152.5 449.5L1152.0 449.5L1151.5 449.5L1151.0 449.5L1150.5 449.5L1150.0 449.5L1149.5 449.5L1149.0 448.3L1148.5 449.5L1148.0 449.5L1147.5 449.5L1147.0 449.5L1146.5 449.5L1146.0 449.5L1145.5 449.5L1145.0 449.5L1144.5 449.5L1144.0 449.5L1143.5 449.5L1143.0 449.5L1142.5 448.3L1142.0 449.5L1141.5 449.5L1141.0 449.5L1140.5 449.5L1140.0 449.5L1139.5 449.5L1139.0 449.5L1138.5 449.5L1138.0 449.5L1137.5 449.5L1137.0 449.5L1136.5 449.5L1136.0 449.5L1135.5 449.5L1135.0 449.5L1134.5 449.5L1134.0 449.5L1133.5 449.5L1133.0 449.5L1132.5 449.5L1132.0 449.5L1131.5 449.5L1131.0 449.5L1130.5 449.5L1130.0 449.5L1129.5 449.5L1129.0 449.5L1128.5 449.5L1128.0 449.5L1127.5 449.5L1127.0 449.5L1126.5 449.5L1126.0 449.5L1125.5 449.5L1125.0 449.5L1124.5 449.5L1124.0 449.5L1123.5 449.5L1123.0 449.5L1122.5 449.5L1122.0 449.5L1121.5 449.5L1121.0 449.5L1120.5 449.5L1120.0 449.5L1119.5 449.5L1119.0 449.5L1118.5 449.5L1118.0 449.5L1117.5 449.5L1117.0 449.5L1116.5 449.5L1116.0 449.5L1115.5 449.5L1115.0 449.5L1114.5 449.5L1114.0 449.5L1113.5 449.5L1113.0 449.5L1112.5 449.5L1112.0 449.5L1111.5 449.5L1111.0 449.5L1110.5 449.5L1110.0 448.3L1109.5 449.5L1109.0 449.5L1108.5 449.5L1108.0 449.5L1107.5 449.5L1107.0 449.5L1106.5 449.5L1106.0 449.5L1105.5 449.5L1105.0 449.5L1104.5 449.5L1104.0 449.5L1103.5 449.5L1103.0 449.5L1102.5 449.5L1102.0 449.5L1101.5 449.5L1101.0 449.5L1100.5 448.3L1100.0 449.5L1099.5 449.5L1099.0 449.5L1098.5 449.5L1098.0 449.5L1097.5 449.5L1097.0 449.5L1096.5 449.5L1096.0 449.5L1095.5 449.5L1095.0 449.5L1094.5 449.5L1094.0 449.5L1093.5 449.5L1093.0 449.5L1092.5 449.5L1092.0 449.5L1091.5 449.5L1091.0 449.5L1090.5 449.5L1090.0 448.3L1089.5 449.5L1089.0 448.3L1088.5 449.5L1088.0 449.5L1087.5 449.5L1087.0 449.5L1086.5 448.3L1086.0 449.5L1085.5 449.5L1085.0 449.5L1084.5 449.5L1084.0 449.5L1083.5 449.5L1083.0 449.5L1082.5 449.5L1082.0 449.5L1081.5 449.5L1081.0 449.5L1080.5 449.5L1080.0 449.5L1079.5 449.5L1079.0 449.5L1078.5 449.5L1078.0 449.5L1077.5 449.5L1077.0 449.5L1076.5 449.5L1076.0 449.5L1075.5 449.5L1075.0 449.5L1074.5 449.5L1074.0 449.5L1073.5 449.5L1073.0 449.5L1072.5 449.5L1072.0 449.5L1071.5 449.5L1071.0 449.5L1070.5 449.5L1070.0 449.5L1069.5 449.5L1069.0 449.5L1068.5 449.5L1068.0 449.5L1067.5 449.5L1067.0 449.5L1066.5 449.5L1066.0 449.5L1065.5 449.5L1065.0 449.5L1064.5 449.5L1064.0 449.5L1063.5 449.5L1063.0 449.5L1062.5 449.5L1062.0 449.5L1061.5 449.5L1061.0 449.5L1060.5 449.5L1060.0 449.5L1059.5 449.5L1059.0 448.3L1058.5 449.5L1058.0 449.5L1057.5 449.5L1057.0 449.5L1056.5 449.5L1056.0 449.5L1055.5 449.5L1055.0 449.5L1054.5 449.5L1054.0 449.5L1053.5 449.5L1053.0 449.5L1052.5 449.5L1052.0 448.3L1051.5 449.5L1051.0 449.5L1050.5 449.5L1050.0 449.5L1049.5 449.5L1049.0 449.5L1048.5 449.5L1048.0 449.5L1047.5 449.5L1047.0 449.5L1046.5 449.5L1046.0 449.5L1045.5 449.5L1045.0 449.5L1044.5 449.5L1044.0 449.5L1043.5 449.5L1043.0 449.5L1042.5 449.5L1042.0 449.5L1041.5 449.5L1041.0 449.5L1040.5 449.5L1040.0 449.5L1039.5 448.3L1039.0 449.5L1038.5 449.5L1038.0 449.5L1037.5 449.5L1037.0 449.5L1036.5 449.5L1036.0 449.5L1035.5 449.5L1035.0 449.5L1034.5 449.5L1034.0 449.5L1033.5 449.5L1033.0 449.5L1032.5 449.5L1032.0 449.5L1031.5 449.5L1031.0 449.5L1030.5 449.5L1030.0 449.5L1029.5 448.3L1029.0 449.5L1028.5 449.5L1028.0 449.5L1027.5 449.5L1027.0 448.3L1026.5 449.5L1026.0 449.5L1025.5 449.5L1025.0 449.5L1024.5 449.5L1024.0 449.5L1023.5 449.5L1023.0 449.5L1022.5 449.5L1022.0 449.5L1021.5 449.5L1021.0 449.5L1020.5 449.5L1020.0 449.5L1019.5 449.5L1019.0 449.5L1018.5 449.5L1018.0 449.5L1017.5 449.5L1017.0 449.5L1016.5 449.5L1016.0 449.5L1015.5 449.5L1015.0 449.5L1014.5 449.5L1014.0 449.5L1013.5 449.5L1013.0 449.5L1012.5 449.5L1012.0 449.5L1011.5 449.5L1011.0 449.5L1010.5 449.5L1010.0 449.5L1009.5 449.5L1009.0 449.5L1008.5 449.5L1008.0 449.5L1007.5 449.5L1007.0 449.5L1006.5 449.5L1006.0 449.5L1005.5 449.5L1005.0 449.5L1004.5 449.5L1004.0 449.5L1003.5 449.5L1003.0 449.5L1002.5 449.5L1002.0 449.5L1001.5 449.5L1001.0 449.5L1000.5 449.5L1000.0 449.5L999.5 449.5L999.0 449.5L998.5 449.5L998.0 449.5L997.5 449.5L997.0 449.5L996.5 449.5L996.0 449.5L995.5 449.5L995.0 449.5L994.5 449.5L994.0 449.5L993.5 449.5L993.0 449.5L992.5 449.5L992.0 449.5L991.5 448.3L991.0 449.5L990.5 449.5L990.0 449.5L989.5 449.5L989.0 449.5L988.5 449.5L988.0 449.5L987.5 449.5L987.0 448.3L986.5 449.5L986.0 449.5L985.5 449.5L985.0 449.5L984.5 449.5L984.0 449.5L983.5 449.1L983.0 448.8L982.5 448.4L982.0 448.0L981.5 447.6L981.0 447.2L980.5 446.8L980.0 446.5L979.5 446.1L979.0 445.6L978.5 445.2L978.0 444.8L977.5 444.4L977.0 444.0L976.5 443.6L976.0 443.1L975.5 442.7L975.0 442.3L974.5 441.9L974.0 441.5L973.5 441.1L973.0 440.6L972.5 440.2L972.0 439.8L971.5 439.4L971.0 439.0L970.5 438.6L970.0 438.1L969.5 437.5L969.0 436.6L968.5 435.8L968.0 434.9L967.5 434.0L967.0 433.1L966.5 432.2L966.0 431.3L965.5 430.4L965.0 429.5L964.5 428.6L964.0 427.7L963.5 426.8L963.0 425.9L962.5 425.0L962.0 424.1L961.5 423.2L961.0 422.2L960.5 421.0L960.0 419.8L959.5 418.6L959.0 417.4L958.5 416.3L958.0 415.1L957.5 413.9L957.0 412.7L956.5 411.5L956.0 410.3L955.5 409.1L955.0 407.9L954.5 406.7L954.0 407.4L953.5 408.1L953.0 408.8L952.5 409.5L952.0 410.2L951.5 410.9L951.0 411.6L950.5 412.3L950.0 412.9L949.5 413.6L949.0 414.3L948.5 415.0L948.0 415.7L947.5 418.2L947.0 421.9L946.5 425.6L946.0 429.3L945.5 433.0L945.0 436.8L944.5 440.5L944.0 441.8L943.5 442.5L943.0 443.3L942.5 444.1L942.0 444.8L941.5 445.6L941.0 446.3L940.5 446.8L940.0 447.3L939.5 447.8L939.0 448.3L938.5 448.9L938.0 449.5L937.5 449.5L937.0 449.5L936.5 449.5L936.0 449.5L935.5 449.5L935.0 449.5L934.5 449.5L934.0 449.5L933.5 449.5L933.0 449.5L932.5 449.5L932.0 449.5L931.5 449.5L931.0 449.5L930.5 449.5L930.0 449.5L929.5 449.5L929.0 449.5L928.5 449.5L928.0 446.2L927.5 443.0L927.0 443.0L926.5 443.0L926.0 443.0L925.5 443.0L925.0 443.0L924.5 443.0L924.0 443.0L923.5 446.2L923.0 449.5L922.5 449.5L922.0 449.5L921.5 449.5L921.0 449.5L920.5 449.5L920.0 449.5L919.5 449.5L919.0 449.5L918.5 449.5L918.0 449.5L917.5 449.5L917.0 449.5L916.5 449.5L916.0 449.5L915.5 449.5L915.0 449.5L914.5 449.5L914.0 449.5L913.5 449.5L913.0 449.5L912.5 449.5L912.0 449.5L911.5 449.5L911.0 449.5L910.5 449.5L910.0 449.5L909.5 449.5L909.0 449.5L908.5 449.5L908.0 449.5L907.5 449.5L907.0 449.5L906.5 449.5L906.0 449.5L905.5 449.5L905.0 449.5L904.5 449.5L904.0 449.5L903.5 449.5L903.0 448.3L902.5 449.5L902.0 449.5L901.5 449.5L901.0 449.5L900.5 449.5L900.0 449.5L899.5 449.5L899.0 449.5L898.5 449.5L898.0 449.5L897.5 449.5L897.0 449.5L896.5 449.5L896.0 449.5L895.5 449.5L895.0 449.5L894.5 449.5L894.0 448.3L893.5 449.5L893.0 449.5L892.5 449.5L892.0 449.5L891.5 449.5L891.0 449.5L890.5 449.5L890.0 449.5L889.5 449.5L889.0 449.5L888.5 449.5L888.0 449.5L887.5 449.5L887.0 449.5L886.5 449.5L886.0 449.5L885.5 449.5L885.0 449.5L884.5 449.5L884.0 449.5L883.5 449.5L883.0 449.5L882.5 449.5L882.0 449.5L881.5 449.5L881.0 449.5L880.5 449.5L880.0 449.5L879.5 449.5L879.0 449.5L878.5 449.5L878.0 449.5L877.5 449.5L877.0 449.5L876.5 449.5L876.0 449.5L875.5 449.5L875.0 449.5L874.5 449.5L874.0 449.5L873.5 449.5L873.0 449.5L872.5 449.5L872.0 449.5L871.5 449.5L871.0 449.5L870.5 449.5L870.0 449.5L869.5 449.5L869.0 449.5L868.5 449.5L868.0 449.5L867.5 449.5L867.0 449.5L866.5 449.5L866.0 449.5L865.5 449.5L865.0 449.5L864.5 449.5L864.0 449.5L863.5 449.5L863.0 449.5L862.5 449.5L862.0 449.5L861.5 449.5L861.0 449.5L860.5 449.5L860.0 449.5L859.5 449.5L859.0 449.5L858.5 449.5L858.0 449.5L857.5 449.5L857.0 449.5L856.5 449.5L856.0 449.5L855.5 449.5L855.0 449.5L854.5 449.5L854.0 449.5L853.5 449.5L853.0 449.5L852.5 449.5L852.0 449.5L851.5 448.3L851.0 449.5L850.5 449.5L850.0 449.5L849.5 449.5L849.0 449.5L848.5 449.5L848.0 449.5L847.5 449.5L847.0 449.5L846.5 449.5L846.0 449.5L845.5 449.5L845.0 449.5L844.5 449.5L844.0 449.5L843.5 449.5L843.0 449.5L842.5 449.5L842.0 449.5L841.5 449.5L841.0 449.5L840.5 449.5L840.0 449.5L839.5 448.3L839.0 449.5L838.5 449.5L838.0 449.5L837.5 449.5L837.0 449.5L836.5 449.5L836.0 449.5L835.5 449.5L835.0 449.5L834.5 449.5L834.0 449.5L833.5 449.5L833.0 449.5L832.5 449.5L832.0 449.5L831.5 449.5L831.0 449.5L830.5 449.5L830.0 449.5L829.5 449.5L829.0 449.5L828.5 449.5L828.0 449.5L827.5 449.5L827.0 449.5L826.5 449.5L826.0 449.5L825.5 449.5L825.0 449.5L824.5 449.5L824.0 449.5L823.5 449.5L823.0 449.5L822.5 449.5L822.0 449.5L821.5 449.5L821.0 449.5L820.5 449.5L820.0 449.5L819.5 449.5L819.0 449.5L818.5 449.5L818.0 449.5L817.5 449.5L817.0 449.5L816.5 449.5L816.0 449.5L815.5 449.5L815.0 449.5L814.5 449.5L814.0 449.5L813.5 449.5L813.0 449.5L812.5 449.5L812.0 449.5L811.5 449.5L811.0 449.5L810.5 449.5L810.0 449.5L809.5 449.5L809.0 449.5L808.5 449.5L808.0 449.5L807.5 449.5L807.0 449.5L806.5 449.5L806.0 449.5L805.5 449.5L805.0 448.3L804.5 449.5L804.0 449.5L803.5 449.5L803.0 449.5L802.5 449.5L802.0 449.5L801.5 449.5L801.0 449.5L800.5 449.5L800.0 449.5L799.5 449.5L799.0 449.5L798.5 449.5L798.0 449.5L797.5 449.5L797.0 449.5L796.5 449.5L796.0 449.5L795.5 449.5L795.0 449.5L794.5 449.5L794.0 449.5L793.5 449.5L793.0 449.5L792.5 449.5L792.0 449.5L791.5 449.5L791.0 449.5L790.5 449.5L790.0 449.5L789.5 449.5L789.0 449.5L788.5 449.5L788.0 449.5L787.5 449.5L787.0 449.5L786.5 449.5L786.0 449.5L785.5 449.5L785.0 449.5L784.5 449.5L784.0 449.5L783.5 448.3L783.0 449.5L782.5 449.5L782.0 449.5L781.5 449.5L781.0 449.5L780.5 449.5L780.0 449.5L779.5 449.5L779.0 449.5L778.5 449.5L778.0 449.5L777.5 449.5L777.0 449.5L776.5 449.5L776.0 448.3L775.5 449.5L775.0 449.5L774.5 449.5L774.0 449.5L773.5 449.5L773.0 449.5L772.5 449.5L772.0 449.5L771.5 449.5L771.0 449.5L770.5 449.5L770.0 449.5L769.5 449.5L769.0 449.5L768.5 449.5L768.0 449.5L767.5 449.5L767.0 449.5L766.5 449.5L766.0 449.5L765.5 449.5L765.0 449.5L764.5 449.5L764.0 449.5L763.5 449.5L763.0 449.5L762.5 449.5L762.0 449.5L761.5 449.5L761.0 449.5L760.5 449.5L760.0 449.5L759.5 449.5L759.0 449.5L758.5 449.5L758.0 449.5L757.5 449.5L757.0 449.5L756.5 449.5L756.0 449.5L755.5 449.5L755.0 449.5L754.5 449.5L754.0 449.5L753.5 449.5L753.0 449.5L752.5 449.5L752.0 449.5L751.5 449.5L751.0 449.5L750.5 449.5L750.0 449.5L749.5 449.5L749.0 449.5L748.5 448.3L748.0 449.5L747.5 449.5L747.0 449.5L746.5 449.5L746.0 449.5L745.5 449.5L745.0 449.5L744.5 449.5L744.0 449.5L743.5 449.5L743.0 449.5L742.5 449.5L742.0 449.5L741.5 449.5L741.0 449.5L740.5 449.5L740.0 449.5L739.5 448.3L739.0 449.5L738.5 449.5L738.0 449.5L737.5 449.5L737.0 449.5L736.5 449.5L736.0 449.5L735.5 449.5L735.0 449.5L734.5 449.5L734.0 449.5L733.5 449.5L733.0 449.5L732.5 449.5L732.0 449.5L731.5 449.5L731.0 449.5L730.5 449.5L730.0 449.5L729.5 449.5L729.0 449.5L728.5 449.5L728.0 449.5L727.5 449.5L727.0 449.5L726.5 449.5L726.0 449.5L725.5 449.5L725.0 449.5L724.5 449.5L724.0 449.5L723.5 449.5L723.0 449.5L722.5 449.5L722.0 449.5L721.5 449.5L721.0 449.5L720.5 449.5L720.0 449.5L719.5 449.5L719.0 449.5L718.5 449.5L718.0 449.5L717.5 449.5L717.0 449.5L716.5 449.5L716.0 449.5L715.5 449.5L715.0 449.5L714.5 449.5L714.0 449.5L713.5 449.5L713.0 449.5L712.5 449.5L712.0 449.5L711.5 449.5L711.0 449.5L710.5 449.5L710.0 449.5L709.5 449.5L709.0 449.5L708.5 449.5L708.0 449.5L707.5 449.5L707.0 449.5L706.5 449.5L706.0 449.5L705.5 449.5L705.0 449.5L704.5 449.5L704.0 449.5L703.5 449.5L703.0 448.3L702.5 449.5L702.0 449.5L701.5 449.5L701.0 449.5L700.5 449.5L700.0 449.5L699.5 449.5L699.0 449.5L698.5 449.5L698.0 449.5L697.5 449.5L697.0 449.5L696.5 449.5L696.0 449.5L695.5 449.5L695.0 449.5L694.5 449.5L694.0 449.5L693.5 449.5L693.0 449.5L692.5 449.5L692.0 449.5L691.5 449.5L691.0 449.5L690.5 449.5L690.0 449.5L689.5 449.5L689.0 449.5L688.5 449.5L688.0 449.5L687.5 449.5L687.0 449.5L686.5 449.5L686.0 449.5L685.5 449.5L685.0 449.5L684.5 449.5L684.0 449.5L683.5 449.5L683.0 449.5L682.5 449.5L682.0 449.5L681.5 449.5L681.0 449.5L680.5 449.5L680.0 449.5L679.5 449.5L679.0 449.5L678.5 449.5L678.0 449.5L677.5 449.5L677.0 449.5L676.5 449.5L676.0 449.5L675.5 449.5L675.0 449.5L674.5 449.5L674.0 449.5L673.5 448.7L673.0 447.8L672.5 447.1L672.0 446.7L671.5 446.3L671.0 445.8L670.5 445.4L670.0 445.0L669.5 444.5L669.0 444.1L668.5 443.7L668.0 439.4L667.5 429.3L667.0 429.0L666.5 428.8L666.0 428.5L665.5 428.3L665.0 428.0L664.5 423.4L664.0 421.5L663.5 421.3L663.0 421.1L662.5 420.8L662.0 420.6L661.5 420.4L661.0 402.3L660.5 402.0L660.0 401.8L659.5 401.5L659.0 401.3L658.5 401.0L658.0 394.1L657.5 387.2L657.0 379.0L656.5 369.0L656.0 359.0L655.5 353.1L655.0 348.3L654.5 343.2L654.0 337.0L653.5 330.9L653.0 324.7L652.5 314.7L652.0 298.9L651.5 283.2L651.0 270.5L650.5 258.7L650.0 246.8L649.5 235.0L649.0 221.5L648.5 208.1L648.0 198.6L647.5 195.3L647.0 191.9L646.5 188.5L646.0 185.1L645.5 181.8L645.0 178.4L644.5 175.0L644.0 181.0L643.5 186.9L643.0 192.9L642.5 198.8L642.0 207.4L641.5 216.6L641.0 225.8L640.5 235.0L640.0 246.8L639.5 258.7L639.0 270.5L638.5 282.1L638.0 292.8L637.5 303.4L637.0 314.0L636.5 323.8L636.0 330.2L635.5 336.7L635.0 343.1L634.5 348.5L634.0 352.2L633.5 355.8L633.0 359.5L632.5 369.9L632.0 382.8L631.5 388.2L631.0 393.6L630.5 399.0L630.0 406.3L629.5 416.4L629.0 417.0L628.5 417.6L628.0 418.2L627.5 418.8L627.0 419.4L626.5 420.1L626.0 422.1L625.5 425.0L625.0 428.0L624.5 429.0L624.0 430.1L623.5 431.1L623.0 432.2L622.5 433.2L622.0 433.9L621.5 434.5L621.0 435.2L620.5 435.8L620.0 436.5L619.5 437.1L619.0 437.8L618.5 438.5L618.0 439.2L617.5 440.0L617.0 440.7L616.5 441.4L616.0 442.2L615.5 444.2L615.0 446.1L614.5 447.6L614.0 448.2L613.5 448.9L613.0 449.5L612.5 449.5L612.0 449.5L611.5 449.5L611.0 449.5L610.5 449.5L610.0 449.5L609.5 449.5L609.0 449.5L608.5 449.5L608.0 449.5L607.5 449.5L607.0 449.5L606.5 449.5L606.0 449.5L605.5 449.5L605.0 449.5L604.5 449.5L604.0 449.5L603.5 449.5L603.0 449.5L602.5 449.5L602.0 448.3L601.5 449.5L601.0 449.5L600.5 449.5L600.0 449.5L599.5 449.5L599.0 449.5L598.5 449.5L598.0 449.5L597.5 449.5L597.0 449.5L596.5 449.5L596.0 449.5L595.5 449.5L595.0 449.5L594.5 449.5L594.0 449.5L593.5 449.5L593.0 449.5L592.5 449.5L592.0 449.5L591.5 449.5L591.0 449.5L590.5 449.5L590.0 449.5L589.5 449.5L589.0 449.5L588.5 449.5L588.0 449.5L587.5 449.5L587.0 449.5L586.5 449.5L586.0 449.5L585.5 449.5L585.0 449.5L584.5 449.5L584.0 449.5L583.5 449.5L583.0 449.5L582.5 449.5L582.0 449.5L581.5 449.5L581.0 448.3L580.5 449.5L580.0 449.5L579.5 449.5L579.0 449.5L578.5 449.5L578.0 449.5L577.5 449.5L577.0 449.5L576.5 449.5L576.0 449.5L575.5 449.5L575.0 449.5L574.5 449.5L574.0 449.5L573.5 449.5L573.0 449.5L572.5 449.5L572.0 449.5L571.5 449.5L571.0 449.5L570.5 448.3L570.0 449.5L569.5 449.5L569.0 449.5L568.5 449.5L568.0 449.5L567.5 449.5L567.0 449.5L566.5 449.5L566.0 448.3L565.5 449.5L565.0 449.5L564.5 449.5L564.0 449.5L563.5 449.5L563.0 449.5L562.5 449.5L562.0 449.5L561.5 449.5L561.0 449.5L560.5 449.5L560.0 448.3L559.5 449.5L559.0 449.5L558.5 449.5L558.0 449.5L557.5 449.5L557.0 449.5L556.5 449.5L556.0 449.5L555.5 449.5L555.0 449.5L554.5 449.5L554.0 449.5L553.5 449.5L553.0 449.5L552.5 449.5L552.0 449.5L551.5 449.5L551.0 449.5L550.5 449.5L550.0 449.5L549.5 449.5L549.0 449.5L548.5 449.5L548.0 449.5L547.5 449.5L547.0 448.3L546.5 449.5L546.0 449.5L545.5 449.5L545.0 449.5L544.5 449.5L544.0 449.5L543.5 449.5L543.0 449.5L542.5 449.5L542.0 449.5L541.5 449.5L541.0 449.5L540.5 449.5L540.0 449.5L539.5 449.5L539.0 449.5L538.5 449.5L538.0 449.5L537.5 449.5L537.0 449.5L536.5 449.5L536.0 449.5L535.5 449.5L535.0 449.5L534.5 449.5L534.0 449.5L533.5 449.5L533.0 449.5L532.5 449.5L532.0 448.3L531.5 449.5L531.0 449.5L530.5 449.5L530.0 449.5L529.5 449.5L529.0 449.5L528.5 449.5L528.0 449.5L527.5 449.5L527.0 449.5L526.5 449.5L526.0 449.5L525.5 449.5L525.0 448.3L524.5 449.5L524.0 449.5L523.5 449.5L523.0 449.5L522.5 449.5L522.0 449.5L521.5 449.5L521.0 449.5L520.5 449.5L520.0 449.5L519.5 449.5L519.0 449.5L518.5 449.5L518.0 449.5L517.5 449.5L517.0 449.5L516.5 449.5L516.0 449.5L515.5 449.5L515.0 449.5L514.5 449.5L514.0 449.5L513.5 449.5L513.0 449.5L512.5 449.5L512.0 449.5L511.5 449.5L511.0 449.5L510.5 449.5L510.0 449.5L509.5 449.5L509.0 449.5L508.5 449.5L508.0 449.5L507.5 449.5L507.0 449.5L506.5 449.5L506.0 449.5L505.5 449.5L505.0 449.5L504.5 449.5L504.0 449.5L503.5 449.5L503.0 448.3L502.5 448.3L502.0 449.5L501.5 449.5L501.0 449.5L500.5 449.5L500.0 449.5L499.5 449.5L499.0 449.5L498.5 449.5L498.0 449.5L497.5 449.5L497.0 449.5L496.5 449.5L496.0 449.5L495.5 449.5L495.0 449.5L494.5 449.5L494.0 449.5L493.5 449.5L493.0 449.5L492.5 449.5L492.0 449.5L491.5 449.5L491.0 449.5L490.5 449.5L490.0 449.5L489.5 449.5L489.0 449.5L488.5 449.5L488.0 449.5L487.5 449.5L487.0 449.5L486.5 449.5L486.0 449.5L485.5 449.5L485.0 448.3L484.5 449.5L484.0 449.5L483.5 449.5L483.0 449.5L482.5 449.5L482.0 449.5L481.5 449.5L481.0 449.5L480.5 449.5L480.0 449.5L479.5 449.5L479.0 449.5L478.5 449.5L478.0 449.5L477.5 449.5L477.0 449.5L476.5 449.5L476.0 449.5L475.5 449.5L475.0 449.5L474.5 449.5L474.0 449.5L473.5 449.5L473.0 449.5L472.5 449.5L472.0 449.5L471.5 449.5L471.0 449.5L470.5 449.5L470.0 449.5L469.5 449.5L469.0 449.5L468.5 448.3L468.0 449.5L467.5 449.5L467.0 449.5L466.5 449.5L466.0 448.3L465.5 449.5L465.0 449.5L464.5 449.5L464.0 449.5L463.5 449.5L463.0 449.5L462.5 449.5L462.0 449.5L461.5 449.5L461.0 449.5L460.5 449.5L460.0 449.5L459.5 449.5L459.0 449.5L458.5 449.5L458.0 449.5L457.5 449.5L457.0 449.5L456.5 449.5L456.0 449.5L455.5 449.5L455.0 449.5L454.5 449.5L454.0 449.5L453.5 449.5L453.0 449.5L452.5 449.5L452.0 449.5L451.5 449.5L451.0 449.5L450.5 449.5L450.0 449.5L449.5 449.5L449.0 449.5L448.5 448.3L448.0 449.5L447.5 449.5L447.0 449.5L446.5 449.5L446.0 449.5L445.5 449.5L445.0 449.5L444.5 449.5L444.0 448.3L443.5 449.5L443.0 449.5L442.5 449.5L442.0 449.5L441.5 449.5L441.0 449.5L440.5 449.5L440.0 449.5L439.5 449.5L439.0 449.5L438.5 449.5L438.0 449.5L437.5 449.5L437.0 449.5L436.5 449.5L436.0 449.5L435.5 449.5L435.0 449.5L434.5 449.5L434.0 449.5L433.5 449.5L433.0 449.5L432.5 449.5L432.0 449.5L431.5 449.5L431.0 449.5L430.5 449.5L430.0 449.5L429.5 449.5L429.0 449.5L428.5 449.5L428.0 449.5L427.5 449.5L427.0 449.5L426.5 449.5L426.0 449.5L425.5 449.5L425.0 449.5L424.5 449.5L424.0 449.5L423.5 449.5L423.0 449.5L422.5 449.5L422.0 449.5L421.5 449.5L421.0 449.5L420.5 449.5L420.0 449.5L419.5 449.5L419.0 449.5L418.5 449.5L418.0 449.5L417.5 449.5L417.0 449.5L416.5 449.5L416.0 449.5L415.5 449.5L415.0 449.5L414.5 449.5L414.0 449.5L413.5 449.5L413.0 449.5L412.5 449.5L412.0 449.5L411.5 449.5L411.0 449.5L410.5 449.5L410.0 449.5L409.5 449.5L409.0 449.5L408.5 449.5L408.0 449.5L407.5 449.5L407.0 449.5L406.5 449.5L406.0 449.5L405.5 449.5L405.0 449.5L404.5 449.5L404.0 449.5L403.5 449.5L403.0 449.5L402.5 449.5L402.0 449.5L401.5 449.5L401.0 449.5L400.5 449.5L400.0 449.5L399.5 449.5L399.0 449.5L398.5 449.5L398.0 449.5L397.5 449.5L397.0 449.5L396.5 449.5L396.0 449.5L395.5 449.5L395.0 449.5L394.5 449.5L394.0 449.5L393.5 449.5L393.0 449.5L392.5 449.5L392.0 449.5L391.5 449.5L391.0 449.5L390.5 449.5L390.0 449.5L389.5 449.5L389.0 449.5L388.5 449.5L388.0 449.5L387.5 449.5L387.0 449.5L386.5 449.5L386.0 449.5L385.5 449.5L385.0 449.5L384.5 449.5L384.0 449.5L383.5 449.5L383.0 449.5L382.5 449.5L382.0 449.5L381.5 449.5L381.0 449.5L380.5 449.5L380.0 449.5L379.5 449.5L379.0 449.5L378.5 449.5L378.0 449.5L377.5 449.5L377.0 449.5L376.5 449.5L376.0 449.5L375.5 449.5L375.0 449.5L374.5 449.5L374.0 449.5L373.5 449.5L373.0 449.5L372.5 449.5L372.0 449.5L371.5 449.5L371.0 449.5L370.5 449.5L370.0 449.5L369.5 449.5L369.0 449.5L368.5 449.5L368.0 449.5L367.5 449.5L367.0 449.5L366.5 449.5L366.0 449.5L365.5 449.5L365.0 449.5L364.5 449.5L364.0 449.5L363.5 449.5L363.0 449.5L362.5 449.5L362.0 449.5L361.5 449.5L361.0 449.5L360.5 449.5L360.0 449.5L359.5 449.5L359.0 449.5L358.5 449.5L358.0 449.5L357.5 449.5L357.0 449.5L356.5 449.5L356.0 449.5L355.5 449.5L355.0 449.5L354.5 449.5L354.0 449.5L353.5 449.5L353.0 449.5L352.5 449.5L352.0 449.5L351.5 449.5L351.0 449.5L350.5 449.5L350.0 449.5L349.5 449.5L349.0 449.5L348.5 449.5L348.0 449.5L347.5 449.5L347.0 449.5L346.5 449.5L346.0 449.5L345.5 449.5L345.0 449.5L344.5 449.5L344.0 449.5L343.5 449.5L343.0 449.5L342.5 449.5L342.0 449.5L341.5 449.5L341.0 449.5L340.5 449.5L340.0 449.5L339.5 449.5L339.0 449.5L338.5 449.5L338.0 449.5L337.5 449.5L337.0 449.5L336.5 449.5L336.0 448.3L335.5 449.5L335.0 449.5L334.5 449.5L334.0 449.5L333.5 449.5L333.0 449.5L332.5 449.5L332.0 449.5L331.5 449.5L331.0 449.5L330.5 449.5L330.0 449.5L329.5 449.5L329.0 449.5L328.5 449.5L328.0 449.5L327.5 449.5L327.0 449.5L326.5 449.5L326.0 449.5L325.5 449.5L325.0 449.5L324.5 449.5L324.0 449.5L323.5 449.5L323.0 449.5L322.5 448.3L322.0 449.5L321.5 449.5L321.0 449.5L320.5 449.5L320.0 449.5L319.5 449.5L319.0 449.5L318.5 449.5L318.0 449.5L317.5 449.5L317.0 449.5L316.5 449.5L316.0 449.5L315.5 449.5L315.0 449.5L314.5 449.5L314.0 449.5L313.5 449.5L313.0 449.5L312.5 449.5L312.0 449.5L311.5 449.5L311.0 449.5L310.5 449.5L310.0 449.5L309.5 449.5L309.0 449.5L308.5 449.5L308.0 448.3L307.5 449.5L307.0 449.5L306.5 449.5L306.0 449.5L305.5 449.5L305.0 449.5L304.5 449.5L304.0 449.5L303.5 449.5L303.0 449.5L302.5 449.5L302.0 449.5L301.5 449.5L301.0 449.5L300.5 449.5L300.0 449.5L299.5 449.5L299.0 449.5L298.5 449.5L298.0 449.5L297.5 449.5L297.0 449.5L296.5 449.5L296.0 449.5L295.5 449.5L295.0 449.5L294.5 449.5L294.0 449.5L293.5 449.5L293.0 449.5L292.5 449.5L292.0 449.5L291.5 449.5L291.0 449.5L290.5 449.5L290.0 449.5L289.5 449.5L289.0 449.5L288.5 449.5L288.0 449.5L287.5 448.3L287.0 449.5L286.5 449.5L286.0 449.5L285.5 449.5L285.0 449.5L284.5 449.5L284.0 449.5L283.5 449.5L283.0 449.5L282.5 449.5L282.0 449.5L281.5 449.5L281.0 449.5L280.5 449.5L280.0 449.5L279.5 449.5L279.0 449.5L278.5 449.5L278.0 449.5L277.5 449.5L277.0 449.5L276.5 449.5L276.0 449.5L275.5 449.5L275.0 449.5L274.5 449.5L274.0 449.5L273.5 449.5L273.0 449.5L272.5 449.5L272.0 449.5L271.5 449.5L271.0 449.5L270.5 449.5L270.0 449.5L269.5 449.5L269.0 449.5L268.5 449.5L268.0 449.5L267.5 449.5L267.0 449.5L266.5 448.3L266.0 449.5L265.5 449.5L265.0 448.3L264.5 449.5L264.0 449.5L263.5 449.5L263.0 449.5L262.5 449.5L262.0 449.5L261.5 449.5L261.0 449.5L260.5 449.5L260.0 449.5L259.5 449.5L259.0 449.5L258.5 449.5L258.0 448.3L257.5 449.5L257.0 449.5L256.5 449.5L256.0 449.5L255.5 449.5L255.0 449.5L254.5 449.5L254.0 449.5L253.5 449.5L253.0 449.5L252.5 449.5L252.0 449.5L251.5 449.5L251.0 449.5L250.5 449.5L250.0 449.5L249.5 449.5L249.0 449.5L248.5 448.3L248.0 449.5L247.5 449.5L247.0 448.3L246.5 449.5L246.0 449.5L245.5 449.5L245.0 449.5L244.5 449.5L244.0 449.5L243.5 449.5L243.0 449.5L242.5 449.5L242.0 449.5L241.5 449.5L241.0 449.5L240.5 448.3L240.0 449.5L239.5 449.5L239.0 449.5L238.5 449.5L238.0 449.5L237.5 449.5L237.0 449.5L236.5 449.5L236.0 449.5L235.5 449.5L235.0 449.5L234.5 449.5L234.0 449.5L233.5 449.5L233.0 449.5L232.5 449.5L232.0 449.5L231.5 449.5L231.0 449.5L230.5 449.5L230.0 449.5L229.5 449.5L229.0 449.5L228.5 449.5L228.0 449.5L227.5 449.5L227.0 449.5L226.5 449.5L226.0 448.3L225.5 449.5L225.0 449.5L224.5 449.5L224.0 449.5L223.5 449.5L223.0 449.5L222.5 449.5L222.0 449.5L221.5 449.5L221.0 449.5L220.5 449.5L220.0 449.5L219.5 449.5L219.0 449.5L218.5 449.5L218.0 449.5L217.5 449.5L217.0 449.5L216.5 449.5L216.0 449.5L215.5 449.5L215.0 449.5L214.5 449.5L214.0 449.5L213.5 449.5L213.0 449.5L212.5 449.5L212.0 449.5L211.5 449.5L211.0 449.5L210.5 449.5L210.0 449.5L209.5 449.5L209.0 449.5L208.5 449.5L208.0 449.5L207.5 449.5L207.0 449.5L206.5 449.5L206.0 449.5L205.5 449.5L205.0 449.5L204.5 449.5L204.0 449.5L203.5 449.5L203.0 449.5L202.5 449.5L202.0 449.5L201.5 449.5L201.0 449.5L200.5 449.5L200.0 449.5L199.5 449.5L199.0 449.5L198.5 449.5L198.0 449.5L197.5 449.5L197.0 449.5L196.5 449.5L196.0 449.5L195.5 449.5L195.0 449.5L194.5 449.5L194.0 449.5L193.5 449.5L193.0 449.5L192.5 449.5L192.0 449.5L191.5 449.5L191.0 449.5L190.5 449.5L190.0 449.5L189.5 449.5L189.0 449.5L188.5 449.5L188.0 449.5L187.5 449.5L187.0 449.5L186.5 449.5L186.0 449.5L185.5 449.5L185.0 449.5L184.5 449.5L184.0 449.5L183.5 449.5L183.0 449.5L182.5 449.5L182.0 449.5L181.5 449.5L181.0 449.5L180.5 449.5L180.0 449.5L179.5 449.5L179.0 449.5L178.5 449.5L178.0 449.5L177.5 449.5L177.0 449.5L176.5 449.5L176.0 449.5L175.5 449.5L175.0 449.5L174.5 449.5L174.0 449.5L173.5 449.5L173.0 449.5L172.5 449.5L172.0 449.5L171.5 449.5L171.0 449.5L170.5 449.5L170.0 449.5L169.5 449.5L169.0 449.5L168.5 449.5L168.0 449.5L167.5 449.5L167.0 449.5L166.5 449.5L166.0 449.5L165.5 449.5L165.0 449.5L164.5 449.5L164.0 449.5L163.5 449.5L163.0 449.5L162.5 449.5L162.0 449.5L161.5 449.5L161.0 449.5L160.5 449.5L160.0 449.5L159.5 449.5L159.0 449.5L158.5 449.5L158.0 449.5L157.5 449.5L157.0 449.5L156.5 449.5L156.0 449.5L155.5 449.5L155.0 449.5L154.5 449.5L154.0 449.5L153.5 449.5L153.0 449.5L152.5 449.5L152.0 449.5L151.5 449.5L151.0 449.5L150.5 449.5L150.0 449.5L149.5 449.5L149.0 449.5L148.5 449.5L148.0 449.5L147.5 449.5L147.0 449.5L146.5 449.5L146.0 449.5L145.5 449.5L145.0 449.5L144.5 449.5L144.0 449.5L143.5 449.5L143.0 449.5L142.5 449.5L142.0 449.5L141.5 449.5L141.0 449.5L140.5 449.5L140.0 449.5L139.5 449.5L139.0 449.5Z"/>
</g>
<g fill="#000">
<rect x="137" y="23" width="1619" height="6"/>
<rect x="137" y="1364" width="1619" height="6.8"/>
<rect x="137" y="23" width="6" height="1347.8"/>
<rect x="1751" y="23" width="5" height="1347.8"/>
<rect x="511.05" y="1370" width="3.9" height="22"/>
<rect x="1007.05" y="1370" width="3.9" height="22"/>
<rect x="1503.05" y="1370" width="3.9" height="22"/>
<rect x="263.10" y="1370" width="3" height="10.8"/>
<rect x="759.50" y="1370" width="3" height="10.8"/>
<rect x="1255.50" y="1370" width="3" height="10.8"/>
<rect x="1752.00" y="1370" width="3" height="10.8"/>
</g>
<text transform="translate(192.9 379.3) scale(0.877 1)" font-family="&quot;Liberation Serif&quot;, serif" font-size="64" fill="#000">Cu-Fe-TiO<tspan font-size="43.5" dy="17.2">2</tspan></text>
<text transform="translate(192.0 626.6) scale(0.877 1)" font-family="&quot;Liberation Serif&quot;, serif" font-size="61.4" fill="#000">Cu-TiO<tspan font-size="42.5" dy="15.5">2</tspan></text>
<text transform="translate(189.9 897.9) scale(0.877 1)" font-family="&quot;Liberation Serif&quot;, serif" font-size="64" fill="#000">Fe-TiO<tspan font-size="43.5" dy="16.6">2</tspan></text>
<text transform="translate(179 1269) scale(0.877 1)" font-family="&quot;Liberation Serif&quot;, serif" font-size="64" fill="#000">Pure-TiO<tspan font-size="43.5" dy="16.8">2</tspan></text>
<text transform="translate(265 1359) scale(0.877 1)" font-family="&quot;Liberation Serif&quot;, serif" font-size="50.5" text-anchor="start" fill="#000">Anatase</text>
<text transform="translate(506.6 1352.1) scale(0.877 1)" font-family="&quot;Liberation Serif&quot;, &quot;Noto Serif CJK SC&quot;, serif" font-size="24.8" fill="#000"><tspan x="-26.3" y="-0.9" font-size="21.8">（</tspan><tspan x="0" y="0">101</tspan><tspan x="42.2" y="-0.9" font-size="21.8">）</tspan></text>
<text transform="translate(757.2 1355.8) scale(0.877 1)" font-family="&quot;Liberation Serif&quot;, &quot;Noto Serif CJK SC&quot;, serif" font-size="24.8" fill="#000"><tspan x="-26.3" y="-0.9" font-size="21.8">（</tspan><tspan x="0" y="0">103</tspan><tspan x="41.3" y="-0.9" font-size="21.8">）</tspan></text>
<text transform="translate(822.0 1338.0) scale(0.877 1)" font-family="&quot;Liberation Serif&quot;, &quot;Noto Serif CJK SC&quot;, serif" font-size="24.8" fill="#000"><tspan x="-26.6" y="-0.9" font-size="21.8">（</tspan><tspan x="0" y="0">004</tspan><tspan x="41.6" y="-0.9" font-size="21.8">）</tspan></text>
<text transform="translate(883.2 1360.0) scale(0.877 1)" font-family="&quot;Liberation Serif&quot;, &quot;Noto Serif CJK SC&quot;, serif" font-size="24.8" fill="#000"><tspan x="-27.4" y="-0.9" font-size="21.8">（</tspan><tspan x="0" y="0">112</tspan><tspan x="41.6" y="-0.9" font-size="21.8">）</tspan></text>
<text transform="translate(1008.6 1353.6) scale(0.877 1)" font-family="&quot;Liberation Serif&quot;, &quot;Noto Serif CJK SC&quot;, serif" font-size="24.8" fill="#000"><tspan x="-26.5" y="-0.9" font-size="21.8">（</tspan><tspan x="0" y="0">200</tspan><tspan x="41.9" y="-0.9" font-size="21.8">）</tspan></text>
<text transform="translate(1139.1 1343.1) scale(0.877 1)" font-family="&quot;Liberation Serif&quot;, &quot;Noto Serif CJK SC&quot;, serif" font-size="24.8" fill="#000"><tspan x="-26.2" y="-0.9" font-size="21.8">（</tspan><tspan x="0" y="0">105</tspan><tspan x="41.5" y="-0.9" font-size="21.8">）</tspan></text>
<text transform="translate(1213.8 1346.9) scale(0.877 1)" font-family="&quot;Liberation Serif&quot;, &quot;Noto Serif CJK SC&quot;, serif" font-size="24.8" fill="#000"><tspan x="-24.8" y="-0.9" font-size="21.8">（</tspan><tspan x="0" y="0">211</tspan><tspan x="42.0" y="-0.9" font-size="21.8">）</tspan></text>
<text transform="translate(1315.6 1356.6) scale(0.877 1)" font-family="&quot;Liberation Serif&quot;, &quot;Noto Serif CJK SC&quot;, serif" font-size="24.8" fill="#000"><tspan x="-26.1" y="-0.9" font-size="21.8">（</tspan><tspan x="0" y="0">213</tspan><tspan x="42.1" y="-0.9" font-size="21.8">）</tspan></text>
<text transform="translate(1387.6 1349.9) scale(0.877 1)" font-family="&quot;Liberation Serif&quot;, &quot;Noto Serif CJK SC&quot;, serif" font-size="24.8" fill="#000"><tspan x="-25.4" y="-0.9" font-size="21.8">（</tspan><tspan x="0" y="0">204</tspan><tspan x="42.3" y="-0.9" font-size="21.8">）</tspan></text>
<text transform="translate(1467.1 1356.6) scale(0.877 1)" font-family="&quot;Liberation Serif&quot;, &quot;Noto Serif CJK SC&quot;, serif" font-size="24.8" fill="#000"><tspan x="-27.0" y="-0.9" font-size="21.8">（</tspan><tspan x="0" y="0">116</tspan><tspan x="41.9" y="-0.9" font-size="21.8">）</tspan></text>
<text transform="translate(1534.9 1352.7) scale(0.877 1)" font-family="&quot;Liberation Serif&quot;, &quot;Noto Serif CJK SC&quot;, serif" font-size="24.8" fill="#000"><tspan x="-26.8" y="-0.9" font-size="21.8">（</tspan><tspan x="0" y="0">220</tspan><tspan x="41.9" y="-0.9" font-size="21.8">）</tspan></text>
<text transform="translate(1616.3 1349.0) scale(0.877 1)" font-family="&quot;Liberation Serif&quot;, &quot;Noto Serif CJK SC&quot;, serif" font-size="24.8" fill="#000"><tspan x="-29.1" y="-0.9" font-size="21.8">（</tspan><tspan x="0" y="0">107</tspan><tspan x="41.7" y="-0.9" font-size="21.8">）</tspan></text>
<text transform="translate(1685.5 1349.9) scale(0.877 1)" font-family="&quot;Liberation Serif&quot;, &quot;Noto Serif CJK SC&quot;, serif" font-size="24.8" fill="#000"><tspan x="-26.3" y="-0.9" font-size="21.8">（</tspan><tspan x="0" y="0">301</tspan><tspan x="42.6" y="-0.9" font-size="21.8">）</tspan></text>
<text transform="translate(1634.7 1292.9) scale(0.877 1)" font-family="&quot;Liberation Serif&quot;, &quot;Noto Serif CJK SC&quot;, serif" font-size="24.8" fill="#000"><tspan x="-28.3" y="-0.9" font-size="21.8">（</tspan><tspan x="0" y="0">215</tspan><tspan x="42.6" y="-0.9" font-size="21.8">）</tspan></text>
<text transform="translate(513 1450) scale(0.877 1)" font-family="&quot;Liberation Serif&quot;, serif" font-size="52.5" font-weight="bold" text-anchor="middle" fill="#000">20</text>
<text transform="translate(1009 1450) scale(0.877 1)" font-family="&quot;Liberation Serif&quot;, serif" font-size="52.5" font-weight="bold" text-anchor="middle" fill="#000">40</text>
<text transform="translate(1505 1450) scale(0.877 1)" font-family="&quot;Liberation Serif&quot;, serif" font-size="52.5" font-weight="bold" text-anchor="middle" fill="#000">60</text>
<text transform="translate(907.5 1523) scale(0.9015 1)" font-family="&quot;Liberation Serif&quot;, serif" font-size="65" font-weight="bold" text-anchor="middle" fill="#000">2<tspan font-weight="normal" font-size="61">θ</tspan> (CuKα)</text>
<text transform="translate(58.6 741) scale(0.877 1) rotate(-90)" font-family="&quot;Liberation Serif&quot;, serif" font-size="63" font-weight="bold" text-anchor="middle" fill="#000">Intensity (a.u.)</text>
<g fill="#FF0080">
<rect x="642.5" y="1271.0" width="2.6" height="93.3"/>
<rect x="932.0" y="1358.0" width="2.2" height="6.3"/>
<rect x="954.1" y="1348.0" width="2.0" height="16.3"/>
<rect x="972.0" y="1358.5" width="2.8" height="5.8"/>
<rect x="1207.9" y="1334.6" width="2.2" height="29.7"/>
<rect x="1353.0" y="1348.0" width="2.0" height="16.3"/>
<rect x="1382.0" y="1349.0" width="2.0" height="15.3"/>
<rect x="1571.0" y="1354.0" width="2.0" height="10.3"/>
<rect x="1721.9" y="1362.0" width="2.2" height="2.3"/>
</g>
</svg>
</body>
</html>
